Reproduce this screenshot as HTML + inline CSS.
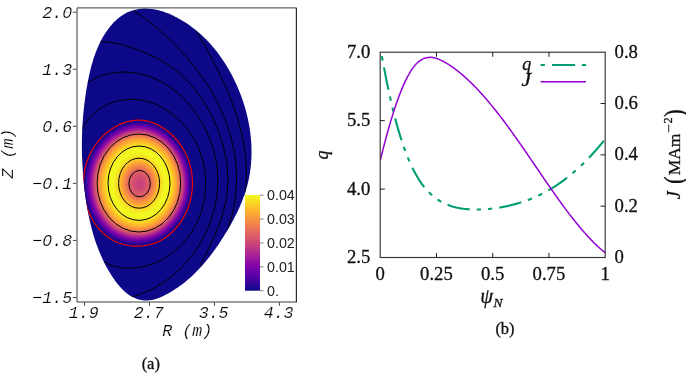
<!DOCTYPE html><html><head><meta charset="utf-8"><style>html,body{margin:0;padding:0;background:#fff}body{width:686px;height:373px;overflow:hidden;position:relative;font-family:"Liberation Sans",sans-serif}</style></head><body><svg width="686" height="373" viewBox="0 0 686 373" style="position:absolute;left:0;top:0;will-change:transform">
<defs>
<clipPath id="cb"><path d="M146.42 8.60L143.97 8.62L141.53 8.76L139.10 9.03L136.69 9.43L134.31 9.96L131.97 10.63L129.68 11.43L127.45 12.36L125.29 13.43L123.20 14.64L121.18 15.98L119.23 17.42L117.35 18.98L115.54 20.63L113.80 22.36L112.12 24.17L110.52 26.05L108.98 27.98L107.51 29.96L106.11 31.97L104.77 34.02L103.49 36.10L102.27 38.21L101.11 40.35L100.01 42.51L98.96 44.70L97.96 46.92L97.01 49.16L96.11 51.41L95.25 53.69L94.44 55.99L93.67 58.31L92.94 60.64L92.25 62.98L91.59 65.34L90.96 67.71L90.37 70.09L89.80 72.48L89.26 74.87L88.75 77.27L88.26 79.68L87.79 82.09L87.33 84.50L86.90 86.92L86.49 89.33L86.09 91.75L85.71 94.17L85.35 96.59L85.01 99.01L84.69 101.44L84.38 103.86L84.10 106.29L83.83 108.72L83.58 111.15L83.34 113.58L83.13 116.01L82.93 118.45L82.75 120.88L82.59 123.31L82.44 125.75L82.31 128.19L82.20 130.62L82.11 133.06L82.03 135.50L81.97 137.93L81.93 140.37L81.90 142.81L81.90 145.25L81.90 147.69L81.93 150.13L81.97 152.56L82.03 155.00L82.10 157.44L82.19 159.88L82.30 162.31L82.42 164.75L82.56 167.18L82.71 169.62L82.88 172.05L83.07 174.49L83.27 176.92L83.49 179.35L83.72 181.78L83.97 184.21L84.23 186.64L84.51 189.06L84.80 191.49L85.11 193.91L85.44 196.33L85.78 198.75L86.14 201.17L86.51 203.58L86.90 205.99L87.31 208.40L87.74 210.80L88.19 213.20L88.66 215.60L89.16 217.99L89.68 220.37L90.22 222.74L90.78 225.11L91.37 227.48L91.99 229.83L92.63 232.18L93.30 234.52L94.00 236.85L94.73 239.17L95.49 241.48L96.28 243.78L97.10 246.07L97.96 248.35L98.85 250.62L99.77 252.87L100.73 255.11L101.72 257.34L102.75 259.56L103.82 261.76L104.93 263.95L106.07 266.13L107.26 268.29L108.48 270.43L109.75 272.56L111.06 274.67L112.41 276.77L113.81 278.85L115.26 280.90L116.75 282.91L118.31 284.87L119.92 286.77L121.59 288.59L123.33 290.33L125.14 291.98L127.02 293.51L128.99 294.93L131.03 296.21L133.16 297.35L135.38 298.33L137.66 299.15L139.99 299.78L142.35 300.23L144.73 300.48L147.11 300.51L149.48 300.33L151.84 299.96L154.18 299.42L156.50 298.72L158.79 297.89L161.06 296.94L163.31 295.91L165.52 294.81L167.70 293.66L169.84 292.47L171.95 291.23L174.03 289.95L176.07 288.62L178.08 287.26L180.06 285.85L182.01 284.41L183.93 282.93L185.82 281.41L187.68 279.86L189.51 278.27L191.32 276.65L193.09 275.00L194.84 273.31L196.56 271.59L198.25 269.85L199.92 268.08L201.56 266.28L203.18 264.45L204.77 262.60L206.34 260.72L207.89 258.82L209.41 256.90L210.92 254.96L212.39 253.00L213.85 251.02L215.29 249.02L216.71 247.00L218.11 244.97L219.48 242.92L220.84 240.87L222.19 238.79L223.51 236.71L224.82 234.61L226.11 232.51L227.38 230.40L228.63 228.27L229.87 226.14L231.08 224.00L232.27 221.85L233.43 219.69L234.57 217.51L235.68 215.33L236.77 213.14L237.83 210.94L238.85 208.73L239.84 206.50L240.80 204.27L241.73 202.02L242.62 199.77L243.47 197.50L244.29 195.23L245.06 192.94L245.80 190.64L246.49 188.33L247.14 186.00L247.74 183.67L248.30 181.33L248.81 178.97L249.28 176.60L249.70 174.23L250.08 171.84L250.41 169.45L250.69 167.05L250.94 164.64L251.14 162.22L251.30 159.80L251.41 157.38L251.48 154.95L251.51 152.51L251.50 150.08L251.45 147.64L251.36 145.20L251.22 142.75L251.05 140.31L250.84 137.87L250.59 135.43L250.30 132.99L249.97 130.56L249.60 128.12L249.20 125.69L248.75 123.27L248.27 120.85L247.76 118.43L247.21 116.03L246.62 113.63L246.00 111.23L245.34 108.85L244.65 106.47L243.92 104.11L243.16 101.75L242.37 99.41L241.54 97.08L240.68 94.76L239.79 92.45L238.87 90.16L237.91 87.88L236.93 85.62L235.91 83.38L234.86 81.15L233.78 78.93L232.68 76.74L231.54 74.56L230.38 72.41L229.18 70.27L227.96 68.15L226.71 66.06L225.43 63.99L224.12 61.94L222.77 59.91L221.40 57.91L220.00 55.93L218.57 53.98L217.11 52.05L215.62 50.15L214.10 48.27L212.54 46.43L210.96 44.61L209.34 42.82L207.69 41.06L206.01 39.33L204.30 37.64L202.56 35.97L200.78 34.34L198.97 32.74L197.13 31.17L195.26 29.64L193.35 28.15L191.41 26.69L189.44 25.26L187.43 23.87L185.39 22.52L183.31 21.21L181.20 19.94L179.06 18.71L176.88 17.52L174.68 16.38L172.44 15.29L170.17 14.27L167.88 13.31L165.57 12.42L163.23 11.61L160.88 10.89L158.50 10.25L156.11 9.71L153.70 9.27L151.28 8.93L148.86 8.71Z"/></clipPath>
<linearGradient id="cbar" x1="0" y1="1" x2="0" y2="0">
<stop offset="0.00" stop-color="#0d0887"/>
<stop offset="0.05" stop-color="#270694"/>
<stop offset="0.10" stop-color="#41049d"/>
<stop offset="0.15" stop-color="#5702a4"/>
<stop offset="0.20" stop-color="#6a00a8"/>
<stop offset="0.25" stop-color="#7e03a8"/>
<stop offset="0.30" stop-color="#8f0da4"/>
<stop offset="0.35" stop-color="#a11b9b"/>
<stop offset="0.40" stop-color="#b12a90"/>
<stop offset="0.45" stop-color="#bf3984"/>
<stop offset="0.50" stop-color="#cc4778"/>
<stop offset="0.55" stop-color="#d7566d"/>
<stop offset="0.60" stop-color="#e16462"/>
<stop offset="0.65" stop-color="#ea7457"/>
<stop offset="0.70" stop-color="#f2844b"/>
<stop offset="0.75" stop-color="#f89540"/>
<stop offset="0.80" stop-color="#fca636"/>
<stop offset="0.85" stop-color="#feba2c"/>
<stop offset="0.90" stop-color="#fcce25"/>
<stop offset="0.95" stop-color="#f7e425"/>
<stop offset="1.00" stop-color="#f0f921"/>
</linearGradient>
</defs>
<path d="M146.42 8.60L143.97 8.62L141.53 8.76L139.10 9.03L136.69 9.43L134.31 9.96L131.97 10.63L129.68 11.43L127.45 12.36L125.29 13.43L123.20 14.64L121.18 15.98L119.23 17.42L117.35 18.98L115.54 20.63L113.80 22.36L112.12 24.17L110.52 26.05L108.98 27.98L107.51 29.96L106.11 31.97L104.77 34.02L103.49 36.10L102.27 38.21L101.11 40.35L100.01 42.51L98.96 44.70L97.96 46.92L97.01 49.16L96.11 51.41L95.25 53.69L94.44 55.99L93.67 58.31L92.94 60.64L92.25 62.98L91.59 65.34L90.96 67.71L90.37 70.09L89.80 72.48L89.26 74.87L88.75 77.27L88.26 79.68L87.79 82.09L87.33 84.50L86.90 86.92L86.49 89.33L86.09 91.75L85.71 94.17L85.35 96.59L85.01 99.01L84.69 101.44L84.38 103.86L84.10 106.29L83.83 108.72L83.58 111.15L83.34 113.58L83.13 116.01L82.93 118.45L82.75 120.88L82.59 123.31L82.44 125.75L82.31 128.19L82.20 130.62L82.11 133.06L82.03 135.50L81.97 137.93L81.93 140.37L81.90 142.81L81.90 145.25L81.90 147.69L81.93 150.13L81.97 152.56L82.03 155.00L82.10 157.44L82.19 159.88L82.30 162.31L82.42 164.75L82.56 167.18L82.71 169.62L82.88 172.05L83.07 174.49L83.27 176.92L83.49 179.35L83.72 181.78L83.97 184.21L84.23 186.64L84.51 189.06L84.80 191.49L85.11 193.91L85.44 196.33L85.78 198.75L86.14 201.17L86.51 203.58L86.90 205.99L87.31 208.40L87.74 210.80L88.19 213.20L88.66 215.60L89.16 217.99L89.68 220.37L90.22 222.74L90.78 225.11L91.37 227.48L91.99 229.83L92.63 232.18L93.30 234.52L94.00 236.85L94.73 239.17L95.49 241.48L96.28 243.78L97.10 246.07L97.96 248.35L98.85 250.62L99.77 252.87L100.73 255.11L101.72 257.34L102.75 259.56L103.82 261.76L104.93 263.95L106.07 266.13L107.26 268.29L108.48 270.43L109.75 272.56L111.06 274.67L112.41 276.77L113.81 278.85L115.26 280.90L116.75 282.91L118.31 284.87L119.92 286.77L121.59 288.59L123.33 290.33L125.14 291.98L127.02 293.51L128.99 294.93L131.03 296.21L133.16 297.35L135.38 298.33L137.66 299.15L139.99 299.78L142.35 300.23L144.73 300.48L147.11 300.51L149.48 300.33L151.84 299.96L154.18 299.42L156.50 298.72L158.79 297.89L161.06 296.94L163.31 295.91L165.52 294.81L167.70 293.66L169.84 292.47L171.95 291.23L174.03 289.95L176.07 288.62L178.08 287.26L180.06 285.85L182.01 284.41L183.93 282.93L185.82 281.41L187.68 279.86L189.51 278.27L191.32 276.65L193.09 275.00L194.84 273.31L196.56 271.59L198.25 269.85L199.92 268.08L201.56 266.28L203.18 264.45L204.77 262.60L206.34 260.72L207.89 258.82L209.41 256.90L210.92 254.96L212.39 253.00L213.85 251.02L215.29 249.02L216.71 247.00L218.11 244.97L219.48 242.92L220.84 240.87L222.19 238.79L223.51 236.71L224.82 234.61L226.11 232.51L227.38 230.40L228.63 228.27L229.87 226.14L231.08 224.00L232.27 221.85L233.43 219.69L234.57 217.51L235.68 215.33L236.77 213.14L237.83 210.94L238.85 208.73L239.84 206.50L240.80 204.27L241.73 202.02L242.62 199.77L243.47 197.50L244.29 195.23L245.06 192.94L245.80 190.64L246.49 188.33L247.14 186.00L247.74 183.67L248.30 181.33L248.81 178.97L249.28 176.60L249.70 174.23L250.08 171.84L250.41 169.45L250.69 167.05L250.94 164.64L251.14 162.22L251.30 159.80L251.41 157.38L251.48 154.95L251.51 152.51L251.50 150.08L251.45 147.64L251.36 145.20L251.22 142.75L251.05 140.31L250.84 137.87L250.59 135.43L250.30 132.99L249.97 130.56L249.60 128.12L249.20 125.69L248.75 123.27L248.27 120.85L247.76 118.43L247.21 116.03L246.62 113.63L246.00 111.23L245.34 108.85L244.65 106.47L243.92 104.11L243.16 101.75L242.37 99.41L241.54 97.08L240.68 94.76L239.79 92.45L238.87 90.16L237.91 87.88L236.93 85.62L235.91 83.38L234.86 81.15L233.78 78.93L232.68 76.74L231.54 74.56L230.38 72.41L229.18 70.27L227.96 68.15L226.71 66.06L225.43 63.99L224.12 61.94L222.77 59.91L221.40 57.91L220.00 55.93L218.57 53.98L217.11 52.05L215.62 50.15L214.10 48.27L212.54 46.43L210.96 44.61L209.34 42.82L207.69 41.06L206.01 39.33L204.30 37.64L202.56 35.97L200.78 34.34L198.97 32.74L197.13 31.17L195.26 29.64L193.35 28.15L191.41 26.69L189.44 25.26L187.43 23.87L185.39 22.52L183.31 21.21L181.20 19.94L179.06 18.71L176.88 17.52L174.68 16.38L172.44 15.29L170.17 14.27L167.88 13.31L165.57 12.42L163.23 11.61L160.88 10.89L158.50 10.25L156.11 9.71L153.70 9.27L151.28 8.93L148.86 8.71Z" fill="#0d0887"/>
<g clip-path="url(#cb)">
<path d="M83.4 183.3L83.5 179.5L83.8 175.6L84.4 171.8L85.2 168.0L86.1 164.2L87.4 160.5L88.8 156.9L90.5 153.3L92.3 149.8L94.5 146.4L96.8 143.0L99.4 139.9L102.2 136.8L105.2 134.0L108.5 131.3L111.9 128.8L115.6 126.6L119.4 124.6L123.5 123.0L127.6 121.6L131.9 120.7L136.3 120.2L140.7 120.2L145.1 120.7L149.4 121.7L153.5 123.1L157.5 124.8L161.3 126.8L164.9 129.2L168.3 131.7L171.4 134.5L174.4 137.4L177.1 140.4L179.6 143.6L181.9 146.9L183.9 150.3L185.7 153.8L187.3 157.3L188.7 161.0L189.8 164.6L190.8 168.3L191.5 172.0L192.0 175.8L192.3 179.5L192.4 183.3L192.3 187.1L192.0 190.8L191.5 194.6L190.8 198.3L189.9 202.0L188.8 205.7L187.4 209.3L185.8 212.9L184.1 216.4L182.1 219.9L179.8 223.2L177.4 226.5L174.7 229.6L171.7 232.5L168.5 235.3L165.1 237.8L161.4 240.1L157.6 242.0L153.5 243.6L149.3 244.8L145.0 245.6L140.7 246.0L136.3 246.2L131.9 245.9L127.6 245.3L123.3 244.4L119.1 243.0L115.1 241.3L111.2 239.3L107.6 236.9L104.2 234.1L101.1 231.2L98.3 228.0L95.7 224.6L93.4 221.1L91.4 217.5L89.6 213.9L88.1 210.1L86.8 206.3L85.7 202.5L84.8 198.7L84.1 194.9L83.7 191.0L83.4 187.2Z" fill="#100888"/>
<path d="M84.0 183.3L84.1 179.5L84.5 175.7L85.0 171.9L85.8 168.2L86.8 164.5L88.0 160.8L89.4 157.2L91.0 153.6L92.9 150.1L95.0 146.8L97.3 143.5L99.8 140.3L102.6 137.3L105.6 134.5L108.8 131.9L112.2 129.4L115.9 127.2L119.7 125.3L123.6 123.6L127.8 122.3L132.0 121.4L136.3 120.9L140.7 120.9L145.0 121.4L149.3 122.4L153.4 123.7L157.3 125.4L161.1 127.5L164.6 129.8L168.0 132.3L171.1 135.0L174.0 137.9L176.7 140.9L179.2 144.0L181.4 147.3L183.4 150.7L185.2 154.1L186.8 157.6L188.1 161.2L189.3 164.8L190.2 168.5L190.9 172.2L191.4 175.9L191.8 179.6L191.9 183.3L191.8 187.0L191.5 190.7L191.0 194.5L190.3 198.1L189.3 201.8L188.2 205.4L186.9 209.0L185.3 212.6L183.6 216.0L181.6 219.5L179.4 222.8L177.0 226.0L174.3 229.1L171.4 232.0L168.2 234.7L164.8 237.2L161.2 239.4L157.4 241.3L153.4 242.9L149.2 244.1L145.0 244.9L140.7 245.4L136.3 245.5L132.0 245.2L127.7 244.6L123.5 243.7L119.3 242.4L115.3 240.7L111.5 238.6L108.0 236.2L104.6 233.6L101.5 230.6L98.7 227.5L96.2 224.2L93.9 220.7L91.9 217.1L90.2 213.5L88.7 209.8L87.4 206.1L86.3 202.3L85.4 198.5L84.8 194.7L84.3 190.9L84.1 187.1Z" fill="#17078c"/>
<path d="M84.6 183.3L84.8 179.5L85.1 175.8L85.6 172.1L86.4 168.4L87.4 164.7L88.5 161.1L89.9 157.5L91.6 154.0L93.4 150.5L95.5 147.2L97.8 143.9L100.3 140.8L103.0 137.9L106.0 135.1L109.2 132.4L112.5 130.0L116.1 127.8L119.9 125.9L123.8 124.3L127.9 123.0L132.1 122.1L136.4 121.6L140.7 121.6L145.0 122.1L149.1 123.1L153.2 124.4L157.1 126.1L160.8 128.1L164.4 130.4L167.7 132.8L170.8 135.5L173.6 138.4L176.3 141.4L178.7 144.5L181.0 147.7L183.0 151.0L184.7 154.4L186.3 157.9L187.6 161.5L188.7 165.0L189.7 168.6L190.4 172.3L190.9 176.0L191.2 179.6L191.3 183.3L191.2 187.0L190.9 190.7L190.4 194.3L189.7 198.0L188.8 201.6L187.7 205.2L186.4 208.7L184.8 212.2L183.1 215.7L181.1 219.1L179.0 222.3L176.5 225.5L173.9 228.6L171.0 231.5L167.9 234.2L164.5 236.6L160.9 238.8L157.2 240.7L153.2 242.2L149.1 243.4L144.9 244.2L140.7 244.7L136.4 244.8L132.1 244.5L127.8 243.9L123.6 243.0L119.6 241.7L115.6 240.0L111.9 238.0L108.3 235.6L105.0 233.0L102.0 230.1L99.2 227.0L96.7 223.7L94.5 220.3L92.5 216.7L90.8 213.2L89.3 209.5L88.0 205.8L86.9 202.1L86.1 198.3L85.4 194.6L85.0 190.8L84.7 187.1Z" fill="#210691"/>
<path d="M85.3 183.3L85.4 179.6L85.7 175.9L86.3 172.2L87.0 168.5L88.0 164.9L89.1 161.3L90.5 157.8L92.1 154.3L93.9 150.9L96.0 147.6L98.2 144.4L100.7 141.3L103.4 138.4L106.4 135.6L109.5 133.0L112.8 130.6L116.4 128.5L120.1 126.6L124.0 125.0L128.0 123.7L132.2 122.8L136.4 122.3L140.7 122.3L144.9 122.8L149.0 123.7L153.1 125.1L156.9 126.7L160.6 128.7L164.1 130.9L167.4 133.4L170.4 136.0L173.3 138.9L175.9 141.8L178.3 144.9L180.5 148.1L182.5 151.4L184.2 154.8L185.8 158.2L187.1 161.7L188.2 165.2L189.1 168.8L189.8 172.4L190.3 176.0L190.6 179.7L190.7 183.3L190.6 187.0L190.3 190.6L189.8 194.2L189.1 197.8L188.2 201.4L187.1 204.9L185.8 208.5L184.3 211.9L182.6 215.3L180.7 218.7L178.5 221.9L176.1 225.1L173.5 228.1L170.7 230.9L167.6 233.6L164.2 236.0L160.7 238.2L157.0 240.0L153.1 241.6L149.0 242.7L144.9 243.5L140.7 244.0L136.4 244.1L132.2 243.8L128.0 243.2L123.8 242.3L119.8 241.0L115.9 239.3L112.2 237.3L108.7 235.0L105.4 232.4L102.4 229.5L99.7 226.4L97.2 223.2L95.0 219.8L93.1 216.4L91.3 212.8L89.9 209.2L88.6 205.5L87.5 201.9L86.7 198.2L86.1 194.5L85.6 190.7L85.3 187.0Z" fill="#2b0695"/>
<path d="M85.9 183.3L86.1 179.6L86.4 176.0L86.9 172.3L87.6 168.7L88.6 165.1L89.7 161.6L91.1 158.1L92.7 154.6L94.5 151.3L96.5 148.0L98.7 144.8L101.2 141.8L103.8 138.9L106.7 136.2L109.8 133.6L113.1 131.2L116.6 129.1L120.3 127.2L124.2 125.7L128.2 124.4L132.3 123.5L136.4 123.1L140.7 123.1L144.8 123.5L148.9 124.4L152.9 125.7L156.7 127.4L160.4 129.3L163.8 131.5L167.0 134.0L170.1 136.6L172.9 139.4L175.5 142.3L177.9 145.3L180.0 148.5L182.0 151.8L183.7 155.1L185.2 158.5L186.5 161.9L187.6 165.4L188.5 169.0L189.2 172.5L189.7 176.1L190.0 179.7L190.1 183.3L190.0 186.9L189.7 190.5L189.2 194.1L188.6 197.7L187.7 201.2L186.6 204.7L185.3 208.2L183.8 211.6L182.1 215.0L180.2 218.3L178.1 221.5L175.7 224.6L173.1 227.6L170.3 230.4L167.2 233.0L164.0 235.4L160.5 237.6L156.8 239.4L152.9 240.9L148.9 242.0L144.8 242.8L140.6 243.3L136.5 243.4L132.3 243.1L128.1 242.5L124.0 241.6L120.0 240.3L116.2 238.7L112.5 236.7L109.1 234.4L105.9 231.8L102.9 229.0L100.2 225.9L97.7 222.7L95.6 219.4L93.6 216.0L91.9 212.5L90.4 208.9L89.2 205.3L88.2 201.7L87.3 198.0L86.7 194.3L86.2 190.7L86.0 187.0Z" fill="#38059a"/>
<path d="M86.6 183.3L86.7 179.7L87.0 176.1L87.5 172.5L88.3 168.9L89.2 165.3L90.3 161.8L91.7 158.4L93.2 155.0L95.0 151.7L97.0 148.4L99.2 145.3L101.6 142.3L104.3 139.4L107.1 136.7L110.2 134.2L113.5 131.8L116.9 129.7L120.5 127.9L124.4 126.3L128.3 125.1L132.3 124.2L136.5 123.8L140.6 123.8L144.8 124.2L148.8 125.1L152.8 126.4L156.5 128.0L160.1 129.9L163.5 132.1L166.7 134.5L169.7 137.1L172.5 139.9L175.1 142.8L177.4 145.8L179.6 148.9L181.5 152.1L183.2 155.4L184.7 158.8L186.0 162.2L187.1 165.7L188.0 169.2L188.6 172.7L189.1 176.2L189.4 179.8L189.5 183.3L189.4 186.9L189.2 190.4L188.7 194.0L188.0 197.5L187.1 201.0L186.1 204.5L184.8 207.9L183.3 211.3L181.6 214.6L179.7 217.9L177.6 221.0L175.3 224.1L172.7 227.1L169.9 229.8L166.9 232.4L163.7 234.8L160.2 236.9L156.6 238.8L152.8 240.2L148.8 241.4L144.7 242.2L140.6 242.6L136.5 242.7L132.3 242.4L128.2 241.8L124.2 240.9L120.3 239.6L116.5 238.0L112.8 236.1L109.4 233.8L106.3 231.2L103.3 228.4L100.7 225.4L98.2 222.2L96.1 219.0L94.2 215.6L92.5 212.1L91.0 208.6L89.8 205.0L88.8 201.4L88.0 197.8L87.3 194.2L86.9 190.6L86.6 186.9Z" fill="#46049f"/>
<path d="M87.2 183.3L87.3 179.7L87.7 176.2L88.2 172.6L88.9 169.1L89.8 165.6L90.9 162.1L92.2 158.7L93.8 155.3L95.5 152.0L97.5 148.8L99.7 145.7L102.1 142.8L104.7 139.9L107.5 137.2L110.5 134.7L113.8 132.4L117.2 130.4L120.8 128.5L124.5 127.0L128.4 125.8L132.4 124.9L136.5 124.5L140.6 124.5L144.7 124.9L148.7 125.8L152.6 127.1L156.3 128.7L159.9 130.6L163.3 132.7L166.4 135.1L169.4 137.6L172.1 140.4L174.7 143.2L177.0 146.2L179.1 149.3L181.0 152.5L182.7 155.7L184.2 159.1L185.5 162.4L186.5 165.9L187.4 169.3L188.1 172.8L188.6 176.3L188.8 179.8L188.9 183.3L188.9 186.8L188.6 190.3L188.1 193.8L187.4 197.3L186.6 200.8L185.5 204.2L184.3 207.6L182.8 211.0L181.1 214.3L179.3 217.5L177.2 220.6L174.9 223.6L172.4 226.6L169.6 229.3L166.6 231.9L163.4 234.2L160.0 236.3L156.4 238.1L152.6 239.6L148.7 240.7L144.7 241.5L140.6 241.9L136.5 242.0L132.4 241.7L128.4 241.2L124.4 240.2L120.5 239.0L116.7 237.4L113.2 235.4L109.8 233.2L106.7 230.6L103.8 227.9L101.1 224.9L98.8 221.8L96.6 218.5L94.7 215.2L93.1 211.8L91.6 208.3L90.4 204.8L89.4 201.2L88.6 197.7L88.0 194.1L87.5 190.5L87.3 186.9Z" fill="#5402a3"/>
<path d="M87.9 183.3L88.0 179.8L88.3 176.3L88.8 172.7L89.5 169.2L90.4 165.8L91.5 162.4L92.8 159.0L94.3 155.7L96.1 152.4L98.0 149.3L100.1 146.2L102.5 143.3L105.1 140.4L107.9 137.8L110.9 135.3L114.1 133.0L117.4 131.0L121.0 129.2L124.7 127.7L128.6 126.5L132.5 125.6L136.6 125.2L140.6 125.2L144.7 125.6L148.6 126.5L152.4 127.7L156.1 129.3L159.7 131.2L163.0 133.3L166.1 135.6L169.0 138.2L171.8 140.9L174.3 143.7L176.6 146.6L178.7 149.7L180.5 152.8L182.2 156.1L183.7 159.4L184.9 162.7L186.0 166.1L186.8 169.5L187.5 172.9L188.0 176.4L188.3 179.8L188.4 183.3L188.3 186.8L188.0 190.3L187.5 193.7L186.9 197.2L186.0 200.6L185.0 204.0L183.7 207.3L182.3 210.6L180.7 213.9L178.8 217.1L176.8 220.2L174.5 223.2L172.0 226.1L169.2 228.8L166.3 231.3L163.1 233.6L159.7 235.7L156.2 237.5L152.4 238.9L148.6 240.0L144.6 240.8L140.6 241.2L136.6 241.3L132.5 241.1L128.5 240.5L124.6 239.6L120.7 238.3L117.0 236.7L113.5 234.8L110.2 232.5L107.1 230.0L104.2 227.3L101.6 224.4L99.3 221.3L97.2 218.1L95.3 214.8L93.6 211.4L92.2 208.0L91.0 204.5L90.0 201.0L89.2 197.5L88.6 193.9L88.2 190.4L87.9 186.9Z" fill="#6001a6"/>
<path d="M88.5 183.3L88.6 179.8L88.9 176.3L89.4 172.9L90.1 169.4L91.0 166.0L92.1 162.6L93.4 159.3L94.9 156.0L96.6 152.8L98.5 149.7L100.6 146.6L102.9 143.7L105.5 141.0L108.2 138.3L111.2 135.9L114.4 133.6L117.7 131.6L121.2 129.8L124.9 128.3L128.7 127.1L132.6 126.3L136.6 125.9L140.6 125.9L144.6 126.3L148.5 127.2L152.3 128.4L155.9 130.0L159.4 131.8L162.7 133.9L165.8 136.2L168.7 138.7L171.4 141.4L173.9 144.2L176.1 147.1L178.2 150.1L180.1 153.2L181.7 156.4L183.1 159.6L184.4 162.9L185.4 166.3L186.3 169.7L186.9 173.1L187.4 176.5L187.7 179.9L187.8 183.3L187.7 186.8L187.4 190.2L187.0 193.6L186.3 197.0L185.5 200.4L184.4 203.7L183.2 207.0L181.8 210.3L180.2 213.5L178.3 216.7L176.3 219.7L174.1 222.7L171.6 225.6L168.9 228.2L166.0 230.8L162.8 233.0L159.5 235.1L156.0 236.8L152.3 238.3L148.5 239.4L144.6 240.1L140.6 240.5L136.6 240.6L132.6 240.4L128.6 239.8L124.7 238.9L121.0 237.6L117.3 236.1L113.8 234.1L110.5 231.9L107.5 229.5L104.7 226.8L102.1 223.9L99.8 220.8L97.7 217.7L95.8 214.4L94.2 211.1L92.8 207.7L91.6 204.2L90.6 200.8L89.8 197.3L89.2 193.8L88.8 190.3L88.6 186.8Z" fill="#6e01a8"/>
<path d="M89.1 183.3L89.3 179.9L89.6 176.4L90.0 173.0L90.7 169.6L91.6 166.2L92.7 162.9L93.9 159.6L95.4 156.3L97.1 153.2L99.0 150.1L101.1 147.1L103.4 144.2L105.9 141.5L108.6 138.9L111.5 136.5L114.7 134.2L118.0 132.2L121.4 130.5L125.1 129.0L128.8 127.8L132.7 127.0L136.6 126.6L140.6 126.6L144.5 127.0L148.4 127.8L152.1 129.1L155.7 130.6L159.2 132.4L162.4 134.5L165.5 136.8L168.4 139.2L171.0 141.9L173.5 144.6L175.7 147.5L177.7 150.5L179.6 153.6L181.2 156.7L182.6 159.9L183.9 163.2L184.9 166.5L185.7 169.8L186.4 173.2L186.8 176.6L187.1 179.9L187.2 183.3L187.1 186.7L186.8 190.1L186.4 193.5L185.7 196.8L184.9 200.2L183.9 203.5L182.7 206.8L181.3 210.0L179.7 213.2L177.9 216.3L175.9 219.3L173.6 222.2L171.2 225.1L168.5 227.7L165.7 230.2L162.6 232.5L159.3 234.5L155.8 236.2L152.1 237.6L148.4 238.7L144.5 239.4L140.6 239.8L136.6 239.9L132.7 239.7L128.8 239.1L124.9 238.2L121.2 237.0L117.6 235.4L114.1 233.5L110.9 231.3L107.9 228.9L105.1 226.2L102.6 223.4L100.3 220.4L98.2 217.2L96.4 214.0L94.8 210.7L93.4 207.4L92.2 204.0L91.3 200.6L90.5 197.1L89.9 193.7L89.4 190.2L89.2 186.8Z" fill="#7c03a8"/>
<path d="M89.8 183.3L89.9 179.9L90.2 176.5L90.7 173.1L91.3 169.8L92.2 166.4L93.3 163.1L94.5 159.9L96.0 156.7L97.6 153.6L99.5 150.5L101.6 147.5L103.8 144.7L106.3 142.0L109.0 139.4L111.9 137.0L115.0 134.8L118.2 132.8L121.7 131.1L125.2 129.6L129.0 128.5L132.8 127.7L136.7 127.3L140.6 127.3L144.5 127.7L148.3 128.5L152.0 129.7L155.6 131.2L158.9 133.0L162.2 135.1L165.2 137.3L168.0 139.8L170.6 142.4L173.1 145.1L175.3 147.9L177.3 150.9L179.1 153.9L180.7 157.0L182.1 160.2L183.3 163.4L184.3 166.7L185.2 170.0L185.8 173.3L186.2 176.6L186.5 180.0L186.6 183.3L186.5 186.7L186.3 190.0L185.8 193.4L185.2 196.7L184.4 200.0L183.4 203.3L182.2 206.5L180.8 209.7L179.2 212.8L177.4 215.9L175.4 218.9L173.2 221.8L170.8 224.5L168.2 227.2L165.3 229.6L162.3 231.9L159.0 233.8L155.6 235.6L152.0 237.0L148.3 238.0L144.4 238.8L140.6 239.2L136.7 239.2L132.8 239.0L128.9 238.4L125.1 237.5L121.4 236.3L117.8 234.7L114.5 232.9L111.3 230.7L108.3 228.3L105.5 225.7L103.0 222.9L100.8 219.9L98.7 216.8L96.9 213.6L95.4 210.4L94.0 207.1L92.8 203.7L91.9 200.4L91.1 197.0L90.5 193.6L90.1 190.2L89.8 186.7Z" fill="#8809a6"/>
<path d="M90.4 183.3L90.5 180.0L90.8 176.6L91.3 173.3L92.0 170.0L92.8 166.7L93.8 163.4L95.1 160.2L96.5 157.0L98.2 153.9L100.0 150.9L102.0 148.0L104.3 145.2L106.7 142.5L109.4 140.0L112.2 137.6L115.3 135.4L118.5 133.5L121.9 131.8L125.4 130.3L129.1 129.2L132.9 128.4L136.7 128.0L140.6 128.0L144.4 128.4L148.2 129.2L151.8 130.4L155.4 131.9L158.7 133.6L161.9 135.7L164.9 137.9L167.7 140.3L170.3 142.9L172.7 145.6L174.8 148.4L176.8 151.3L178.6 154.3L180.2 157.4L181.6 160.5L182.8 163.7L183.8 166.9L184.6 170.2L185.2 173.4L185.7 176.7L185.9 180.0L186.0 183.3L185.9 186.6L185.7 189.9L185.2 193.2L184.6 196.5L183.8 199.8L182.8 203.0L181.6 206.2L180.3 209.4L178.7 212.5L177.0 215.5L175.0 218.5L172.8 221.3L170.4 224.0L167.8 226.6L165.0 229.1L162.0 231.3L158.8 233.2L155.4 234.9L151.8 236.3L148.2 237.4L144.4 238.1L140.6 238.5L136.7 238.6L132.9 238.3L129.0 237.7L125.3 236.8L121.6 235.6L118.1 234.1L114.8 232.3L111.6 230.1L108.7 227.7L106.0 225.1L103.5 222.3L101.3 219.4L99.3 216.4L97.5 213.2L95.9 210.0L94.6 206.8L93.4 203.5L92.5 200.1L91.7 196.8L91.1 193.4L90.7 190.1L90.5 186.7Z" fill="#9210a2"/>
<path d="M91.1 183.3L91.2 180.0L91.5 176.7L91.9 173.4L92.6 170.1L93.4 166.9L94.4 163.7L95.7 160.5L97.1 157.4L98.7 154.3L100.5 151.3L102.5 148.4L104.7 145.7L107.1 143.0L109.8 140.5L112.6 138.2L115.6 136.0L118.7 134.1L122.1 132.4L125.6 131.0L129.2 129.8L132.9 129.1L136.7 128.7L140.6 128.7L144.4 129.1L148.1 129.9L151.7 131.0L155.2 132.5L158.5 134.3L161.6 136.2L164.6 138.4L167.3 140.8L169.9 143.4L172.2 146.0L174.4 148.8L176.4 151.7L178.1 154.7L179.7 157.7L181.1 160.8L182.2 163.9L183.2 167.1L184.0 170.3L184.6 173.6L185.1 176.8L185.4 180.1L185.5 183.3L185.4 186.6L185.1 189.9L184.7 193.1L184.1 196.4L183.3 199.6L182.3 202.8L181.1 205.9L179.8 209.0L178.2 212.1L176.5 215.1L174.6 218.0L172.4 220.8L170.1 223.5L167.5 226.1L164.7 228.5L161.7 230.7L158.6 232.6L155.2 234.3L151.7 235.7L148.1 236.7L144.3 237.4L140.5 237.8L136.7 237.9L132.9 237.6L129.2 237.1L125.5 236.2L121.9 235.0L118.4 233.5L115.1 231.6L112.0 229.5L109.1 227.2L106.4 224.6L104.0 221.8L101.8 218.9L99.8 215.9L98.0 212.8L96.5 209.7L95.2 206.5L94.0 203.2L93.1 199.9L92.3 196.6L91.8 193.3L91.4 190.0L91.1 186.7Z" fill="#9e189d"/>
<path d="M91.7 183.3L91.8 180.1L92.1 176.8L92.5 173.5L93.2 170.3L94.0 167.1L95.0 163.9L96.2 160.8L97.6 157.7L99.2 154.7L101.0 151.7L103.0 148.9L105.2 146.1L107.5 143.5L110.1 141.0L112.9 138.7L115.9 136.6L119.0 134.7L122.3 133.0L125.8 131.6L129.3 130.5L133.0 129.7L136.8 129.3L140.5 129.3L144.3 129.8L148.0 130.5L151.5 131.7L155.0 133.1L158.2 134.9L161.3 136.8L164.3 139.0L167.0 141.4L169.5 143.9L171.8 146.5L174.0 149.2L175.9 152.1L177.6 155.0L179.2 158.0L180.5 161.1L181.7 164.2L182.7 167.3L183.5 170.5L184.1 173.7L184.5 176.9L184.8 180.1L184.9 183.3L184.8 186.6L184.5 189.8L184.1 193.0L183.5 196.2L182.7 199.4L181.7 202.5L180.6 205.6L179.3 208.7L177.7 211.7L176.0 214.7L174.1 217.6L172.0 220.4L169.7 223.0L167.1 225.6L164.4 227.9L161.5 230.1L158.3 232.0L155.0 233.7L151.5 235.0L147.9 236.0L144.3 236.7L140.5 237.1L136.8 237.2L133.0 236.9L129.3 236.4L125.7 235.5L122.1 234.3L118.7 232.8L115.4 231.0L112.3 228.9L109.5 226.6L106.9 224.0L104.5 221.3L102.3 218.5L100.3 215.5L98.6 212.5L97.1 209.3L95.8 206.2L94.6 202.9L93.7 199.7L93.0 196.4L92.4 193.2L92.0 189.9L91.8 186.6Z" fill="#a92296"/>
<path d="M92.3 183.3L92.4 180.1L92.7 176.9L93.2 173.7L93.8 170.5L94.6 167.3L95.6 164.2L96.8 161.1L98.2 158.0L99.7 155.1L101.5 152.1L103.4 149.3L105.6 146.6L108.0 144.0L110.5 141.6L113.2 139.3L116.2 137.2L119.3 135.3L122.5 133.7L125.9 132.3L129.5 131.2L133.1 130.4L136.8 130.0L140.5 130.0L144.2 130.4L147.9 131.2L151.4 132.3L154.8 133.8L158.0 135.5L161.1 137.4L163.9 139.6L166.6 141.9L169.1 144.4L171.4 147.0L173.5 149.7L175.5 152.5L177.2 155.4L178.7 158.3L180.0 161.4L181.2 164.4L182.1 167.5L182.9 170.7L183.5 173.8L183.9 177.0L184.2 180.2L184.3 183.3L184.2 186.5L183.9 189.7L183.5 192.9L182.9 196.0L182.2 199.2L181.2 202.3L180.1 205.4L178.8 208.4L177.3 211.4L175.6 214.3L173.7 217.2L171.6 219.9L169.3 222.5L166.8 225.0L164.1 227.4L161.2 229.5L158.1 231.4L154.8 233.0L151.4 234.4L147.8 235.4L144.2 236.1L140.5 236.5L136.8 236.5L133.1 236.3L129.4 235.7L125.8 234.8L122.3 233.7L118.9 232.2L115.7 230.4L112.7 228.3L109.9 226.0L107.3 223.5L104.9 220.8L102.8 218.0L100.9 215.1L99.1 212.1L97.6 209.0L96.3 205.9L95.2 202.7L94.3 199.5L93.6 196.3L93.0 193.1L92.6 189.8L92.4 186.6Z" fill="#b32c8e"/>
<path d="M93.0 183.4L93.1 180.2L93.3 177.0L93.8 173.8L94.4 170.7L95.2 167.5L96.2 164.4L97.4 161.4L98.7 158.4L100.3 155.4L102.0 152.6L103.9 149.8L106.0 147.1L108.4 144.5L110.9 142.1L113.6 139.9L116.5 137.8L119.5 135.9L122.8 134.3L126.1 132.9L129.6 131.9L133.2 131.1L136.8 130.7L140.5 130.7L144.2 131.1L147.8 131.9L151.2 133.0L154.6 134.4L157.8 136.1L160.8 138.0L163.6 140.1L166.3 142.4L168.8 144.9L171.0 147.4L173.1 150.1L175.0 152.9L176.7 155.7L178.2 158.7L179.5 161.7L180.6 164.7L181.6 167.7L182.3 170.8L182.9 173.9L183.4 177.1L183.6 180.2L183.7 183.4L183.6 186.5L183.4 189.6L183.0 192.8L182.4 195.9L181.6 199.0L180.7 202.0L179.5 205.1L178.3 208.1L176.8 211.0L175.1 213.9L173.2 216.7L171.2 219.4L168.9 222.0L166.4 224.5L163.8 226.8L160.9 228.9L157.8 230.8L154.6 232.4L151.2 233.7L147.7 234.7L144.2 235.4L140.5 235.8L136.9 235.8L133.2 235.6L129.6 235.0L126.0 234.2L122.6 233.0L119.2 231.5L116.1 229.8L113.1 227.7L110.3 225.4L107.7 223.0L105.4 220.3L103.3 217.5L101.4 214.7L99.7 211.7L98.2 208.6L96.9 205.6L95.8 202.4L94.9 199.3L94.2 196.1L93.6 192.9L93.3 189.7L93.0 186.5Z" fill="#bd3686"/>
<path d="M93.6 183.4L93.7 180.2L94.0 177.1L94.4 173.9L95.0 170.8L95.8 167.7L96.8 164.7L97.9 161.7L99.3 158.7L100.8 155.8L102.5 153.0L104.4 150.2L106.5 147.6L108.8 145.1L111.3 142.7L113.9 140.4L116.8 138.4L119.8 136.6L123.0 135.0L126.3 133.6L129.7 132.5L133.3 131.8L136.9 131.4L140.5 131.4L144.1 131.8L147.7 132.6L151.1 133.7L154.4 135.1L157.5 136.7L160.5 138.6L163.3 140.7L166.0 142.9L168.4 145.4L170.6 147.9L172.7 150.5L174.5 153.3L176.2 156.1L177.7 159.0L179.0 161.9L180.1 164.9L181.0 168.0L181.8 171.0L182.4 174.1L182.8 177.2L183.0 180.3L183.1 183.4L183.0 186.5L182.8 189.6L182.4 192.6L181.8 195.7L181.0 198.8L180.1 201.8L179.0 204.8L177.7 207.8L176.3 210.7L174.6 213.5L172.8 216.3L170.8 219.0L168.5 221.5L166.1 224.0L163.5 226.2L160.6 228.3L157.6 230.2L154.4 231.8L151.1 233.1L147.6 234.0L144.1 234.7L140.5 235.1L136.9 235.2L133.3 234.9L129.7 234.4L126.2 233.5L122.8 232.3L119.5 230.9L116.4 229.1L113.4 227.1L110.7 224.9L108.2 222.4L105.9 219.8L103.8 217.1L101.9 214.2L100.2 211.3L98.8 208.3L97.5 205.2L96.4 202.2L95.5 199.1L94.8 195.9L94.3 192.8L93.9 189.7L93.7 186.5Z" fill="#c6407e"/>
<path d="M94.2 183.4L94.3 180.3L94.6 177.2L95.0 174.1L95.6 171.0L96.4 168.0L97.4 164.9L98.5 162.0L99.8 159.0L101.3 156.2L103.0 153.4L104.9 150.7L106.9 148.1L109.2 145.6L111.6 143.2L114.3 141.0L117.1 139.0L120.1 137.2L123.2 135.6L126.5 134.3L129.9 133.2L133.4 132.5L136.9 132.1L140.5 132.1L144.1 132.5L147.5 133.2L150.9 134.3L154.2 135.7L157.3 137.3L160.3 139.2L163.0 141.2L165.6 143.5L168.0 145.9L170.2 148.4L172.2 151.0L174.1 153.7L175.7 156.5L177.2 159.3L178.4 162.2L179.5 165.2L180.5 168.2L181.2 171.2L181.8 174.2L182.2 177.2L182.4 180.3L182.5 183.4L182.5 186.4L182.2 189.5L181.8 192.5L181.2 195.6L180.5 198.6L179.6 201.6L178.5 204.5L177.2 207.4L175.8 210.3L174.2 213.1L172.4 215.9L170.4 218.5L168.2 221.0L165.7 223.4L163.1 225.7L160.4 227.7L157.4 229.6L154.2 231.1L150.9 232.4L147.5 233.4L144.0 234.1L140.5 234.4L136.9 234.5L133.4 234.2L129.8 233.7L126.4 232.8L123.0 231.7L119.8 230.2L116.7 228.5L113.8 226.5L111.1 224.3L108.6 221.9L106.3 219.3L104.3 216.6L102.4 213.8L100.8 210.9L99.3 208.0L98.1 204.9L97.0 201.9L96.2 198.8L95.4 195.8L94.9 192.7L94.5 189.6L94.3 186.5Z" fill="#ce4a76"/>
<path d="M94.9 183.4L95.0 180.3L95.2 177.2L95.7 174.2L96.2 171.2L97.0 168.2L97.9 165.2L99.1 162.3L100.4 159.4L101.8 156.6L103.5 153.8L105.3 151.1L107.4 148.5L109.6 146.1L112.0 143.8L114.6 141.6L117.4 139.6L120.3 137.8L123.4 136.2L126.6 134.9L130.0 133.9L133.4 133.2L137.0 132.8L140.5 132.8L144.0 133.2L147.4 133.9L150.8 135.0L154.0 136.3L157.1 137.9L160.0 139.8L162.7 141.8L165.3 144.0L167.6 146.4L169.8 148.8L171.8 151.4L173.6 154.1L175.2 156.8L176.7 159.6L177.9 162.5L179.0 165.4L179.9 168.4L180.6 171.3L181.2 174.3L181.6 177.3L181.9 180.3L181.9 183.4L181.9 186.4L181.6 189.4L181.2 192.4L180.7 195.4L179.9 198.4L179.0 201.3L178.0 204.2L176.7 207.1L175.3 209.9L173.7 212.7L171.9 215.4L169.9 218.0L167.8 220.5L165.4 222.9L162.8 225.1L160.1 227.1L157.1 228.9L154.0 230.5L150.8 231.8L147.4 232.7L144.0 233.4L140.5 233.7L137.0 233.8L133.4 233.6L130.0 233.0L126.6 232.2L123.2 231.0L120.0 229.6L117.0 227.9L114.1 225.9L111.5 223.7L109.0 221.4L106.8 218.8L104.8 216.2L102.9 213.4L101.3 210.5L99.9 207.6L98.7 204.6L97.6 201.7L96.8 198.6L96.1 195.6L95.5 192.5L95.2 189.5L94.9 186.4Z" fill="#d6546e"/>
<path d="M95.5 183.4L95.6 180.3L95.9 177.3L96.3 174.3L96.9 171.4L97.6 168.4L98.5 165.5L99.6 162.6L100.9 159.7L102.3 156.9L104.0 154.2L105.8 151.6L107.8 149.0L110.0 146.6L112.4 144.3L114.9 142.2L117.7 140.2L120.6 138.4L123.6 136.9L126.8 135.6L130.1 134.6L133.5 133.9L137.0 133.5L140.5 133.5L143.9 133.9L147.3 134.6L150.6 135.6L153.8 137.0L156.8 138.5L159.7 140.4L162.4 142.4L164.9 144.5L167.3 146.9L169.4 149.3L171.4 151.8L173.2 154.5L174.8 157.2L176.2 160.0L177.4 162.8L178.5 165.7L179.4 168.6L180.1 171.5L180.6 174.5L181.0 177.4L181.3 180.4L181.4 183.4L181.3 186.3L181.1 189.3L180.7 192.3L180.1 195.2L179.4 198.2L178.5 201.1L177.4 203.9L176.2 206.8L174.8 209.6L173.2 212.3L171.5 215.0L169.5 217.6L167.4 220.0L165.1 222.4L162.5 224.6L159.8 226.6L156.9 228.3L153.8 229.9L150.6 231.1L147.3 232.1L143.9 232.7L140.5 233.1L137.0 233.1L133.5 232.9L130.1 232.3L126.7 231.5L123.5 230.4L120.3 229.0L117.3 227.3L114.5 225.3L111.9 223.2L109.5 220.8L107.3 218.3L105.3 215.7L103.5 213.0L101.9 210.1L100.5 207.3L99.3 204.3L98.2 201.4L97.4 198.4L96.7 195.4L96.2 192.4L95.8 189.4L95.6 186.4Z" fill="#dd5e67"/>
<path d="M96.1 183.4L96.2 180.4L96.5 177.4L96.9 174.5L97.5 171.5L98.2 168.6L99.1 165.7L100.2 162.9L101.4 160.1L102.9 157.3L104.5 154.6L106.3 152.0L108.3 149.5L110.4 147.1L112.8 144.8L115.3 142.7L118.0 140.8L120.8 139.0L123.8 137.5L127.0 136.2L130.3 135.2L133.6 134.5L137.0 134.2L140.5 134.2L143.9 134.5L147.2 135.2L150.5 136.3L153.6 137.6L156.6 139.2L159.4 140.9L162.1 142.9L164.6 145.1L166.9 147.4L169.0 149.8L170.9 152.3L172.7 154.9L174.3 157.6L175.7 160.3L176.9 163.1L177.9 165.9L178.8 168.8L179.5 171.7L180.1 174.6L180.5 177.5L180.7 180.4L180.8 183.4L180.7 186.3L180.5 189.2L180.1 192.2L179.5 195.1L178.8 198.0L178.0 200.8L176.9 203.7L175.7 206.5L174.3 209.2L172.8 211.9L171.0 214.6L169.1 217.1L167.0 219.5L164.7 221.9L162.2 224.0L159.5 226.0L156.7 227.7L153.6 229.2L150.5 230.5L147.2 231.4L143.9 232.1L140.5 232.4L137.0 232.5L133.6 232.2L130.2 231.7L126.9 230.8L123.7 229.7L120.6 228.3L117.6 226.7L114.9 224.7L112.3 222.6L109.9 220.3L107.7 217.8L105.7 215.2L104.0 212.5L102.4 209.8L101.0 206.9L99.8 204.1L98.8 201.1L98.0 198.2L97.3 195.3L96.8 192.3L96.4 189.3L96.2 186.3Z" fill="#e3685f"/>
<path d="M96.8 183.4L96.9 180.4L97.1 177.5L97.5 174.6L98.1 171.7L98.8 168.8L99.7 166.0L100.8 163.2L102.0 160.4L103.4 157.7L105.0 155.0L106.7 152.5L108.7 150.0L110.8 147.6L113.1 145.4L115.6 143.3L118.3 141.4L121.1 139.7L124.1 138.1L127.2 136.9L130.4 135.9L133.7 135.2L137.1 134.9L140.5 134.9L143.8 135.2L147.1 135.9L150.3 136.9L153.4 138.2L156.4 139.8L159.2 141.5L161.8 143.5L164.2 145.6L166.5 147.9L168.6 150.2L170.5 152.7L172.2 155.3L173.8 157.9L175.2 160.6L176.4 163.4L177.4 166.2L178.3 169.0L179.0 171.8L179.5 174.7L179.9 177.6L180.1 180.5L180.2 183.4L180.1 186.3L179.9 189.2L179.5 192.0L179.0 194.9L178.3 197.8L177.4 200.6L176.4 203.4L175.2 206.1L173.9 208.9L172.3 211.5L170.6 214.1L168.7 216.6L166.6 219.0L164.4 221.3L161.9 223.4L159.2 225.4L156.4 227.1L153.5 228.6L150.3 229.8L147.1 230.7L143.8 231.4L140.4 231.7L137.1 231.8L133.7 231.5L130.4 231.0L127.1 230.2L123.9 229.1L120.9 227.7L117.9 226.0L115.2 224.1L112.7 222.0L110.3 219.8L108.2 217.3L106.2 214.8L104.5 212.1L103.0 209.4L101.6 206.6L100.4 203.8L99.4 200.9L98.6 198.0L97.9 195.1L97.4 192.2L97.0 189.2L96.8 186.3Z" fill="#e97159"/>
<path d="M97.4 183.4L97.5 180.5L97.7 177.6L98.1 174.7L98.7 171.9L99.4 169.0L100.3 166.2L101.3 163.5L102.5 160.7L103.9 158.1L105.5 155.4L107.2 152.9L109.1 150.5L111.2 148.1L113.5 145.9L116.0 143.9L118.6 142.0L121.4 140.3L124.3 138.8L127.3 137.5L130.5 136.6L133.8 135.9L137.1 135.5L140.4 135.5L143.8 135.9L147.0 136.6L150.2 137.6L153.2 138.9L156.1 140.4L158.9 142.1L161.5 144.0L163.9 146.1L166.1 148.4L168.2 150.7L170.1 153.1L171.8 155.7L173.3 158.3L174.7 161.0L175.8 163.7L176.8 166.4L177.7 169.2L178.4 172.0L178.9 174.8L179.3 177.7L179.5 180.5L179.6 183.4L179.5 186.2L179.3 189.1L178.9 191.9L178.4 194.7L177.7 197.6L176.9 200.3L175.9 203.1L174.7 205.8L173.4 208.5L171.9 211.1L170.2 213.7L168.3 216.2L166.2 218.5L164.0 220.8L161.6 222.9L159.0 224.8L156.2 226.5L153.3 228.0L150.2 229.2L147.0 230.1L143.7 230.7L140.4 231.1L137.1 231.1L133.8 230.9L130.5 230.3L127.3 229.5L124.1 228.4L121.1 227.1L118.3 225.4L115.6 223.6L113.1 221.5L110.8 219.2L108.6 216.8L106.7 214.3L105.0 211.7L103.5 209.0L102.2 206.2L101.0 203.5L100.0 200.6L99.2 197.8L98.5 194.9L98.0 192.0L97.7 189.1L97.5 186.3Z" fill="#ed7a52"/>
<path d="M98.0 183.4L98.1 180.5L98.4 177.7L98.8 174.9L99.3 172.1L100.0 169.3L100.9 166.5L101.9 163.8L103.1 161.1L104.4 158.4L106.0 155.8L107.7 153.3L109.6 150.9L111.6 148.6L113.9 146.5L116.3 144.4L118.9 142.6L121.6 140.9L124.5 139.4L127.5 138.2L130.6 137.2L133.9 136.6L137.1 136.2L140.4 136.2L143.7 136.6L146.9 137.3L150.0 138.2L153.0 139.5L155.9 141.0L158.6 142.7L161.2 144.6L163.5 146.7L165.8 148.9L167.8 151.2L169.6 153.6L171.3 156.1L172.8 158.6L174.1 161.3L175.3 164.0L176.3 166.7L177.1 169.4L177.8 172.2L178.3 175.0L178.7 177.8L178.9 180.6L179.0 183.4L179.0 186.2L178.7 189.0L178.4 191.8L177.8 194.6L177.2 197.3L176.3 200.1L175.3 202.8L174.2 205.5L172.9 208.2L171.4 210.7L169.7 213.3L167.9 215.7L165.9 218.0L163.7 220.3L161.3 222.3L158.7 224.2L156.0 225.9L153.1 227.3L150.0 228.5L146.9 229.4L143.7 230.1L140.4 230.4L137.1 230.4L133.9 230.2L130.6 229.7L127.4 228.9L124.4 227.8L121.4 226.4L118.6 224.8L115.9 223.0L113.5 220.9L111.2 218.7L109.1 216.3L107.2 213.9L105.5 211.3L104.0 208.6L102.7 205.9L101.6 203.2L100.6 200.4L99.8 197.6L99.2 194.7L98.7 191.9L98.3 189.1L98.1 186.2Z" fill="#f2834c"/>
<path d="M98.7 183.4L98.8 180.6L99.0 177.8L99.4 175.0L99.9 172.2L100.6 169.5L101.4 166.8L102.5 164.1L103.6 161.4L105.0 158.8L106.5 156.3L108.2 153.8L110.0 151.4L112.0 149.1L114.3 147.0L116.6 145.0L119.2 143.2L121.9 141.5L124.7 140.1L127.7 138.9L130.8 137.9L133.9 137.3L137.2 136.9L140.4 136.9L143.6 137.3L146.8 137.9L149.9 138.9L152.8 140.1L155.7 141.6L158.3 143.3L160.9 145.2L163.2 147.2L165.4 149.4L167.4 151.6L169.2 154.0L170.9 156.5L172.3 159.0L173.6 161.6L174.8 164.2L175.8 166.9L176.6 169.6L177.3 172.4L177.8 175.1L178.1 177.8L178.4 180.6L178.4 183.4L178.4 186.1L178.2 188.9L177.8 191.7L177.3 194.4L176.6 197.1L175.8 199.9L174.8 202.5L173.7 205.2L172.4 207.8L170.9 210.3L169.3 212.8L167.5 215.2L165.5 217.5L163.3 219.7L161.0 221.8L158.4 223.6L155.7 225.3L152.9 226.7L149.9 227.9L146.8 228.8L143.6 229.4L140.4 229.7L137.2 229.8L133.9 229.5L130.8 229.0L127.6 228.2L124.6 227.1L121.7 225.8L118.9 224.2L116.3 222.4L113.8 220.4L111.6 218.2L109.6 215.8L107.7 213.4L106.1 210.9L104.6 208.2L103.3 205.6L102.2 202.9L101.2 200.1L100.4 197.4L99.8 194.6L99.3 191.8L98.9 189.0L98.7 186.2Z" fill="#f58c46"/>
<path d="M99.3 183.4L99.4 180.6L99.6 177.9L100.0 175.1L100.5 172.4L101.2 169.7L102.0 167.0L103.0 164.4L104.2 161.7L105.5 159.2L107.0 156.7L108.6 154.2L110.5 151.9L112.5 149.7L114.6 147.5L117.0 145.6L119.5 143.7L122.1 142.1L124.9 140.7L127.9 139.5L130.9 138.6L134.0 137.9L137.2 137.6L140.4 137.6L143.6 137.9L146.7 138.6L149.7 139.5L152.7 140.8L155.4 142.2L158.1 143.9L160.6 145.7L162.9 147.7L165.0 149.9L167.0 152.1L168.8 154.4L170.4 156.9L171.8 159.4L173.1 161.9L174.3 164.5L175.2 167.2L176.0 169.8L176.7 172.5L177.2 175.2L177.6 177.9L177.8 180.7L177.9 183.4L177.8 186.1L177.6 188.8L177.2 191.5L176.7 194.3L176.1 196.9L175.3 199.6L174.3 202.3L173.2 204.9L171.9 207.4L170.5 209.9L168.9 212.4L167.1 214.8L165.1 217.0L163.0 219.2L160.6 221.2L158.1 223.0L155.5 224.7L152.7 226.1L149.7 227.2L146.7 228.1L143.6 228.7L140.4 229.0L137.2 229.1L134.0 228.8L130.9 228.3L127.8 227.5L124.8 226.5L121.9 225.2L119.2 223.6L116.6 221.8L114.2 219.8L112.0 217.6L110.0 215.3L108.2 212.9L106.6 210.4L105.1 207.9L103.8 205.2L102.7 202.6L101.8 199.9L101.0 197.1L100.4 194.4L99.9 191.7L99.6 188.9L99.4 186.1Z" fill="#f89540"/>
<path d="M99.9 183.4L100.0 180.7L100.2 178.0L100.6 175.3L101.1 172.6L101.8 169.9L102.6 167.3L103.6 164.7L104.7 162.1L106.0 159.5L107.5 157.1L109.1 154.7L110.9 152.4L112.9 150.2L115.0 148.1L117.3 146.1L119.8 144.3L122.4 142.7L125.2 141.3L128.0 140.2L131.0 139.2L134.1 138.6L137.2 138.3L140.4 138.3L143.5 138.6L146.6 139.3L149.6 140.2L152.5 141.4L155.2 142.8L157.8 144.5L160.2 146.3L162.5 148.3L164.6 150.4L166.6 152.6L168.3 154.9L169.9 157.3L171.4 159.7L172.6 162.3L173.7 164.8L174.7 167.4L175.5 170.0L176.1 172.7L176.6 175.4L177.0 178.0L177.2 180.7L177.3 183.4L177.2 186.1L177.0 188.8L176.6 191.4L176.1 194.1L175.5 196.7L174.7 199.4L173.8 202.0L172.7 204.5L171.4 207.1L170.0 209.6L168.4 212.0L166.7 214.3L164.7 216.5L162.6 218.7L160.3 220.6L157.9 222.4L155.3 224.1L152.5 225.4L149.6 226.6L146.6 227.5L143.5 228.1L140.4 228.4L137.2 228.4L134.1 228.2L131.0 227.7L128.0 226.9L125.0 225.8L122.2 224.5L119.5 223.0L117.0 221.2L114.6 219.2L112.5 217.1L110.5 214.9L108.7 212.5L107.1 210.0L105.7 207.5L104.4 204.9L103.3 202.3L102.4 199.6L101.6 196.9L101.0 194.2L100.5 191.5L100.2 188.8L100.0 186.1Z" fill="#fa9d3c"/>
<path d="M100.6 183.4L100.6 180.7L100.9 178.1L101.2 175.4L101.7 172.8L102.4 170.1L103.2 167.5L104.1 164.9L105.3 162.4L106.5 159.9L108.0 157.5L109.6 155.1L111.3 152.9L113.3 150.7L115.4 148.6L117.6 146.7L120.1 144.9L122.7 143.3L125.4 142.0L128.2 140.8L131.2 139.9L134.2 139.3L137.3 139.0L140.4 139.0L143.5 139.3L146.5 139.9L149.4 140.8L152.3 142.0L155.0 143.4L157.5 145.1L159.9 146.8L162.2 148.8L164.2 150.9L166.2 153.0L167.9 155.3L169.5 157.7L170.9 160.1L172.1 162.6L173.2 165.1L174.1 167.7L174.9 170.3L175.6 172.9L176.1 175.5L176.4 178.1L176.6 180.7L176.7 183.4L176.6 186.0L176.4 188.7L176.1 191.3L175.6 193.9L174.9 196.5L174.2 199.1L173.2 201.7L172.2 204.2L170.9 206.7L169.5 209.2L168.0 211.5L166.2 213.8L164.3 216.0L162.3 218.1L160.0 220.1L157.6 221.9L155.0 223.4L152.3 224.8L149.4 225.9L146.5 226.8L143.5 227.4L140.4 227.7L137.3 227.7L134.2 227.5L131.1 227.0L128.2 226.2L125.3 225.2L122.5 223.9L119.8 222.4L117.3 220.6L115.0 218.7L112.9 216.6L110.9 214.4L109.2 212.0L107.6 209.6L106.2 207.1L105.0 204.6L103.9 202.0L103.0 199.4L102.2 196.7L101.6 194.1L101.1 191.4L100.8 188.7L100.6 186.1Z" fill="#fba437"/>
<path d="M101.2 183.4L101.3 180.8L101.5 178.1L101.8 175.5L102.3 172.9L103.0 170.3L103.8 167.8L104.7 165.2L105.8 162.7L107.1 160.3L108.5 157.9L110.0 155.6L111.8 153.3L113.7 151.2L115.7 149.2L118.0 147.3L120.4 145.5L122.9 144.0L125.6 142.6L128.4 141.5L131.3 140.6L134.3 140.0L137.3 139.6L140.4 139.6L143.4 140.0L146.4 140.6L149.3 141.5L152.1 142.7L154.7 144.0L157.3 145.6L159.6 147.4L161.8 149.3L163.9 151.4L165.7 153.5L167.5 155.8L169.0 158.1L170.4 160.5L171.6 162.9L172.7 165.4L173.6 167.9L174.4 170.5L175.0 173.0L175.5 175.6L175.8 178.2L176.0 180.8L176.1 183.4L176.0 186.0L175.8 188.6L175.5 191.2L175.0 193.8L174.4 196.3L173.6 198.9L172.7 201.4L171.7 203.9L170.4 206.4L169.1 208.8L167.5 211.1L165.8 213.4L164.0 215.5L161.9 217.6L159.7 219.5L157.3 221.3L154.8 222.8L152.1 224.2L149.3 225.3L146.4 226.1L143.4 226.7L140.4 227.0L137.3 227.1L134.3 226.8L131.3 226.3L128.3 225.6L125.5 224.5L122.7 223.3L120.1 221.7L117.7 220.0L115.4 218.1L113.3 216.1L111.4 213.9L109.7 211.6L108.1 209.2L106.7 206.7L105.5 204.2L104.5 201.7L103.6 199.1L102.8 196.5L102.2 193.9L101.8 191.3L101.4 188.7L101.2 186.0Z" fill="#fdab33"/>
<path d="M101.8 183.4L101.9 180.8L102.1 178.2L102.5 175.7L102.9 173.1L103.6 170.6L104.3 168.0L105.3 165.5L106.3 163.1L107.6 160.7L109.0 158.3L110.5 156.0L112.2 153.8L114.1 151.7L116.1 149.7L118.3 147.8L120.7 146.1L123.2 144.6L125.8 143.2L128.6 142.1L131.4 141.2L134.4 140.6L137.4 140.3L140.4 140.3L143.3 140.6L146.3 141.3L149.1 142.2L151.9 143.3L154.5 144.7L157.0 146.2L159.3 148.0L161.5 149.8L163.5 151.9L165.3 154.0L167.0 156.2L168.5 158.5L169.9 160.8L171.1 163.2L172.2 165.7L173.1 168.2L173.8 170.7L174.4 173.2L174.9 175.7L175.2 178.3L175.4 180.8L175.5 183.4L175.4 186.0L175.2 188.5L174.9 191.1L174.4 193.6L173.8 196.1L173.1 198.6L172.2 201.1L171.1 203.6L170.0 206.0L168.6 208.4L167.1 210.7L165.4 212.9L163.6 215.0L161.6 217.1L159.4 219.0L157.0 220.7L154.5 222.2L151.9 223.6L149.1 224.6L146.3 225.5L143.3 226.0L140.4 226.4L137.4 226.4L134.4 226.2L131.4 225.7L128.5 224.9L125.7 223.9L123.0 222.6L120.4 221.1L118.0 219.4L115.8 217.6L113.7 215.5L111.9 213.4L110.2 211.1L108.6 208.8L107.3 206.3L106.1 203.9L105.0 201.4L104.2 198.8L103.4 196.3L102.8 193.7L102.4 191.1L102.1 188.6L101.9 186.0Z" fill="#fdb230"/>
<path d="M102.5 183.4L102.5 180.9L102.7 178.3L103.1 175.8L103.6 173.3L104.2 170.8L104.9 168.3L105.8 165.8L106.9 163.4L108.1 161.0L109.5 158.7L111.0 156.5L112.7 154.3L114.5 152.2L116.5 150.2L118.7 148.4L121.0 146.7L123.4 145.2L126.0 143.9L128.7 142.8L131.6 141.9L134.4 141.3L137.4 141.0L140.3 141.0L143.3 141.3L146.2 141.9L149.0 142.8L151.7 143.9L154.3 145.3L156.7 146.8L159.0 148.5L161.1 150.4L163.1 152.4L164.9 154.5L166.6 156.6L168.1 158.9L169.4 161.2L170.6 163.6L171.6 166.0L172.5 168.4L173.3 170.9L173.9 173.4L174.3 175.9L174.7 178.4L174.9 180.9L174.9 183.4L174.9 185.9L174.7 188.4L174.3 190.9L173.9 193.4L173.3 195.9L172.5 198.4L171.7 200.8L170.6 203.3L169.5 205.6L168.1 208.0L166.7 210.2L165.0 212.4L163.2 214.5L161.2 216.5L159.1 218.4L156.8 220.1L154.3 221.6L151.7 222.9L149.0 224.0L146.2 224.8L143.3 225.4L140.3 225.7L137.4 225.7L134.4 225.5L131.5 225.0L128.7 224.2L125.9 223.2L123.3 222.0L120.8 220.5L118.4 218.9L116.2 217.0L114.2 215.0L112.3 212.9L110.6 210.7L109.1 208.3L107.8 206.0L106.6 203.5L105.6 201.1L104.8 198.6L104.0 196.1L103.4 193.6L103.0 191.0L102.7 188.5L102.5 185.9Z" fill="#feb92d"/>
<path d="M103.1 183.4L103.2 180.9L103.4 178.4L103.7 175.9L104.2 173.4L104.8 171.0L105.5 168.5L106.4 166.1L107.4 163.8L108.6 161.4L110.0 159.1L111.4 156.9L113.1 154.8L114.9 152.7L116.9 150.8L119.0 149.0L121.3 147.3L123.7 145.8L126.2 144.5L128.9 143.4L131.7 142.6L134.5 142.0L137.4 141.7L140.3 141.7L143.2 142.0L146.1 142.6L148.8 143.5L151.5 144.6L154.0 145.9L156.4 147.4L158.7 149.1L160.8 150.9L162.7 152.9L164.5 154.9L166.2 157.1L167.6 159.3L168.9 161.6L170.1 163.9L171.1 166.3L172.0 168.7L172.7 171.1L173.3 173.5L173.8 176.0L174.1 178.5L174.3 180.9L174.3 183.4L174.3 185.9L174.1 188.4L173.8 190.8L173.3 193.3L172.7 195.7L172.0 198.1L171.1 200.6L170.1 202.9L169.0 205.3L167.7 207.6L166.2 209.8L164.6 212.0L162.8 214.0L160.9 216.0L158.8 217.8L156.5 219.5L154.1 221.0L151.5 222.3L148.8 223.4L146.1 224.2L143.2 224.7L140.3 225.0L137.4 225.0L134.5 224.8L131.7 224.3L128.9 223.6L126.1 222.6L123.5 221.4L121.1 219.9L118.7 218.3L116.6 216.5L114.6 214.5L112.8 212.4L111.1 210.2L109.7 207.9L108.3 205.6L107.2 203.2L106.2 200.8L105.3 198.3L104.6 195.9L104.1 193.4L103.6 190.9L103.3 188.4L103.1 185.9Z" fill="#fdbf2a"/>
<path d="M103.7 183.4L103.8 181.0L104.0 178.5L104.3 176.1L104.8 173.6L105.4 171.2L106.1 168.8L107.0 166.4L108.0 164.1L109.1 161.8L110.4 159.5L111.9 157.4L113.5 155.2L115.3 153.2L117.2 151.3L119.3 149.5L121.6 147.9L124.0 146.4L126.5 145.2L129.1 144.1L131.8 143.3L134.6 142.7L137.5 142.4L140.3 142.4L143.2 142.7L146.0 143.3L148.7 144.1L151.3 145.2L153.8 146.5L156.2 148.0L158.4 149.7L160.4 151.4L162.4 153.4L164.1 155.4L165.7 157.5L167.2 159.7L168.4 161.9L169.6 164.2L170.6 166.6L171.4 168.9L172.2 171.3L172.7 173.7L173.2 176.1L173.5 178.5L173.7 181.0L173.8 183.4L173.7 185.8L173.5 188.3L173.2 190.7L172.7 193.1L172.2 195.5L171.5 197.9L170.6 200.3L169.6 202.6L168.5 204.9L167.2 207.2L165.8 209.4L164.2 211.5L162.4 213.5L160.5 215.5L158.4 217.3L156.2 218.9L153.8 220.4L151.3 221.7L148.7 222.7L146.0 223.5L143.2 224.0L140.3 224.3L137.5 224.4L134.6 224.1L131.8 223.7L129.0 222.9L126.4 221.9L123.8 220.7L121.4 219.3L119.1 217.7L117.0 215.9L115.0 214.0L113.2 211.9L111.6 209.7L110.2 207.5L108.9 205.2L107.7 202.9L106.8 200.5L105.9 198.1L105.2 195.7L104.7 193.2L104.2 190.8L103.9 188.3L103.8 185.9Z" fill="#fdc528"/>
<path d="M104.3 183.4L104.4 181.0L104.6 178.6L104.9 176.2L105.4 173.8L106.0 171.4L106.7 169.1L107.5 166.7L108.5 164.4L109.7 162.2L110.9 160.0L112.4 157.8L114.0 155.7L115.7 153.7L117.6 151.9L119.7 150.1L121.9 148.5L124.2 147.1L126.7 145.8L129.3 144.7L131.9 143.9L134.7 143.4L137.5 143.1L140.3 143.1L143.1 143.4L145.9 143.9L148.5 144.8L151.1 145.8L153.6 147.1L155.9 148.6L158.1 150.2L160.1 152.0L162.0 153.9L163.7 155.9L165.3 157.9L166.7 160.1L168.0 162.3L169.1 164.6L170.1 166.8L170.9 169.2L171.6 171.5L172.2 173.9L172.6 176.2L172.9 178.6L173.1 181.0L173.2 183.4L173.1 185.8L172.9 188.2L172.6 190.6L172.2 192.9L171.6 195.3L170.9 197.7L170.1 200.0L169.1 202.3L168.0 204.5L166.7 206.8L165.3 208.9L163.8 211.0L162.0 213.0L160.2 214.9L158.1 216.7L155.9 218.3L153.6 219.8L151.1 221.0L148.5 222.1L145.9 222.8L143.1 223.4L140.3 223.7L137.5 223.7L134.7 223.5L131.9 223.0L129.2 222.3L126.6 221.3L124.1 220.1L121.7 218.7L119.4 217.1L117.4 215.3L115.4 213.4L113.7 211.4L112.1 209.3L110.7 207.1L109.4 204.8L108.3 202.5L107.3 200.2L106.5 197.8L105.8 195.4L105.3 193.1L104.9 190.6L104.6 188.2L104.4 185.8Z" fill="#fccc26"/>
<path d="M105.0 183.4L105.0 181.0L105.2 178.7L105.5 176.3L106.0 174.0L106.5 171.6L107.2 169.3L108.1 167.0L109.1 164.8L110.2 162.5L111.4 160.4L112.9 158.2L114.4 156.2L116.1 154.3L118.0 152.4L120.0 150.7L122.2 149.1L124.5 147.7L126.9 146.4L129.4 145.4L132.1 144.6L134.8 144.0L137.5 143.8L140.3 143.8L143.1 144.0L145.8 144.6L148.4 145.4L150.9 146.5L153.3 147.7L155.6 149.2L157.8 150.8L159.8 152.5L161.6 154.4L163.3 156.3L164.8 158.4L166.2 160.5L167.5 162.7L168.6 164.9L169.5 167.1L170.4 169.4L171.0 171.7L171.6 174.0L172.0 176.4L172.3 178.7L172.5 181.1L172.6 183.4L172.5 185.8L172.3 188.1L172.0 190.5L171.6 192.8L171.1 195.1L170.4 197.4L169.6 199.7L168.6 202.0L167.5 204.2L166.3 206.4L164.9 208.5L163.4 210.6L161.7 212.5L159.8 214.4L157.8 216.1L155.7 217.7L153.4 219.2L150.9 220.4L148.4 221.4L145.8 222.2L143.0 222.7L140.3 223.0L137.5 223.0L134.8 222.8L132.1 222.3L129.4 221.6L126.8 220.7L124.3 219.5L122.0 218.1L119.8 216.5L117.8 214.8L115.9 212.9L114.1 210.9L112.6 208.8L111.2 206.7L109.9 204.5L108.9 202.2L107.9 199.9L107.1 197.6L106.4 195.2L105.9 192.9L105.5 190.5L105.2 188.2L105.0 185.8Z" fill="#fbd325"/>
<path d="M105.6 183.4L105.7 181.1L105.8 178.8L106.2 176.4L106.6 174.1L107.1 171.8L107.8 169.6L108.6 167.3L109.6 165.1L110.7 162.9L111.9 160.8L113.3 158.7L114.9 156.7L116.5 154.8L118.4 152.9L120.4 151.2L122.5 149.7L124.7 148.3L127.1 147.1L129.6 146.1L132.2 145.3L134.9 144.7L137.6 144.4L140.3 144.4L143.0 144.7L145.7 145.3L148.2 146.1L150.7 147.1L153.1 148.3L155.3 149.8L157.4 151.3L159.4 153.1L161.2 154.9L162.9 156.8L164.4 158.8L165.8 160.9L167.0 163.0L168.1 165.2L169.0 167.4L169.8 169.7L170.5 171.9L171.0 174.2L171.5 176.5L171.8 178.8L171.9 181.1L172.0 183.4L171.9 185.7L171.8 188.0L171.5 190.3L171.0 192.6L170.5 194.9L169.8 197.2L169.0 199.4L168.1 201.6L167.0 203.8L165.8 206.0L164.5 208.1L162.9 210.1L161.3 212.0L159.5 213.9L157.5 215.6L155.4 217.2L153.1 218.6L150.7 219.8L148.2 220.8L145.6 221.5L143.0 222.0L140.3 222.3L137.6 222.3L134.9 222.1L132.2 221.6L129.6 220.9L127.0 220.0L124.6 218.8L122.3 217.5L120.1 215.9L118.1 214.2L116.3 212.4L114.6 210.4L113.1 208.4L111.7 206.3L110.5 204.1L109.4 201.9L108.5 199.6L107.7 197.3L107.0 195.0L106.5 192.7L106.1 190.4L105.8 188.1L105.6 185.7Z" fill="#f9db25"/>
<path d="M106.2 183.4L106.3 181.1L106.5 178.9L106.8 176.6L107.2 174.3L107.7 172.1L108.4 169.8L109.2 167.6L110.1 165.4L111.2 163.3L112.4 161.2L113.8 159.1L115.3 157.2L116.9 155.3L118.7 153.5L120.7 151.8L122.8 150.3L125.0 148.9L127.3 147.7L129.8 146.7L132.3 145.9L134.9 145.4L137.6 145.1L140.3 145.1L142.9 145.4L145.5 145.9L148.1 146.7L150.5 147.7L152.9 149.0L155.1 150.4L157.1 151.9L159.1 153.6L160.8 155.4L162.5 157.3L164.0 159.3L165.3 161.3L166.5 163.4L167.6 165.5L168.5 167.7L169.3 169.9L169.9 172.1L170.5 174.4L170.9 176.6L171.2 178.9L171.3 181.2L171.4 183.4L171.3 185.7L171.2 188.0L170.9 190.2L170.5 192.5L169.9 194.7L169.3 196.9L168.5 199.1L167.6 201.3L166.5 203.5L165.3 205.6L164.0 207.6L162.5 209.6L160.9 211.5L159.1 213.3L157.2 215.0L155.1 216.6L152.9 217.9L150.5 219.1L148.1 220.1L145.5 220.9L142.9 221.4L140.3 221.6L137.6 221.7L134.9 221.4L132.3 221.0L129.7 220.3L127.3 219.4L124.9 218.2L122.6 216.9L120.5 215.4L118.5 213.7L116.7 211.9L115.1 209.9L113.6 207.9L112.2 205.9L111.0 203.7L110.0 201.5L109.1 199.3L108.3 197.1L107.6 194.8L107.1 192.5L106.7 190.3L106.4 188.0L106.3 185.7Z" fill="#f7e425"/>
<path d="M106.8 183.4L106.9 181.2L107.1 178.9L107.4 176.7L107.8 174.5L108.3 172.3L109.0 170.1L109.8 167.9L110.7 165.8L111.7 163.7L112.9 161.6L114.3 159.6L115.7 157.6L117.4 155.8L119.1 154.0L121.0 152.4L123.1 150.9L125.3 149.5L127.6 148.3L130.0 147.4L132.5 146.6L135.0 146.1L137.6 145.8L140.3 145.8L142.9 146.1L145.4 146.6L147.9 147.4L150.3 148.4L152.6 149.6L154.8 150.9L156.8 152.5L158.7 154.1L160.5 155.9L162.1 157.8L163.5 159.7L164.8 161.7L166.0 163.8L167.0 165.9L167.9 168.0L168.7 170.2L169.4 172.4L169.9 174.6L170.3 176.8L170.6 179.0L170.8 181.2L170.8 183.4L170.8 185.6L170.6 187.9L170.3 190.1L169.9 192.3L169.4 194.5L168.7 196.7L168.0 198.9L167.1 201.0L166.0 203.1L164.9 205.2L163.6 207.2L162.1 209.1L160.5 211.0L158.8 212.8L156.9 214.5L154.8 216.0L152.7 217.3L150.3 218.5L147.9 219.5L145.4 220.2L142.9 220.7L140.3 221.0L137.6 221.0L135.0 220.8L132.4 220.3L129.9 219.6L127.5 218.7L125.1 217.6L122.9 216.3L120.9 214.8L118.9 213.1L117.1 211.3L115.5 209.5L114.0 207.5L112.7 205.4L111.5 203.3L110.5 201.2L109.6 199.0L108.9 196.8L108.2 194.6L107.7 192.4L107.3 190.1L107.1 187.9L106.9 185.7Z" fill="#f5ea24"/>
<path d="M107.5 183.4L107.5 181.2L107.7 179.0L108.0 176.8L108.4 174.7L108.9 172.5L109.6 170.3L110.3 168.2L111.2 166.1L112.3 164.0L113.4 162.0L114.7 160.0L116.2 158.1L117.8 156.3L119.5 154.6L121.4 153.0L123.4 151.5L125.5 150.1L127.8 149.0L130.1 148.0L132.6 147.3L135.1 146.8L137.7 146.5L140.3 146.5L142.8 146.8L145.3 147.3L147.8 148.0L150.1 149.0L152.4 150.2L154.5 151.5L156.5 153.0L158.4 154.7L160.1 156.4L161.7 158.2L163.1 160.1L164.4 162.1L165.5 164.1L166.5 166.2L167.4 168.3L168.2 170.4L168.8 172.6L169.3 174.7L169.7 176.9L170.0 179.1L170.2 181.2L170.2 183.4L170.2 185.6L170.0 187.8L169.7 190.0L169.3 192.1L168.8 194.3L168.2 196.4L167.4 198.6L166.6 200.7L165.5 202.7L164.4 204.8L163.1 206.8L161.7 208.7L160.1 210.5L158.4 212.3L156.6 213.9L154.6 215.4L152.4 216.7L150.2 217.9L147.8 218.8L145.3 219.5L142.8 220.0L140.3 220.3L137.7 220.3L135.1 220.1L132.6 219.6L130.1 219.0L127.7 218.1L125.4 217.0L123.2 215.7L121.2 214.2L119.3 212.6L117.6 210.8L116.0 209.0L114.5 207.0L113.2 205.0L112.1 203.0L111.1 200.9L110.2 198.7L109.4 196.6L108.8 194.4L108.3 192.2L107.9 190.0L107.7 187.8L107.5 185.6Z" fill="#f4ed23"/>
<path d="M108.1 183.4L108.2 181.3L108.3 179.1L108.6 177.0L109.0 174.8L109.5 172.7L110.1 170.6L110.9 168.5L111.8 166.4L112.8 164.4L113.9 162.4L115.2 160.5L116.6 158.6L118.2 156.8L119.9 155.1L121.7 153.5L123.7 152.1L125.8 150.8L128.0 149.6L130.3 148.7L132.7 147.9L135.2 147.4L137.7 147.2L140.2 147.2L142.8 147.4L145.2 148.0L147.6 148.7L149.9 149.7L152.2 150.8L154.2 152.1L156.2 153.6L158.0 155.2L159.7 156.9L161.2 158.7L162.6 160.6L163.9 162.5L165.0 164.5L166.0 166.5L166.9 168.6L167.6 170.7L168.3 172.8L168.8 174.9L169.1 177.0L169.4 179.2L169.6 181.3L169.6 183.4L169.6 185.6L169.4 187.7L169.2 189.8L168.8 192.0L168.3 194.1L167.6 196.2L166.9 198.3L166.0 200.3L165.1 202.4L163.9 204.4L162.7 206.3L161.3 208.2L159.7 210.0L158.1 211.7L156.2 213.3L154.3 214.8L152.2 216.1L150.0 217.2L147.6 218.2L145.2 218.9L142.8 219.4L140.2 219.6L137.7 219.6L135.2 219.4L132.7 219.0L130.3 218.3L127.9 217.4L125.7 216.3L123.6 215.1L121.6 213.6L119.7 212.0L118.0 210.3L116.4 208.5L115.0 206.6L113.7 204.6L112.6 202.6L111.6 200.5L110.8 198.4L110.0 196.3L109.4 194.2L108.9 192.0L108.6 189.9L108.3 187.7L108.1 185.6Z" fill="#f3f023"/>
<path d="M108.7 183.4L108.8 181.3L108.9 179.2L109.2 177.1L109.6 175.0L110.1 172.9L110.7 170.8L111.5 168.8L112.3 166.8L113.3 164.8L114.4 162.8L115.7 160.9L117.1 159.1L118.6 157.3L120.3 155.7L122.1 154.1L124.0 152.7L126.0 151.4L128.2 150.3L130.5 149.3L132.9 148.6L135.3 148.1L137.7 147.9L140.2 147.9L142.7 148.1L145.1 148.6L147.5 149.4L149.8 150.3L151.9 151.4L154.0 152.7L155.9 154.2L157.7 155.7L159.3 157.4L160.8 159.2L162.2 161.0L163.4 162.9L164.5 164.9L165.5 166.9L166.4 168.9L167.1 170.9L167.7 173.0L168.2 175.1L168.6 177.1L168.8 179.2L169.0 181.3L169.1 183.4L169.0 185.5L168.8 187.6L168.6 189.7L168.2 191.8L167.7 193.9L167.1 196.0L166.4 198.0L165.5 200.0L164.6 202.0L163.5 204.0L162.2 205.9L160.9 207.7L159.4 209.5L157.7 211.2L155.9 212.8L154.0 214.2L151.9 215.5L149.8 216.6L147.5 217.5L145.1 218.2L142.7 218.7L140.2 218.9L137.7 219.0L135.3 218.7L132.8 218.3L130.5 217.6L128.2 216.8L125.9 215.7L123.9 214.5L121.9 213.0L120.1 211.5L118.4 209.8L116.9 208.0L115.5 206.1L114.2 204.2L113.1 202.2L112.2 200.2L111.3 198.1L110.6 196.1L110.0 194.0L109.5 191.9L109.2 189.8L108.9 187.7L108.8 185.5Z" fill="#f2f322"/>
<path d="M109.3 183.4L109.4 181.4L109.6 179.3L109.8 177.2L110.2 175.2L110.7 173.1L111.3 171.1L112.0 169.1L112.9 167.1L113.8 165.1L114.9 163.2L116.1 161.4L117.5 159.6L119.0 157.8L120.6 156.2L122.4 154.7L124.3 153.3L126.3 152.0L128.4 150.9L130.7 150.0L133.0 149.3L135.4 148.8L137.8 148.6L140.2 148.6L142.6 148.8L145.0 149.3L147.3 150.0L149.6 150.9L151.7 152.1L153.7 153.3L155.6 154.7L157.3 156.3L158.9 157.9L160.4 159.7L161.8 161.5L163.0 163.3L164.1 165.2L165.0 167.2L165.8 169.2L166.5 171.2L167.1 173.2L167.6 175.2L168.0 177.3L168.3 179.3L168.4 181.4L168.5 183.4L168.4 185.5L168.3 187.5L168.0 189.6L167.6 191.6L167.1 193.7L166.6 195.7L165.9 197.7L165.0 199.7L164.1 201.7L163.0 203.6L161.8 205.4L160.5 207.3L159.0 209.0L157.4 210.7L155.6 212.2L153.7 213.6L151.7 214.9L149.6 216.0L147.3 216.9L145.0 217.5L142.6 218.0L140.2 218.3L137.8 218.3L135.4 218.1L133.0 217.6L130.6 217.0L128.4 216.1L126.2 215.1L124.2 213.8L122.2 212.5L120.5 210.9L118.8 209.3L117.3 207.5L116.0 205.7L114.8 203.8L113.7 201.8L112.7 199.9L111.9 197.8L111.2 195.8L110.6 193.8L110.1 191.7L109.8 189.6L109.5 187.6L109.4 185.5Z" fill="#f1f522"/>
<path d="M110.0 183.4L110.0 181.4L110.2 179.4L110.4 177.4L110.8 175.4L111.3 173.3L111.9 171.4L112.6 169.4L113.4 167.4L114.4 165.5L115.4 163.6L116.6 161.8L117.9 160.0L119.4 158.4L121.0 156.7L122.7 155.2L124.6 153.9L126.6 152.6L128.7 151.6L130.8 150.7L133.1 150.0L135.4 149.5L137.8 149.2L140.2 149.2L142.6 149.5L144.9 150.0L147.2 150.7L149.4 151.6L151.4 152.7L153.4 153.9L155.3 155.3L157.0 156.8L158.6 158.4L160.0 160.1L161.3 161.9L162.5 163.7L163.6 165.6L164.5 167.5L165.3 169.5L166.0 171.4L166.6 173.4L167.1 175.4L167.4 177.4L167.7 179.4L167.8 181.4L167.9 183.4L167.8 185.5L167.7 187.5L167.4 189.5L167.1 191.5L166.6 193.5L166.0 195.5L165.3 197.4L164.5 199.4L163.6 201.3L162.5 203.2L161.4 205.0L160.0 206.8L158.6 208.5L157.0 210.1L155.3 211.6L153.4 213.0L151.5 214.3L149.4 215.3L147.2 216.2L144.9 216.9L142.6 217.3L140.2 217.6L137.8 217.6L135.4 217.4L133.1 217.0L130.8 216.3L128.6 215.5L126.5 214.4L124.5 213.2L122.6 211.9L120.9 210.4L119.2 208.7L117.8 207.0L116.5 205.2L115.3 203.4L114.2 201.5L113.3 199.5L112.5 197.6L111.8 195.6L111.2 193.6L110.8 191.5L110.4 189.5L110.2 187.5L110.0 185.5Z" fill="#f1f721"/>
<path d="M110.6 183.4L110.6 181.5L110.8 179.5L111.1 177.5L111.4 175.5L111.9 173.6L112.5 171.6L113.1 169.7L114.0 167.8L114.9 165.9L115.9 164.1L117.1 162.3L118.4 160.5L119.8 158.9L121.4 157.3L123.1 155.8L124.9 154.5L126.8 153.3L128.9 152.2L131.0 151.3L133.2 150.6L135.5 150.2L137.9 149.9L140.2 149.9L142.5 150.2L144.8 150.6L147.0 151.3L149.2 152.2L151.2 153.3L153.1 154.5L154.9 155.9L156.6 157.4L158.2 158.9L159.6 160.6L160.9 162.3L162.0 164.1L163.1 166.0L164.0 167.8L164.8 169.8L165.5 171.7L166.0 173.6L166.5 175.6L166.8 177.5L167.1 179.5L167.2 181.5L167.3 183.4L167.2 185.4L167.1 187.4L166.8 189.4L166.5 191.3L166.0 193.3L165.5 195.2L164.8 197.1L164.0 199.0L163.1 200.9L162.1 202.8L160.9 204.6L159.6 206.3L158.2 208.0L156.7 209.6L155.0 211.1L153.2 212.4L151.2 213.6L149.2 214.7L147.0 215.6L144.8 216.2L142.5 216.7L140.2 216.9L137.9 216.9L135.5 216.7L133.2 216.3L131.0 215.7L128.8 214.8L126.8 213.8L124.8 212.6L122.9 211.3L121.2 209.8L119.7 208.2L118.2 206.5L116.9 204.8L115.8 203.0L114.7 201.1L113.8 199.2L113.0 197.3L112.4 195.3L111.8 193.3L111.4 191.4L111.0 189.4L110.8 187.4L110.6 185.4Z" fill="#f0f821"/>
<path d="M111.2 183.4L111.3 181.5L111.4 179.6L111.7 177.6L112.0 175.7L112.5 173.8L113.0 171.9L113.7 170.0L114.5 168.1L115.4 166.3L116.4 164.5L117.6 162.7L118.8 161.0L120.2 159.4L121.8 157.8L123.4 156.4L125.2 155.1L127.1 153.9L129.1 152.8L131.2 152.0L133.4 151.3L135.6 150.9L137.9 150.6L140.2 150.6L142.5 150.9L144.7 151.3L146.9 152.0L149.0 152.9L151.0 153.9L152.9 155.1L154.6 156.4L156.3 157.9L157.8 159.5L159.2 161.1L160.4 162.8L161.6 164.5L162.6 166.3L163.5 168.2L164.2 170.0L164.9 171.9L165.5 173.8L165.9 175.7L166.3 177.7L166.5 179.6L166.7 181.5L166.7 183.4L166.7 185.4L166.5 187.3L166.3 189.2L165.9 191.2L165.5 193.1L164.9 195.0L164.3 196.9L163.5 198.7L162.6 200.6L161.6 202.4L160.5 204.1L159.2 205.8L157.8 207.5L156.3 209.0L154.7 210.5L152.9 211.8L151.0 213.0L149.0 214.0L146.9 214.9L144.7 215.5L142.5 216.0L140.2 216.2L137.9 216.2L135.6 216.0L133.4 215.6L131.2 215.0L129.0 214.2L127.0 213.2L125.1 212.0L123.3 210.7L121.6 209.3L120.1 207.7L118.7 206.1L117.4 204.3L116.3 202.5L115.3 200.7L114.4 198.9L113.6 197.0L113.0 195.1L112.4 193.1L112.0 191.2L111.6 189.3L111.4 187.3L111.3 185.4Z" fill="#f0f921"/>
<path d="M111.8 183.4L111.9 181.6L112.0 179.7L112.3 177.8L112.6 175.9L113.1 174.0L113.6 172.1L114.3 170.3L115.0 168.4L115.9 166.6L116.9 164.9L118.0 163.2L119.3 161.5L120.6 159.9L122.1 158.4L123.8 157.0L125.5 155.7L127.4 154.5L129.3 153.5L131.4 152.6L133.5 152.0L135.7 151.5L137.9 151.3L140.2 151.3L142.4 151.5L144.6 152.0L146.7 152.7L148.8 153.5L150.7 154.5L152.6 155.7L154.3 157.0L155.9 158.4L157.4 160.0L158.8 161.6L160.0 163.2L161.1 164.9L162.1 166.7L163.0 168.5L163.7 170.3L164.4 172.2L164.9 174.0L165.3 175.9L165.7 177.8L165.9 179.7L166.1 181.6L166.1 183.4L166.1 185.3L165.9 187.2L165.7 189.1L165.4 191.0L164.9 192.9L164.4 194.7L163.7 196.6L163.0 198.4L162.1 200.2L161.1 202.0L160.0 203.7L158.8 205.4L157.4 207.0L156.0 208.5L154.3 209.9L152.6 211.2L150.7 212.4L148.8 213.4L146.7 214.2L144.6 214.9L142.4 215.3L140.2 215.5L137.9 215.6L135.7 215.4L133.5 215.0L131.3 214.3L129.3 213.5L127.3 212.6L125.4 211.4L123.6 210.1L122.0 208.7L120.5 207.2L119.1 205.6L117.9 203.9L116.8 202.1L115.8 200.3L114.9 198.5L114.2 196.7L113.5 194.8L113.0 192.9L112.6 191.0L112.2 189.1L112.0 187.3L111.9 185.4Z" fill="#f0f921"/>
<path d="M112.5 183.5L112.5 181.6L112.6 179.7L112.9 177.9L113.2 176.0L113.7 174.2L114.2 172.4L114.8 170.6L115.6 168.8L116.4 167.0L117.4 165.3L118.5 163.6L119.7 162.0L121.1 160.4L122.5 158.9L124.1 157.5L125.8 156.3L127.6 155.1L129.5 154.1L131.5 153.3L133.6 152.7L135.8 152.2L138.0 152.0L140.2 152.0L142.3 152.2L144.5 152.7L146.6 153.3L148.6 154.2L150.5 155.2L152.3 156.3L154.0 157.6L155.6 159.0L157.0 160.5L158.3 162.0L159.5 163.7L160.6 165.4L161.6 167.1L162.4 168.8L163.2 170.6L163.8 172.4L164.4 174.2L164.8 176.1L165.1 177.9L165.3 179.8L165.5 181.6L165.5 183.5L165.5 185.3L165.3 187.1L165.1 189.0L164.8 190.8L164.4 192.7L163.8 194.5L163.2 196.3L162.5 198.1L161.6 199.8L160.7 201.6L159.6 203.3L158.4 204.9L157.0 206.5L155.6 208.0L154.0 209.4L152.3 210.6L150.5 211.8L148.6 212.8L146.6 213.6L144.5 214.2L142.3 214.6L140.2 214.9L138.0 214.9L135.8 214.7L133.6 214.3L131.5 213.7L129.5 212.9L127.6 211.9L125.7 210.8L124.0 209.5L122.4 208.2L120.9 206.7L119.6 205.1L118.4 203.4L117.3 201.7L116.3 200.0L115.5 198.2L114.7 196.4L114.1 194.6L113.6 192.7L113.2 190.9L112.9 189.0L112.6 187.2L112.5 185.3Z" fill="#f0f821"/>
<path d="M113.1 183.5L113.1 181.6L113.3 179.8L113.5 178.0L113.8 176.2L114.2 174.4L114.8 172.6L115.4 170.9L116.1 169.1L117.0 167.4L117.9 165.7L119.0 164.1L120.2 162.5L121.5 160.9L122.9 159.5L124.4 158.1L126.1 156.9L127.9 155.8L129.8 154.8L131.7 154.0L133.8 153.3L135.9 152.9L138.0 152.7L140.1 152.7L142.3 152.9L144.4 153.4L146.4 154.0L148.4 154.8L150.3 155.8L152.0 156.9L153.7 158.2L155.2 159.5L156.6 161.0L157.9 162.5L159.1 164.1L160.2 165.8L161.1 167.4L161.9 169.2L162.7 170.9L163.3 172.7L163.8 174.5L164.2 176.2L164.5 178.0L164.8 179.8L164.9 181.7L164.9 183.5L164.9 185.3L164.8 187.1L164.5 188.9L164.2 190.7L163.8 192.5L163.3 194.2L162.7 196.0L161.9 197.8L161.1 199.5L160.2 201.2L159.1 202.8L158.0 204.4L156.7 206.0L155.2 207.4L153.7 208.8L152.0 210.0L150.3 211.2L148.4 212.1L146.4 212.9L144.4 213.5L142.3 214.0L140.1 214.2L138.0 214.2L135.9 214.0L133.8 213.6L131.7 213.0L129.7 212.2L127.8 211.3L126.0 210.2L124.3 209.0L122.8 207.6L121.4 206.1L120.0 204.6L118.9 203.0L117.8 201.3L116.9 199.6L116.0 197.9L115.3 196.1L114.7 194.3L114.2 192.5L113.8 190.7L113.5 188.9L113.2 187.1L113.1 185.3Z" fill="#f1f622"/>
<path d="M113.7 183.5L113.7 181.7L113.9 179.9L114.1 178.2L114.4 176.4L114.8 174.6L115.3 172.9L116.0 171.2L116.7 169.5L117.5 167.8L118.4 166.1L119.5 164.5L120.6 162.9L121.9 161.4L123.3 160.0L124.8 158.7L126.4 157.5L128.1 156.4L130.0 155.4L131.9 154.6L133.9 154.0L135.9 153.6L138.0 153.4L140.1 153.4L142.2 153.6L144.3 154.0L146.3 154.6L148.2 155.4L150.0 156.4L151.7 157.5L153.4 158.7L154.9 160.1L156.2 161.5L157.5 163.0L158.7 164.6L159.7 166.2L160.6 167.8L161.4 169.5L162.1 171.2L162.7 172.9L163.2 174.7L163.6 176.4L164.0 178.2L164.2 179.9L164.3 181.7L164.4 183.5L164.3 185.2L164.2 187.0L164.0 188.7L163.6 190.5L163.2 192.3L162.7 194.0L162.1 195.7L161.4 197.4L160.6 199.1L159.7 200.8L158.7 202.4L157.5 204.0L156.3 205.5L154.9 206.9L153.4 208.2L151.8 209.4L150.0 210.5L148.2 211.5L146.3 212.3L144.3 212.9L142.2 213.3L140.1 213.5L138.0 213.5L135.9 213.3L133.9 212.9L131.9 212.4L129.9 211.6L128.1 210.7L126.3 209.6L124.7 208.4L123.2 207.1L121.8 205.6L120.5 204.1L119.3 202.5L118.3 200.9L117.4 199.2L116.6 197.5L115.9 195.8L115.3 194.1L114.8 192.3L114.4 190.5L114.1 188.8L113.9 187.0L113.7 185.2Z" fill="#f2f222"/>
<path d="M114.3 183.5L114.4 181.7L114.5 180.0L114.7 178.3L115.0 176.6L115.4 174.8L115.9 173.1L116.5 171.5L117.2 169.8L118.0 168.1L118.9 166.5L119.9 164.9L121.1 163.4L122.3 162.0L123.7 160.6L125.1 159.3L126.7 158.1L128.4 157.0L130.2 156.1L132.1 155.3L134.0 154.7L136.0 154.3L138.1 154.1L140.1 154.1L142.2 154.3L144.2 154.7L146.1 155.3L148.0 156.1L149.8 157.0L151.5 158.1L153.0 159.3L154.5 160.6L155.9 162.0L157.1 163.5L158.2 165.0L159.2 166.6L160.1 168.2L160.9 169.8L161.6 171.5L162.2 173.2L162.7 174.9L163.1 176.6L163.4 178.3L163.6 180.0L163.7 181.7L163.8 183.5L163.7 185.2L163.6 186.9L163.4 188.6L163.1 190.3L162.7 192.0L162.2 193.7L161.6 195.4L160.9 197.1L160.1 198.7L159.2 200.4L158.2 201.9L157.1 203.5L155.9 204.9L154.5 206.3L153.1 207.7L151.5 208.9L149.8 209.9L148.0 210.8L146.1 211.6L144.2 212.2L142.2 212.6L140.1 212.8L138.1 212.8L136.0 212.6L134.0 212.3L132.1 211.7L130.2 210.9L128.4 210.0L126.6 209.0L125.0 207.8L123.6 206.5L122.2 205.1L120.9 203.6L119.8 202.1L118.8 200.5L117.9 198.9L117.1 197.2L116.4 195.5L115.9 193.8L115.4 192.1L115.0 190.4L114.7 188.7L114.5 186.9L114.4 185.2Z" fill="#f4ee23"/>
<path d="M114.9 183.5L115.0 181.8L115.1 180.1L115.3 178.4L115.6 176.7L116.0 175.1L116.5 173.4L117.1 171.8L117.8 170.1L118.5 168.5L119.4 166.9L120.4 165.4L121.5 163.9L122.7 162.5L124.0 161.1L125.5 159.8L127.0 158.7L128.7 157.6L130.4 156.7L132.3 156.0L134.2 155.4L136.1 155.0L138.1 154.8L140.1 154.8L142.1 155.0L144.1 155.4L146.0 156.0L147.8 156.7L149.5 157.7L151.2 158.7L152.7 159.9L154.2 161.2L155.5 162.5L156.7 164.0L157.8 165.4L158.8 167.0L159.6 168.6L160.4 170.2L161.1 171.8L161.6 173.4L162.1 175.1L162.5 176.8L162.8 178.4L163.0 180.1L163.1 181.8L163.2 183.5L163.1 185.1L163.0 186.8L162.8 188.5L162.5 190.2L162.1 191.8L161.6 193.5L161.1 195.1L160.4 196.8L159.6 198.4L158.8 200.0L157.8 201.5L156.7 203.0L155.5 204.4L154.2 205.8L152.7 207.1L151.2 208.3L149.5 209.3L147.8 210.2L146.0 211.0L144.1 211.5L142.1 211.9L140.1 212.1L138.1 212.1L136.1 211.9L134.2 211.6L132.2 211.0L130.4 210.3L128.6 209.4L127.0 208.4L125.4 207.2L123.9 205.9L122.6 204.6L121.4 203.1L120.3 201.6L119.3 200.1L118.4 198.5L117.7 196.9L117.0 195.2L116.4 193.6L116.0 191.9L115.6 190.2L115.3 188.5L115.1 186.8L115.0 185.2Z" fill="#f5ea24"/>
<path d="M115.6 183.5L115.6 181.8L115.7 180.2L115.9 178.5L116.2 176.9L116.6 175.3L117.1 173.7L117.6 172.0L118.3 170.5L119.1 168.9L119.9 167.3L120.9 165.8L121.9 164.4L123.1 163.0L124.4 161.7L125.8 160.4L127.3 159.3L128.9 158.3L130.6 157.4L132.4 156.6L134.3 156.1L136.2 155.7L138.1 155.5L140.1 155.5L142.0 155.7L144.0 156.1L145.8 156.6L147.6 157.4L149.3 158.3L150.9 159.3L152.4 160.5L153.8 161.7L155.1 163.0L156.3 164.4L157.3 165.9L158.3 167.4L159.1 168.9L159.9 170.5L160.5 172.1L161.1 173.7L161.6 175.3L161.9 176.9L162.2 178.6L162.4 180.2L162.5 181.8L162.6 183.5L162.5 185.1L162.4 186.7L162.2 188.4L161.9 190.0L161.6 191.6L161.1 193.3L160.5 194.9L159.9 196.4L159.1 198.0L158.3 199.6L157.3 201.1L156.3 202.5L155.1 203.9L153.8 205.3L152.4 206.5L150.9 207.7L149.3 208.7L147.6 209.6L145.8 210.3L144.0 210.9L142.0 211.2L140.1 211.4L138.1 211.4L136.2 211.3L134.3 210.9L132.4 210.4L130.6 209.6L128.9 208.8L127.3 207.8L125.7 206.6L124.3 205.4L123.0 204.1L121.9 202.7L120.8 201.2L119.8 199.7L119.0 198.1L118.2 196.5L117.6 194.9L117.0 193.3L116.6 191.7L116.2 190.0L115.9 188.4L115.7 186.8L115.6 185.1Z" fill="#f7e525"/>
<path d="M116.2 183.5L116.2 181.9L116.3 180.3L116.5 178.7L116.8 177.1L117.2 175.5L117.7 173.9L118.2 172.3L118.8 170.8L119.6 169.3L120.4 167.8L121.3 166.3L122.4 164.9L123.5 163.5L124.8 162.2L126.2 161.0L127.6 159.9L129.2 158.9L130.9 158.0L132.6 157.3L134.4 156.8L136.3 156.4L138.2 156.2L140.1 156.2L142.0 156.4L143.8 156.8L145.7 157.3L147.4 158.0L149.1 158.9L150.6 159.9L152.1 161.0L153.4 162.3L154.7 163.6L155.8 164.9L156.9 166.3L157.8 167.8L158.6 169.3L159.4 170.8L160.0 172.4L160.5 173.9L161.0 175.5L161.4 177.1L161.6 178.7L161.8 180.3L162.0 181.9L162.0 183.5L162.0 185.1L161.8 186.7L161.6 188.3L161.4 189.8L161.0 191.4L160.5 193.0L160.0 194.6L159.4 196.1L158.7 197.7L157.8 199.2L156.9 200.6L155.9 202.1L154.7 203.4L153.5 204.7L152.1 205.9L150.6 207.1L149.1 208.1L147.4 208.9L145.7 209.6L143.8 210.2L142.0 210.6L140.1 210.7L138.2 210.8L136.3 210.6L134.4 210.2L132.6 209.7L130.8 209.0L129.2 208.1L127.6 207.2L126.1 206.1L124.7 204.8L123.5 203.5L122.3 202.2L121.3 200.7L120.3 199.3L119.5 197.7L118.8 196.2L118.1 194.6L117.6 193.1L117.2 191.5L116.8 189.9L116.5 188.3L116.3 186.7L116.2 185.1Z" fill="#f8e125"/>
<path d="M116.8 183.5L116.8 181.9L117.0 180.4L117.2 178.8L117.4 177.2L117.8 175.7L118.2 174.2L118.8 172.6L119.4 171.1L120.1 169.6L120.9 168.2L121.8 166.7L122.8 165.4L124.0 164.0L125.2 162.8L126.5 161.6L127.9 160.5L129.5 159.5L131.1 158.7L132.8 158.0L134.6 157.4L136.4 157.1L138.2 156.9L140.1 156.9L141.9 157.1L143.7 157.4L145.5 158.0L147.2 158.7L148.8 159.5L150.3 160.5L151.8 161.6L153.1 162.8L154.3 164.1L155.4 165.4L156.4 166.8L157.3 168.2L158.1 169.7L158.9 171.2L159.5 172.7L160.0 174.2L160.4 175.7L160.8 177.3L161.1 178.8L161.3 180.4L161.4 181.9L161.4 183.5L161.4 185.0L161.3 186.6L161.1 188.1L160.8 189.7L160.4 191.2L160.0 192.8L159.5 194.3L158.9 195.8L158.2 197.3L157.4 198.8L156.5 200.2L155.4 201.6L154.3 202.9L153.1 204.2L151.8 205.4L150.4 206.5L148.8 207.4L147.2 208.3L145.5 209.0L143.7 209.5L141.9 209.9L140.1 210.1L138.2 210.1L136.4 209.9L134.6 209.5L132.8 209.0L131.1 208.3L129.4 207.5L127.9 206.6L126.4 205.5L125.1 204.3L123.9 203.0L122.8 201.7L121.7 200.3L120.8 198.8L120.0 197.4L119.3 195.9L118.7 194.3L118.2 192.8L117.8 191.3L117.4 189.7L117.1 188.2L116.9 186.6L116.8 185.0Z" fill="#f9dc25"/>
<path d="M117.4 183.5L117.5 182.0L117.6 180.4L117.8 178.9L118.0 177.4L118.4 175.9L118.8 174.4L119.3 172.9L119.9 171.5L120.6 170.0L121.4 168.6L122.3 167.2L123.3 165.8L124.4 164.5L125.6 163.3L126.9 162.2L128.2 161.1L129.7 160.2L131.3 159.3L133.0 158.7L134.7 158.1L136.5 157.8L138.3 157.6L140.1 157.6L141.9 157.8L143.6 158.1L145.3 158.7L147.0 159.3L148.6 160.2L150.1 161.1L151.4 162.2L152.7 163.4L153.9 164.6L155.0 165.9L156.0 167.2L156.9 168.6L157.7 170.0L158.3 171.5L158.9 173.0L159.4 174.4L159.9 175.9L160.2 177.4L160.5 178.9L160.7 180.5L160.8 182.0L160.8 183.5L160.8 185.0L160.7 186.5L160.5 188.0L160.2 189.5L159.9 191.0L159.5 192.5L158.9 194.0L158.3 195.5L157.7 196.9L156.9 198.3L156.0 199.7L155.0 201.1L153.9 202.4L152.8 203.6L151.5 204.8L150.1 205.9L148.6 206.8L147.0 207.6L145.3 208.3L143.6 208.8L141.9 209.2L140.1 209.4L138.3 209.4L136.5 209.2L134.7 208.9L133.0 208.4L131.3 207.7L129.7 206.9L128.2 205.9L126.8 204.9L125.5 203.7L124.3 202.5L123.2 201.2L122.2 199.8L121.3 198.4L120.6 197.0L119.9 195.5L119.3 194.1L118.8 192.6L118.3 191.1L118.0 189.5L117.7 188.0L117.6 186.5L117.5 185.0Z" fill="#fad725"/>
<path d="M118.0 183.5L118.1 182.0L118.2 180.5L118.4 179.1L118.6 177.6L119.0 176.1L119.4 174.7L119.9 173.2L120.5 171.8L121.1 170.4L121.9 169.0L122.8 167.6L123.7 166.3L124.8 165.1L125.9 163.9L127.2 162.7L128.6 161.7L130.0 160.8L131.5 160.0L133.1 159.3L134.8 158.8L136.5 158.5L138.3 158.3L140.1 158.3L141.8 158.5L143.5 158.8L145.2 159.3L146.8 160.0L148.3 160.8L149.8 161.7L151.1 162.8L152.4 163.9L153.5 165.1L154.6 166.4L155.5 167.7L156.4 169.0L157.2 170.4L157.8 171.8L158.4 173.3L158.9 174.7L159.3 176.2L159.6 177.6L159.9 179.1L160.1 180.5L160.2 182.0L160.2 183.5L160.2 185.0L160.1 186.4L159.9 187.9L159.7 189.4L159.3 190.8L158.9 192.3L158.4 193.7L157.8 195.1L157.2 196.6L156.4 197.9L155.6 199.3L154.6 200.6L153.6 201.9L152.4 203.1L151.1 204.2L149.8 205.2L148.3 206.2L146.8 207.0L145.2 207.6L143.5 208.1L141.8 208.5L140.1 208.7L138.3 208.7L136.5 208.5L134.8 208.2L133.1 207.7L131.5 207.0L130.0 206.3L128.5 205.3L127.1 204.3L125.9 203.2L124.7 202.0L123.7 200.7L122.7 199.4L121.8 198.0L121.1 196.6L120.4 195.2L119.8 193.8L119.4 192.3L118.9 190.8L118.6 189.4L118.4 187.9L118.2 186.4L118.1 185.0Z" fill="#fbd025"/>
<path d="M118.7 183.5L118.7 182.1L118.8 180.6L119.0 179.2L119.2 177.8L119.6 176.3L120.0 174.9L120.4 173.5L121.0 172.1L121.7 170.8L122.4 169.4L123.2 168.1L124.2 166.8L125.2 165.6L126.3 164.4L127.5 163.3L128.9 162.3L130.3 161.4L131.8 160.6L133.3 160.0L135.0 159.5L136.6 159.1L138.3 159.0L140.0 159.0L141.7 159.2L143.4 159.5L145.0 160.0L146.6 160.7L148.1 161.4L149.5 162.3L150.8 163.4L152.0 164.4L153.1 165.6L154.2 166.8L155.1 168.1L155.9 169.4L156.7 170.8L157.3 172.2L157.9 173.5L158.4 175.0L158.8 176.4L159.1 177.8L159.3 179.2L159.5 180.6L159.6 182.1L159.6 183.5L159.6 184.9L159.5 186.3L159.3 187.8L159.1 189.2L158.8 190.6L158.4 192.0L157.9 193.4L157.3 194.8L156.7 196.2L155.9 197.5L155.1 198.9L154.2 200.1L153.2 201.4L152.0 202.5L150.8 203.6L149.5 204.6L148.1 205.5L146.6 206.3L145.0 207.0L143.4 207.5L141.7 207.8L140.0 208.0L138.3 208.0L136.6 207.8L135.0 207.5L133.3 207.0L131.7 206.4L130.2 205.6L128.8 204.7L127.5 203.7L126.3 202.6L125.1 201.5L124.1 200.2L123.2 198.9L122.4 197.6L121.6 196.3L121.0 194.9L120.4 193.5L119.9 192.1L119.5 190.6L119.2 189.2L119.0 187.8L118.8 186.4L118.7 184.9Z" fill="#fcca26"/>
<path d="M119.3 183.5L119.3 182.1L119.4 180.7L119.6 179.3L119.8 177.9L120.1 176.6L120.5 175.2L121.0 173.8L121.6 172.5L122.2 171.1L122.9 169.8L123.7 168.5L124.6 167.3L125.6 166.1L126.7 165.0L127.9 163.9L129.2 162.9L130.5 162.1L132.0 161.3L133.5 160.7L135.1 160.2L136.7 159.8L138.4 159.7L140.0 159.7L141.7 159.8L143.3 160.2L144.9 160.7L146.4 161.3L147.8 162.1L149.2 163.0L150.5 163.9L151.7 165.0L152.8 166.1L153.7 167.3L154.6 168.6L155.4 169.9L156.2 171.2L156.8 172.5L157.3 173.8L157.8 175.2L158.2 176.6L158.5 178.0L158.7 179.3L158.9 180.7L159.0 182.1L159.1 183.5L159.0 184.9L158.9 186.3L158.8 187.6L158.5 189.0L158.2 190.4L157.8 191.8L157.3 193.1L156.8 194.5L156.2 195.8L155.5 197.1L154.7 198.4L153.8 199.7L152.8 200.9L151.7 202.0L150.5 203.1L149.2 204.0L147.9 204.9L146.4 205.7L144.9 206.3L143.3 206.8L141.7 207.1L140.0 207.3L138.4 207.3L136.7 207.1L135.1 206.8L133.5 206.3L132.0 205.7L130.5 205.0L129.1 204.1L127.9 203.1L126.7 202.1L125.6 200.9L124.6 199.7L123.7 198.5L122.9 197.2L122.1 195.9L121.5 194.5L121.0 193.2L120.5 191.8L120.1 190.4L119.8 189.0L119.6 187.7L119.4 186.3L119.3 184.9Z" fill="#fdc429"/>
<path d="M119.9 183.5L119.9 182.1L120.0 180.8L120.2 179.5L120.4 178.1L120.7 176.8L121.1 175.4L121.6 174.1L122.1 172.8L122.7 171.5L123.4 170.2L124.2 169.0L125.1 167.8L126.0 166.6L127.1 165.5L128.2 164.5L129.5 163.6L130.8 162.7L132.2 162.0L133.7 161.3L135.2 160.9L136.8 160.5L138.4 160.4L140.0 160.4L141.6 160.5L143.2 160.9L144.7 161.4L146.2 162.0L147.6 162.7L148.9 163.6L150.2 164.5L151.3 165.6L152.4 166.7L153.3 167.8L154.2 169.0L155.0 170.3L155.7 171.5L156.3 172.8L156.8 174.1L157.3 175.5L157.6 176.8L157.9 178.1L158.2 179.5L158.3 180.8L158.4 182.1L158.5 183.5L158.4 184.8L158.3 186.2L158.2 187.5L157.9 188.9L157.6 190.2L157.3 191.5L156.8 192.9L156.3 194.2L155.7 195.5L155.0 196.7L154.2 198.0L153.3 199.2L152.4 200.3L151.3 201.5L150.2 202.5L148.9 203.4L147.6 204.3L146.2 205.0L144.7 205.6L143.2 206.1L141.6 206.4L140.0 206.6L138.4 206.6L136.8 206.4L135.2 206.1L133.7 205.7L132.2 205.1L130.8 204.3L129.4 203.5L128.2 202.6L127.0 201.5L126.0 200.4L125.0 199.3L124.1 198.0L123.4 196.8L122.7 195.5L122.1 194.2L121.5 192.9L121.1 191.6L120.7 190.2L120.4 188.9L120.2 187.5L120.0 186.2L119.9 184.8Z" fill="#febb2c"/>
<path d="M120.5 183.5L120.5 182.2L120.6 180.9L120.8 179.6L121.0 178.3L121.3 177.0L121.7 175.7L122.1 174.4L122.6 173.1L123.2 171.9L123.9 170.7L124.7 169.4L125.5 168.3L126.5 167.2L127.5 166.1L128.6 165.1L129.8 164.2L131.1 163.3L132.4 162.6L133.9 162.0L135.4 161.6L136.9 161.2L138.4 161.1L140.0 161.1L141.6 161.2L143.1 161.6L144.6 162.0L146.0 162.6L147.4 163.3L148.6 164.2L149.8 165.1L151.0 166.1L152.0 167.2L152.9 168.3L153.7 169.5L154.5 170.7L155.2 171.9L155.8 173.2L156.3 174.4L156.7 175.7L157.1 177.0L157.4 178.3L157.6 179.6L157.8 180.9L157.8 182.2L157.9 183.5L157.8 184.8L157.8 186.1L157.6 187.4L157.4 188.7L157.1 190.0L156.7 191.3L156.3 192.6L155.8 193.8L155.2 195.1L154.5 196.3L153.8 197.5L152.9 198.7L152.0 199.8L151.0 200.9L149.9 201.9L148.7 202.8L147.4 203.7L146.0 204.4L144.6 205.0L143.1 205.4L141.6 205.7L140.0 205.9L138.4 205.9L136.9 205.7L135.4 205.4L133.9 205.0L132.4 204.4L131.1 203.7L129.8 202.9L128.6 202.0L127.4 201.0L126.4 199.9L125.5 198.8L124.6 197.6L123.9 196.4L123.2 195.1L122.6 193.9L122.1 192.6L121.7 191.3L121.3 190.0L121.0 188.7L120.8 187.4L120.6 186.1L120.5 184.8Z" fill="#fdb230"/>
<path d="M121.1 183.5L121.2 182.2L121.3 181.0L121.4 179.7L121.6 178.5L121.9 177.2L122.3 175.9L122.7 174.7L123.2 173.5L123.8 172.3L124.4 171.1L125.1 169.9L126.0 168.8L126.9 167.7L127.9 166.6L128.9 165.7L130.1 164.8L131.3 164.0L132.7 163.3L134.0 162.7L135.5 162.3L137.0 161.9L138.5 161.8L140.0 161.8L141.5 161.9L143.0 162.3L144.4 162.7L145.8 163.3L147.1 164.0L148.4 164.8L149.5 165.7L150.6 166.7L151.6 167.7L152.5 168.8L153.3 169.9L154.0 171.1L154.7 172.3L155.2 173.5L155.7 174.7L156.2 176.0L156.5 177.2L156.8 178.5L157.0 179.7L157.2 181.0L157.3 182.2L157.3 183.5L157.3 184.8L157.2 186.0L157.0 187.3L156.8 188.5L156.5 189.8L156.2 191.0L155.7 192.3L155.2 193.5L154.7 194.7L154.0 195.9L153.3 197.1L152.5 198.2L151.6 199.3L150.6 200.4L149.5 201.3L148.4 202.2L147.1 203.0L145.8 203.7L144.4 204.3L143.0 204.7L141.5 205.0L140.0 205.2L138.5 205.2L137.0 205.1L135.5 204.8L134.0 204.3L132.7 203.8L131.3 203.1L130.1 202.3L128.9 201.4L127.8 200.4L126.8 199.4L125.9 198.3L125.1 197.1L124.4 196.0L123.7 194.8L123.2 193.5L122.7 192.3L122.2 191.1L121.9 189.8L121.6 188.6L121.4 187.3L121.3 186.0L121.2 184.8Z" fill="#fca935"/>
<path d="M121.7 183.5L121.8 182.3L121.9 181.1L122.0 179.8L122.2 178.6L122.5 177.4L122.8 176.2L123.3 175.0L123.7 173.8L124.3 172.6L124.9 171.5L125.6 170.4L126.4 169.3L127.3 168.2L128.2 167.2L129.3 166.3L130.4 165.4L131.6 164.6L132.9 163.9L134.2 163.4L135.6 162.9L137.1 162.7L138.5 162.5L140.0 162.5L141.4 162.7L142.9 162.9L144.3 163.4L145.6 163.9L146.9 164.6L148.1 165.4L149.2 166.3L150.2 167.2L151.2 168.2L152.1 169.3L152.8 170.4L153.6 171.5L154.2 172.7L154.7 173.8L155.2 175.0L155.6 176.2L155.9 177.4L156.2 178.6L156.4 179.9L156.6 181.1L156.7 182.3L156.7 183.5L156.7 184.7L156.6 185.9L156.4 187.2L156.2 188.4L156.0 189.6L155.6 190.8L155.2 192.0L154.7 193.2L154.2 194.4L153.6 195.5L152.9 196.6L152.1 197.7L151.2 198.8L150.2 199.8L149.2 200.8L148.1 201.6L146.9 202.4L145.6 203.1L144.3 203.6L142.9 204.1L141.4 204.3L140.0 204.5L138.5 204.5L137.1 204.4L135.6 204.1L134.2 203.7L132.9 203.1L131.6 202.4L130.4 201.7L129.3 200.8L128.2 199.9L127.3 198.9L126.4 197.8L125.6 196.7L124.9 195.6L124.3 194.4L123.7 193.2L123.2 192.0L122.8 190.8L122.5 189.6L122.2 188.4L122.0 187.2L121.9 185.9L121.8 184.7Z" fill="#fba238"/>
<path d="M122.4 183.5L122.4 182.3L122.5 181.1L122.6 180.0L122.8 178.8L123.1 177.6L123.4 176.5L123.8 175.3L124.3 174.1L124.8 173.0L125.4 171.9L126.1 170.8L126.9 169.7L127.7 168.7L128.6 167.8L129.6 166.8L130.7 166.0L131.9 165.3L133.1 164.6L134.4 164.1L135.8 163.6L137.1 163.4L138.5 163.2L140.0 163.2L141.4 163.4L142.8 163.6L144.1 164.1L145.4 164.6L146.6 165.3L147.8 166.0L148.9 166.9L149.9 167.8L150.8 168.7L151.6 169.8L152.4 170.8L153.1 171.9L153.7 173.0L154.2 174.2L154.7 175.3L155.1 176.5L155.4 177.6L155.7 178.8L155.9 180.0L156.0 181.2L156.1 182.3L156.1 183.5L156.1 184.7L156.0 185.9L155.9 187.0L155.7 188.2L155.4 189.4L155.1 190.5L154.7 191.7L154.2 192.9L153.7 194.0L153.1 195.1L152.4 196.2L151.6 197.3L150.8 198.3L149.9 199.3L148.9 200.2L147.8 201.0L146.6 201.8L145.4 202.4L144.1 203.0L142.8 203.4L141.4 203.6L140.0 203.8L138.5 203.8L137.1 203.7L135.8 203.4L134.4 203.0L133.1 202.4L131.9 201.8L130.7 201.1L129.6 200.2L128.6 199.3L127.7 198.3L126.8 197.3L126.1 196.2L125.4 195.1L124.8 194.0L124.3 192.9L123.8 191.7L123.4 190.6L123.1 189.4L122.8 188.2L122.6 187.0L122.5 185.9L122.4 184.7Z" fill="#fa9c3c"/>
<path d="M123.0 183.5L123.0 182.4L123.1 181.2L123.2 180.1L123.4 179.0L123.7 177.8L124.0 176.7L124.4 175.6L124.8 174.5L125.3 173.4L125.9 172.3L126.6 171.3L127.3 170.2L128.1 169.2L129.0 168.3L130.0 167.4L131.0 166.6L132.2 165.9L133.3 165.3L134.6 164.7L135.9 164.3L137.2 164.1L138.6 163.9L140.0 163.9L141.3 164.1L142.7 164.3L143.9 164.7L145.2 165.3L146.4 165.9L147.5 166.6L148.5 167.4L149.5 168.3L150.4 169.3L151.2 170.2L151.9 171.3L152.6 172.3L153.2 173.4L153.7 174.5L154.1 175.6L154.5 176.7L154.8 177.8L155.1 179.0L155.3 180.1L155.4 181.2L155.5 182.4L155.5 183.5L155.5 184.6L155.4 185.8L155.3 186.9L155.1 188.0L154.8 189.2L154.5 190.3L154.1 191.4L153.7 192.5L153.2 193.6L152.6 194.7L152.0 195.8L151.2 196.8L150.4 197.8L149.5 198.7L148.6 199.6L147.5 200.4L146.4 201.1L145.2 201.8L143.9 202.3L142.6 202.7L141.3 203.0L140.0 203.1L138.6 203.1L137.2 203.0L135.9 202.7L134.6 202.3L133.3 201.8L132.1 201.2L131.0 200.4L130.0 199.6L129.0 198.8L128.1 197.8L127.3 196.8L126.5 195.8L125.9 194.7L125.3 193.7L124.8 192.6L124.4 191.4L124.0 190.3L123.7 189.2L123.4 188.1L123.2 186.9L123.1 185.8L123.0 184.6Z" fill="#f8963f"/>
<path d="M123.6 183.5L123.6 182.4L123.7 181.3L123.8 180.2L124.0 179.1L124.3 178.1L124.6 177.0L124.9 175.9L125.4 174.8L125.9 173.8L126.4 172.7L127.1 171.7L127.8 170.7L128.5 169.8L129.4 168.9L130.3 168.0L131.3 167.2L132.4 166.5L133.6 165.9L134.8 165.4L136.0 165.0L137.3 164.8L138.6 164.6L139.9 164.6L141.3 164.8L142.5 165.0L143.8 165.4L145.0 165.9L146.1 166.5L147.2 167.2L148.2 168.0L149.2 168.9L150.0 169.8L150.8 170.7L151.5 171.7L152.1 172.7L152.7 173.8L153.2 174.8L153.6 175.9L154.0 177.0L154.3 178.1L154.5 179.1L154.7 180.2L154.8 181.3L154.9 182.4L154.9 183.5L154.9 184.6L154.8 185.7L154.7 186.8L154.5 187.9L154.3 189.0L154.0 190.0L153.6 191.1L153.2 192.2L152.7 193.3L152.1 194.3L151.5 195.3L150.8 196.3L150.0 197.3L149.2 198.2L148.2 199.0L147.2 199.8L146.1 200.5L145.0 201.1L143.8 201.6L142.5 202.0L141.3 202.3L139.9 202.4L138.6 202.4L137.3 202.3L136.0 202.0L134.8 201.6L133.6 201.1L132.4 200.5L131.3 199.8L130.3 199.0L129.4 198.2L128.5 197.3L127.7 196.3L127.0 195.3L126.4 194.3L125.8 193.3L125.4 192.2L124.9 191.1L124.6 190.1L124.3 189.0L124.0 187.9L123.8 186.8L123.7 185.7L123.6 184.6Z" fill="#f79143"/>
<path d="M124.2 183.5L124.2 182.5L124.3 181.4L124.4 180.4L124.6 179.3L124.9 178.3L125.2 177.2L125.5 176.2L125.9 175.2L126.4 174.1L126.9 173.1L127.5 172.2L128.2 171.2L129.0 170.3L129.8 169.4L130.7 168.6L131.7 167.9L132.7 167.2L133.8 166.6L135.0 166.1L136.2 165.7L137.4 165.5L138.7 165.3L139.9 165.3L141.2 165.5L142.4 165.7L143.6 166.1L144.8 166.6L145.9 167.2L146.9 167.9L147.9 168.6L148.8 169.4L149.6 170.3L150.4 171.2L151.0 172.2L151.6 173.2L152.2 174.2L152.7 175.2L153.1 176.2L153.4 177.2L153.7 178.3L153.9 179.3L154.1 180.4L154.2 181.4L154.3 182.5L154.3 183.5L154.3 184.6L154.2 185.6L154.1 186.7L153.9 187.7L153.7 188.8L153.4 189.8L153.1 190.8L152.7 191.9L152.2 192.9L151.7 193.9L151.0 194.9L150.4 195.8L149.6 196.7L148.8 197.6L147.9 198.4L146.9 199.2L145.9 199.9L144.8 200.4L143.6 200.9L142.4 201.3L141.2 201.6L139.9 201.7L138.7 201.7L137.4 201.6L136.2 201.3L134.9 200.9L133.8 200.5L132.7 199.9L131.6 199.2L130.7 198.5L129.8 197.6L128.9 196.8L128.2 195.9L127.5 194.9L126.9 193.9L126.4 192.9L125.9 191.9L125.5 190.9L125.1 189.8L124.9 188.8L124.6 187.7L124.4 186.7L124.3 185.6L124.2 184.6Z" fill="#f48b47"/>
<path d="M124.8 183.5L124.9 182.5L124.9 181.5L125.1 180.5L125.2 179.5L125.5 178.5L125.7 177.5L126.1 176.5L126.5 175.5L126.9 174.5L127.4 173.6L128.0 172.6L128.7 171.7L129.4 170.8L130.2 170.0L131.0 169.2L132.0 168.5L133.0 167.8L134.0 167.3L135.1 166.8L136.3 166.4L137.5 166.2L138.7 166.1L139.9 166.1L141.1 166.2L142.3 166.4L143.5 166.8L144.6 167.3L145.6 167.8L146.6 168.5L147.6 169.2L148.4 170.0L149.2 170.8L149.9 171.7L150.6 172.6L151.2 173.6L151.7 174.5L152.1 175.5L152.5 176.5L152.9 177.5L153.1 178.5L153.4 179.5L153.5 180.5L153.7 181.5L153.7 182.5L153.8 183.5L153.7 184.5L153.7 185.5L153.5 186.5L153.4 187.6L153.1 188.6L152.9 189.6L152.5 190.6L152.1 191.5L151.7 192.5L151.2 193.5L150.6 194.4L149.9 195.3L149.2 196.2L148.4 197.1L147.6 197.8L146.6 198.6L145.6 199.2L144.6 199.8L143.5 200.2L142.3 200.6L141.1 200.9L139.9 201.0L138.7 201.0L137.5 200.9L136.3 200.6L135.1 200.3L134.0 199.8L133.0 199.2L132.0 198.6L131.0 197.9L130.2 197.1L129.4 196.2L128.6 195.4L128.0 194.4L127.4 193.5L126.9 192.5L126.4 191.6L126.1 190.6L125.7 189.6L125.4 188.6L125.2 187.6L125.1 186.5L124.9 185.5L124.9 184.5Z" fill="#f2844b"/>
<path d="M125.5 183.5L125.5 182.6L125.5 181.6L125.7 180.6L125.8 179.7L126.0 178.7L126.3 177.7L126.6 176.8L127.0 175.8L127.4 174.9L127.9 174.0L128.5 173.1L129.1 172.2L129.8 171.3L130.6 170.5L131.4 169.8L132.3 169.1L133.2 168.5L134.3 167.9L135.3 167.5L136.4 167.1L137.6 166.9L138.7 166.8L139.9 166.8L141.1 166.9L142.2 167.1L143.3 167.5L144.4 167.9L145.4 168.5L146.4 169.1L147.2 169.8L148.1 170.6L148.8 171.4L149.5 172.2L150.1 173.1L150.7 174.0L151.2 174.9L151.6 175.8L152.0 176.8L152.3 177.7L152.6 178.7L152.8 179.7L153.0 180.6L153.1 181.6L153.1 182.6L153.2 183.5L153.1 184.5L153.1 185.5L153.0 186.4L152.8 187.4L152.6 188.3L152.3 189.3L152.0 190.3L151.6 191.2L151.2 192.1L150.7 193.1L150.1 194.0L149.5 194.9L148.8 195.7L148.1 196.5L147.2 197.3L146.4 198.0L145.4 198.6L144.4 199.1L143.3 199.6L142.2 199.9L141.1 200.1L139.9 200.3L138.7 200.3L137.6 200.2L136.4 199.9L135.3 199.6L134.2 199.1L133.2 198.6L132.3 198.0L131.4 197.3L130.5 196.5L129.8 195.7L129.1 194.9L128.5 194.0L127.9 193.1L127.4 192.2L127.0 191.2L126.6 190.3L126.3 189.3L126.0 188.4L125.8 187.4L125.7 186.4L125.5 185.5L125.5 184.5Z" fill="#ef7e4f"/>
<path d="M126.1 183.5L126.1 182.6L126.2 181.7L126.3 180.8L126.4 179.8L126.6 178.9L126.9 178.0L127.2 177.1L127.6 176.2L128.0 175.3L128.4 174.4L129.0 173.5L129.6 172.7L130.2 171.9L131.0 171.1L131.7 170.4L132.6 169.7L133.5 169.1L134.5 168.6L135.5 168.2L136.6 167.8L137.7 167.6L138.8 167.5L139.9 167.5L141.0 167.6L142.1 167.8L143.2 168.2L144.2 168.6L145.2 169.1L146.1 169.7L146.9 170.4L147.7 171.1L148.4 171.9L149.1 172.7L149.7 173.5L150.2 174.4L150.7 175.3L151.1 176.2L151.5 177.1L151.8 178.0L152.0 178.9L152.2 179.8L152.4 180.8L152.5 181.7L152.6 182.6L152.6 183.5L152.6 184.5L152.5 185.4L152.4 186.3L152.2 187.2L152.0 188.1L151.8 189.1L151.5 190.0L151.1 190.9L150.7 191.8L150.2 192.7L149.7 193.5L149.1 194.4L148.4 195.2L147.7 195.9L146.9 196.7L146.1 197.3L145.2 197.9L144.2 198.5L143.2 198.9L142.1 199.2L141.0 199.4L139.9 199.6L138.8 199.6L137.7 199.4L136.6 199.2L135.5 198.9L134.5 198.5L133.5 198.0L132.6 197.4L131.7 196.7L130.9 196.0L130.2 195.2L129.6 194.4L129.0 193.5L128.4 192.7L128.0 191.8L127.5 190.9L127.2 190.0L126.9 189.1L126.6 188.2L126.4 187.2L126.3 186.3L126.2 185.4L126.1 184.5Z" fill="#ec7854"/>
<path d="M126.7 183.5L126.7 182.6L126.8 181.8L126.9 180.9L127.0 180.0L127.2 179.1L127.5 178.2L127.8 177.4L128.1 176.5L128.5 175.6L128.9 174.8L129.5 174.0L130.0 173.2L130.6 172.4L131.3 171.7L132.1 171.0L132.9 170.3L133.8 169.8L134.7 169.3L135.7 168.9L136.7 168.5L137.7 168.3L138.8 168.2L139.9 168.2L140.9 168.3L142.0 168.5L143.0 168.9L144.0 169.3L144.9 169.8L145.8 170.3L146.6 171.0L147.3 171.7L148.0 172.4L148.7 173.2L149.2 174.0L149.7 174.8L150.2 175.7L150.6 176.5L150.9 177.4L151.2 178.2L151.5 179.1L151.6 180.0L151.8 180.9L151.9 181.8L152.0 182.6L152.0 183.5L152.0 184.4L151.9 185.3L151.8 186.2L151.6 187.1L151.5 187.9L151.2 188.8L150.9 189.7L150.6 190.6L150.2 191.4L149.7 192.3L149.2 193.1L148.7 193.9L148.0 194.7L147.3 195.4L146.6 196.1L145.8 196.7L144.9 197.3L144.0 197.8L143.0 198.2L142.0 198.5L140.9 198.7L139.9 198.8L138.8 198.8L137.7 198.7L136.7 198.5L135.7 198.2L134.7 197.8L133.8 197.3L132.9 196.7L132.1 196.1L131.3 195.4L130.6 194.7L130.0 193.9L129.4 193.1L128.9 192.3L128.5 191.4L128.1 190.6L127.7 189.7L127.5 188.8L127.2 187.9L127.0 187.1L126.9 186.2L126.8 185.3L126.7 184.4Z" fill="#e97259"/>
<path d="M127.3 183.5L127.3 182.7L127.4 181.9L127.5 181.0L127.6 180.2L127.8 179.3L128.0 178.5L128.3 177.7L128.6 176.8L129.0 176.0L129.4 175.2L129.9 174.4L130.5 173.7L131.1 172.9L131.7 172.2L132.4 171.6L133.2 171.0L134.1 170.4L134.9 169.9L135.9 169.5L136.8 169.2L137.8 169.0L138.8 168.9L139.9 168.9L140.9 169.0L141.9 169.2L142.8 169.5L143.8 169.9L144.7 170.4L145.5 171.0L146.3 171.6L147.0 172.2L147.6 172.9L148.2 173.7L148.8 174.4L149.3 175.2L149.7 176.0L150.1 176.8L150.4 177.7L150.7 178.5L150.9 179.3L151.1 180.2L151.2 181.0L151.3 181.9L151.4 182.7L151.4 183.5L151.4 184.4L151.3 185.2L151.2 186.1L151.1 186.9L150.9 187.7L150.7 188.6L150.4 189.4L150.1 190.2L149.7 191.0L149.3 191.8L148.8 192.6L148.2 193.4L147.6 194.1L147.0 194.8L146.3 195.5L145.5 196.1L144.7 196.7L143.8 197.1L142.8 197.5L141.9 197.8L140.9 198.0L139.9 198.1L138.8 198.1L137.8 198.0L136.8 197.8L135.9 197.5L134.9 197.1L134.0 196.7L133.2 196.1L132.4 195.5L131.7 194.9L131.1 194.2L130.5 193.4L129.9 192.6L129.4 191.9L129.0 191.1L128.6 190.2L128.3 189.4L128.0 188.6L127.8 187.7L127.6 186.9L127.5 186.1L127.4 185.2L127.3 184.4Z" fill="#e56c5d"/>
<path d="M127.9 183.5L127.9 182.7L128.0 181.9L128.1 181.1L128.2 180.3L128.4 179.5L128.6 178.8L128.9 178.0L129.2 177.2L129.5 176.4L130.0 175.6L130.4 174.9L130.9 174.2L131.5 173.5L132.1 172.8L132.8 172.2L133.5 171.6L134.3 171.1L135.2 170.6L136.1 170.2L137.0 169.9L137.9 169.7L138.9 169.6L139.9 169.6L140.8 169.7L141.8 169.9L142.7 170.2L143.6 170.6L144.4 171.1L145.2 171.6L145.9 172.2L146.6 172.8L147.2 173.5L147.8 174.2L148.3 174.9L148.8 175.6L149.2 176.4L149.5 177.2L149.8 178.0L150.1 178.8L150.3 179.5L150.5 180.3L150.6 181.1L150.7 181.9L150.8 182.7L150.8 183.5L150.8 184.3L150.7 185.1L150.6 185.9L150.5 186.7L150.3 187.5L150.1 188.3L149.8 189.1L149.5 189.9L149.2 190.7L148.8 191.4L148.3 192.2L147.8 192.9L147.2 193.6L146.6 194.3L145.9 194.9L145.2 195.5L144.4 196.0L143.6 196.5L142.7 196.8L141.8 197.1L140.8 197.3L139.9 197.4L138.9 197.4L137.9 197.3L137.0 197.1L136.0 196.8L135.2 196.5L134.3 196.0L133.5 195.5L132.8 194.9L132.1 194.3L131.5 193.6L130.9 192.9L130.4 192.2L129.9 191.4L129.5 190.7L129.2 189.9L128.9 189.1L128.6 188.3L128.4 187.5L128.2 186.7L128.1 185.9L128.0 185.1L127.9 184.3Z" fill="#e26660"/>
<path d="M128.5 183.5L128.6 182.8L128.6 182.0L128.7 181.3L128.8 180.5L129.0 179.8L129.2 179.0L129.4 178.3L129.7 177.5L130.1 176.8L130.5 176.1L130.9 175.3L131.4 174.7L131.9 174.0L132.5 173.4L133.2 172.8L133.9 172.2L134.6 171.7L135.4 171.3L136.2 170.9L137.1 170.7L138.0 170.5L138.9 170.4L139.8 170.4L140.8 170.5L141.7 170.7L142.5 170.9L143.4 171.3L144.2 171.7L144.9 172.2L145.6 172.8L146.2 173.4L146.8 174.0L147.4 174.7L147.9 175.3L148.3 176.1L148.7 176.8L149.0 177.5L149.3 178.3L149.6 179.0L149.8 179.8L149.9 180.5L150.1 181.3L150.1 182.0L150.2 182.8L150.2 183.5L150.2 184.3L150.1 185.1L150.1 185.8L149.9 186.6L149.8 187.3L149.6 188.1L149.3 188.8L149.0 189.6L148.7 190.3L148.3 191.0L147.9 191.7L147.4 192.4L146.8 193.1L146.3 193.7L145.6 194.3L144.9 194.9L144.2 195.4L143.4 195.8L142.5 196.2L141.7 196.4L140.8 196.6L139.8 196.7L138.9 196.7L138.0 196.6L137.1 196.4L136.2 196.2L135.4 195.8L134.6 195.4L133.8 194.9L133.1 194.3L132.5 193.7L131.9 193.1L131.4 192.4L130.9 191.7L130.4 191.0L130.1 190.3L129.7 189.6L129.4 188.8L129.2 188.1L129.0 187.3L128.8 186.6L128.7 185.8L128.6 185.1L128.6 184.3Z" fill="#e06263"/>
<path d="M129.1 183.5L129.2 182.8L129.2 182.1L129.3 181.4L129.4 180.7L129.6 180.0L129.8 179.3L130.0 178.6L130.3 177.9L130.6 177.2L131.0 176.5L131.4 175.8L131.8 175.1L132.3 174.5L132.9 173.9L133.5 173.4L134.2 172.8L134.9 172.4L135.6 172.0L136.4 171.6L137.2 171.4L138.1 171.2L139.0 171.1L139.8 171.1L140.7 171.2L141.5 171.4L142.4 171.6L143.2 172.0L143.9 172.4L144.6 172.8L145.3 173.4L145.9 173.9L146.4 174.5L147.0 175.1L147.4 175.8L147.8 176.5L148.2 177.2L148.5 177.9L148.8 178.6L149.0 179.3L149.2 180.0L149.4 180.7L149.5 181.4L149.6 182.1L149.6 182.8L149.6 183.5L149.6 184.3L149.6 185.0L149.5 185.7L149.4 186.4L149.2 187.1L149.0 187.8L148.8 188.5L148.5 189.2L148.2 189.9L147.8 190.6L147.4 191.3L147.0 191.9L146.4 192.6L145.9 193.2L145.3 193.7L144.6 194.3L143.9 194.7L143.2 195.1L142.4 195.5L141.5 195.7L140.7 195.9L139.8 196.0L139.0 196.0L138.1 195.9L137.2 195.7L136.4 195.5L135.6 195.1L134.9 194.7L134.2 194.3L133.5 193.7L132.9 193.2L132.3 192.6L131.8 191.9L131.4 191.3L131.0 190.6L130.6 189.9L130.3 189.2L130.0 188.5L129.8 187.8L129.6 187.1L129.4 186.4L129.3 185.7L129.2 185.0L129.2 184.3Z" fill="#de5f66"/>
<path d="M129.8 183.5L129.8 182.9L129.8 182.2L129.9 181.5L130.0 180.9L130.2 180.2L130.4 179.5L130.6 178.9L130.8 178.2L131.1 177.5L131.5 176.9L131.9 176.3L132.3 175.6L132.8 175.0L133.3 174.5L133.9 173.9L134.5 173.5L135.2 173.0L135.9 172.6L136.6 172.3L137.4 172.1L138.2 171.9L139.0 171.8L139.8 171.8L140.6 171.9L141.4 172.1L142.2 172.3L142.9 172.6L143.7 173.0L144.3 173.5L144.9 174.0L145.5 174.5L146.0 175.0L146.5 175.6L147.0 176.3L147.3 176.9L147.7 177.5L148.0 178.2L148.2 178.9L148.5 179.5L148.6 180.2L148.8 180.9L148.9 181.5L149.0 182.2L149.0 182.9L149.0 183.5L149.0 184.2L149.0 184.9L148.9 185.6L148.8 186.2L148.6 186.9L148.5 187.6L148.2 188.2L148.0 188.9L147.7 189.6L147.3 190.2L147.0 190.8L146.5 191.5L146.0 192.0L145.5 192.6L144.9 193.1L144.3 193.6L143.7 194.1L142.9 194.5L142.2 194.8L141.4 195.0L140.6 195.2L139.8 195.3L139.0 195.3L138.2 195.2L137.4 195.0L136.6 194.8L135.9 194.5L135.1 194.1L134.5 193.6L133.9 193.2L133.3 192.6L132.8 192.1L132.3 191.5L131.8 190.8L131.5 190.2L131.1 189.6L130.8 188.9L130.6 188.2L130.3 187.6L130.2 186.9L130.0 186.2L129.9 185.6L129.8 184.9L129.8 184.2Z" fill="#dc5d68"/>
<path d="M130.4 183.6L130.4 182.9L130.4 182.3L130.5 181.7L130.6 181.0L130.8 180.4L130.9 179.8L131.1 179.1L131.4 178.5L131.7 177.9L132.0 177.3L132.3 176.7L132.7 176.1L133.2 175.6L133.7 175.0L134.2 174.5L134.8 174.1L135.4 173.7L136.1 173.3L136.8 173.0L137.5 172.8L138.3 172.6L139.0 172.5L139.8 172.5L140.6 172.6L141.3 172.8L142.0 173.0L142.7 173.3L143.4 173.7L144.0 174.1L144.6 174.5L145.2 175.0L145.6 175.6L146.1 176.1L146.5 176.7L146.9 177.3L147.2 177.9L147.5 178.5L147.7 179.1L147.9 179.8L148.1 180.4L148.2 181.0L148.3 181.7L148.4 182.3L148.4 182.9L148.4 183.6L148.4 184.2L148.4 184.8L148.3 185.4L148.2 186.1L148.1 186.7L147.9 187.3L147.7 188.0L147.5 188.6L147.2 189.2L146.9 189.8L146.5 190.4L146.1 191.0L145.6 191.5L145.2 192.1L144.6 192.6L144.0 193.0L143.4 193.4L142.7 193.8L142.0 194.1L141.3 194.3L140.6 194.5L139.8 194.6L139.0 194.6L138.3 194.5L137.5 194.3L136.8 194.1L136.1 193.8L135.4 193.4L134.8 193.0L134.2 192.6L133.7 192.1L133.2 191.5L132.7 191.0L132.3 190.4L132.0 189.8L131.7 189.2L131.4 188.6L131.1 188.0L130.9 187.3L130.8 186.7L130.6 186.1L130.5 185.4L130.4 184.8L130.4 184.2Z" fill="#da5b69"/>
<path d="M131.0 183.6L131.0 183.0L131.0 182.4L131.1 181.8L131.2 181.2L131.3 180.6L131.5 180.0L131.7 179.4L131.9 178.9L132.2 178.3L132.5 177.7L132.8 177.2L133.2 176.6L133.6 176.1L134.1 175.6L134.6 175.1L135.1 174.7L135.7 174.3L136.3 174.0L137.0 173.7L137.7 173.5L138.4 173.3L139.1 173.3L139.8 173.3L140.5 173.3L141.2 173.5L141.9 173.7L142.5 174.0L143.2 174.3L143.7 174.7L144.3 175.1L144.8 175.6L145.2 176.1L145.7 176.6L146.0 177.2L146.4 177.7L146.7 178.3L146.9 178.9L147.2 179.4L147.3 180.0L147.5 180.6L147.6 181.2L147.7 181.8L147.8 182.4L147.8 183.0L147.9 183.6L147.8 184.1L147.8 184.7L147.7 185.3L147.6 185.9L147.5 186.5L147.3 187.1L147.2 187.7L146.9 188.2L146.7 188.8L146.4 189.4L146.0 189.9L145.7 190.5L145.2 191.0L144.8 191.5L144.3 192.0L143.7 192.4L143.2 192.8L142.5 193.1L141.9 193.4L141.2 193.6L140.5 193.8L139.8 193.8L139.1 193.8L138.4 193.8L137.7 193.6L137.0 193.4L136.3 193.1L135.7 192.8L135.1 192.4L134.6 192.0L134.1 191.5L133.6 191.0L133.2 190.5L132.8 189.9L132.5 189.4L132.2 188.8L131.9 188.2L131.7 187.7L131.5 187.1L131.3 186.5L131.2 185.9L131.1 185.3L131.0 184.7L131.0 184.1Z" fill="#d9596b"/>
<path d="M131.6 183.6L131.6 183.0L131.7 182.5L131.7 181.9L131.8 181.4L131.9 180.8L132.1 180.3L132.3 179.7L132.5 179.2L132.7 178.7L133.0 178.1L133.3 177.6L133.6 177.1L134.0 176.6L134.5 176.2L134.9 175.7L135.4 175.3L136.0 175.0L136.6 174.7L137.2 174.4L137.8 174.2L138.4 174.1L139.1 174.0L139.8 174.0L140.4 174.1L141.1 174.2L141.7 174.4L142.3 174.7L142.9 175.0L143.4 175.3L144.0 175.7L144.4 176.2L144.8 176.6L145.2 177.1L145.6 177.6L145.9 178.1L146.2 178.7L146.4 179.2L146.6 179.7L146.8 180.3L146.9 180.8L147.1 181.4L147.2 181.9L147.2 182.5L147.3 183.0L147.3 183.6L147.3 184.1L147.2 184.6L147.2 185.2L147.1 185.7L146.9 186.3L146.8 186.8L146.6 187.4L146.4 187.9L146.2 188.4L145.9 189.0L145.6 189.5L145.2 190.0L144.8 190.5L144.4 190.9L144.0 191.4L143.4 191.8L142.9 192.1L142.3 192.4L141.7 192.7L141.1 192.9L140.4 193.0L139.8 193.1L139.1 193.1L138.4 193.0L137.8 192.9L137.2 192.7L136.6 192.4L136.0 192.1L135.4 191.8L134.9 191.4L134.5 190.9L134.0 190.5L133.6 190.0L133.3 189.5L133.0 189.0L132.7 188.4L132.5 187.9L132.3 187.4L132.1 186.8L131.9 186.3L131.8 185.7L131.7 185.2L131.7 184.7L131.6 184.1Z" fill="#d7566d"/>
<path d="M132.2 183.6L132.2 183.1L132.3 182.6L132.3 182.0L132.4 181.5L132.5 181.0L132.7 180.5L132.8 180.0L133.0 179.5L133.2 179.0L133.5 178.6L133.8 178.1L134.1 177.6L134.5 177.2L134.9 176.7L135.3 176.3L135.8 176.0L136.3 175.6L136.8 175.4L137.3 175.1L137.9 174.9L138.5 174.8L139.1 174.7L139.8 174.7L140.4 174.8L141.0 174.9L141.6 175.1L142.1 175.4L142.7 175.6L143.2 176.0L143.6 176.3L144.0 176.7L144.4 177.2L144.8 177.6L145.1 178.1L145.4 178.6L145.7 179.0L145.9 179.5L146.1 180.0L146.2 180.5L146.4 181.0L146.5 181.5L146.6 182.0L146.6 182.6L146.7 183.1L146.7 183.6L146.7 184.1L146.6 184.6L146.6 185.1L146.5 185.6L146.4 186.1L146.2 186.6L146.1 187.1L145.9 187.6L145.7 188.1L145.4 188.6L145.1 189.0L144.8 189.5L144.4 189.9L144.1 190.4L143.6 190.8L143.2 191.1L142.7 191.5L142.1 191.8L141.6 192.0L141.0 192.2L140.4 192.3L139.8 192.4L139.1 192.4L138.5 192.3L137.9 192.2L137.3 192.0L136.8 191.8L136.3 191.5L135.8 191.2L135.3 190.8L134.9 190.4L134.5 190.0L134.1 189.5L133.8 189.0L133.5 188.6L133.2 188.1L133.0 187.6L132.8 187.1L132.7 186.6L132.5 186.1L132.4 185.6L132.3 185.1L132.3 184.6L132.2 184.1Z" fill="#d6546e"/>
<path d="M132.8 183.6L132.9 183.1L132.9 182.6L132.9 182.2L133.0 181.7L133.1 181.3L133.2 180.8L133.4 180.3L133.6 179.9L133.8 179.4L134.0 179.0L134.3 178.5L134.6 178.1L134.9 177.7L135.2 177.3L135.6 176.9L136.1 176.6L136.5 176.3L137.0 176.0L137.5 175.8L138.1 175.6L138.6 175.5L139.2 175.5L139.7 175.5L140.3 175.5L140.9 175.6L141.4 175.8L141.9 176.0L142.4 176.3L142.9 176.6L143.3 176.9L143.7 177.3L144.0 177.7L144.4 178.1L144.7 178.5L144.9 179.0L145.2 179.4L145.4 179.9L145.5 180.3L145.7 180.8L145.8 181.3L145.9 181.7L146.0 182.2L146.0 182.6L146.1 183.1L146.1 183.6L146.1 184.0L146.0 184.5L146.0 185.0L145.9 185.4L145.8 185.9L145.7 186.3L145.5 186.8L145.4 187.2L145.2 187.7L144.9 188.1L144.7 188.6L144.4 189.0L144.0 189.4L143.7 189.8L143.3 190.2L142.9 190.5L142.4 190.8L141.9 191.1L141.4 191.3L140.9 191.5L140.3 191.6L139.7 191.7L139.2 191.7L138.6 191.6L138.1 191.5L137.5 191.3L137.0 191.1L136.5 190.8L136.1 190.5L135.6 190.2L135.2 189.8L134.9 189.4L134.6 189.0L134.3 188.6L134.0 188.1L133.8 187.7L133.6 187.3L133.4 186.8L133.2 186.3L133.1 185.9L133.0 185.4L132.9 185.0L132.9 184.5L132.9 184.0Z" fill="#d45170"/>
<path d="M133.5 183.6L133.5 183.1L133.5 182.7L133.5 182.3L133.6 181.9L133.7 181.5L133.8 181.0L134.0 180.6L134.1 180.2L134.3 179.8L134.5 179.4L134.7 179.0L135.0 178.6L135.3 178.2L135.6 177.9L136.0 177.5L136.4 177.2L136.8 177.0L137.3 176.7L137.7 176.5L138.2 176.4L138.7 176.3L139.2 176.2L139.7 176.2L140.2 176.3L140.7 176.4L141.2 176.5L141.7 176.7L142.1 177.0L142.6 177.2L143.0 177.5L143.3 177.9L143.6 178.2L143.9 178.6L144.2 179.0L144.4 179.4L144.7 179.8L144.8 180.2L145.0 180.6L145.1 181.0L145.2 181.5L145.3 181.9L145.4 182.3L145.5 182.7L145.5 183.1L145.5 183.6L145.5 184.0L145.5 184.4L145.4 184.8L145.3 185.2L145.2 185.7L145.1 186.1L145.0 186.5L144.8 186.9L144.7 187.3L144.4 187.7L144.2 188.1L143.9 188.5L143.6 188.9L143.3 189.3L143.0 189.6L142.6 189.9L142.1 190.2L141.7 190.4L141.2 190.6L140.7 190.8L140.2 190.9L139.7 190.9L139.2 190.9L138.7 190.9L138.2 190.8L137.7 190.6L137.3 190.4L136.8 190.2L136.4 189.9L136.0 189.6L135.6 189.3L135.3 188.9L135.0 188.5L134.7 188.1L134.5 187.7L134.3 187.3L134.1 186.9L134.0 186.5L133.8 186.1L133.7 185.7L133.6 185.2L133.5 184.8L133.5 184.4L133.5 184.0Z" fill="#d24f72"/>
<path d="M134.1 183.6L134.1 183.2L134.1 182.8L134.1 182.4L134.2 182.1L134.3 181.7L134.4 181.3L134.5 180.9L134.7 180.6L134.8 180.2L135.0 179.8L135.2 179.5L135.5 179.1L135.7 178.8L136.0 178.5L136.4 178.1L136.7 177.9L137.1 177.6L137.5 177.4L137.9 177.2L138.3 177.1L138.8 177.0L139.3 176.9L139.7 176.9L140.2 177.0L140.6 177.1L141.1 177.2L141.5 177.4L141.9 177.6L142.3 177.9L142.6 178.1L142.9 178.5L143.2 178.8L143.5 179.1L143.7 179.5L144.0 179.8L144.2 180.2L144.3 180.6L144.5 180.9L144.6 181.3L144.7 181.7L144.8 182.1L144.8 182.4L144.9 182.8L144.9 183.2L144.9 183.6L144.9 183.9L144.9 184.3L144.8 184.7L144.8 185.1L144.7 185.5L144.6 185.8L144.5 186.2L144.3 186.6L144.2 187.0L144.0 187.3L143.7 187.7L143.5 188.0L143.2 188.4L142.9 188.7L142.6 189.0L142.3 189.3L141.9 189.5L141.5 189.7L141.1 189.9L140.6 190.1L140.2 190.2L139.7 190.2L139.3 190.2L138.8 190.2L138.3 190.1L137.9 189.9L137.5 189.7L137.1 189.5L136.7 189.3L136.4 189.0L136.0 188.7L135.7 188.4L135.5 188.0L135.2 187.7L135.0 187.3L134.8 187.0L134.7 186.6L134.5 186.2L134.4 185.8L134.3 185.5L134.2 185.1L134.1 184.7L134.1 184.3L134.1 183.9Z" fill="#d04c74"/>
<path d="M134.7 183.6L134.7 183.2L134.7 182.9L134.8 182.6L134.8 182.2L134.9 181.9L135.0 181.6L135.1 181.2L135.2 180.9L135.4 180.6L135.5 180.2L135.7 179.9L135.9 179.6L136.2 179.3L136.4 179.0L136.7 178.8L137.0 178.5L137.4 178.3L137.7 178.1L138.1 177.9L138.5 177.8L138.9 177.7L139.3 177.7L139.7 177.7L140.1 177.7L140.5 177.8L140.9 177.9L141.3 178.1L141.6 178.3L142.0 178.5L142.3 178.8L142.6 179.0L142.8 179.3L143.1 179.6L143.3 179.9L143.5 180.2L143.6 180.6L143.8 180.9L143.9 181.2L144.0 181.6L144.1 181.9L144.2 182.2L144.2 182.6L144.3 182.9L144.3 183.2L144.3 183.6L144.3 183.9L144.3 184.2L144.2 184.6L144.2 184.9L144.1 185.3L144.0 185.6L143.9 185.9L143.8 186.3L143.6 186.6L143.5 186.9L143.3 187.2L143.1 187.5L142.8 187.8L142.6 188.1L142.3 188.4L142.0 188.6L141.6 188.9L141.3 189.1L140.9 189.2L140.5 189.3L140.1 189.4L139.7 189.5L139.3 189.5L138.9 189.4L138.5 189.3L138.1 189.2L137.7 189.1L137.4 188.9L137.0 188.6L136.7 188.4L136.4 188.1L136.2 187.8L135.9 187.5L135.7 187.2L135.5 186.9L135.4 186.6L135.2 186.3L135.1 185.9L135.0 185.6L134.9 185.3L134.8 184.9L134.8 184.6L134.7 184.2L134.7 183.9Z" fill="#ce4976"/>
<path d="M135.3 183.6L135.3 183.3L135.3 183.0L135.4 182.7L135.4 182.4L135.5 182.1L135.6 181.8L135.6 181.5L135.8 181.2L135.9 180.9L136.0 180.7L136.2 180.4L136.4 180.1L136.6 179.8L136.8 179.6L137.1 179.4L137.3 179.1L137.6 178.9L138.0 178.8L138.3 178.6L138.6 178.5L139.0 178.4L139.3 178.4L139.7 178.4L140.1 178.4L140.4 178.5L140.7 178.6L141.1 178.8L141.4 178.9L141.7 179.1L142.0 179.4L142.2 179.6L142.4 179.8L142.6 180.1L142.8 180.4L143.0 180.7L143.1 180.9L143.3 181.2L143.4 181.5L143.5 181.8L143.6 182.1L143.6 182.4L143.7 182.7L143.7 183.0L143.7 183.3L143.7 183.6L143.7 183.9L143.7 184.2L143.7 184.5L143.6 184.8L143.6 185.0L143.5 185.3L143.4 185.6L143.3 185.9L143.1 186.2L143.0 186.5L142.8 186.8L142.6 187.0L142.4 187.3L142.2 187.6L142.0 187.8L141.7 188.0L141.4 188.2L141.1 188.4L140.7 188.5L140.4 188.6L140.1 188.7L139.7 188.7L139.3 188.7L139.0 188.7L138.6 188.6L138.3 188.5L138.0 188.4L137.6 188.2L137.3 188.0L137.1 187.8L136.8 187.6L136.6 187.3L136.4 187.0L136.2 186.8L136.0 186.5L135.9 186.2L135.8 185.9L135.6 185.6L135.6 185.3L135.5 185.0L135.4 184.8L135.4 184.5L135.3 184.2L135.3 183.9Z" fill="#cc4778"/>
<path d="M135.9 183.6L135.9 183.3L135.9 183.1L136.0 182.8L136.0 182.6L136.1 182.3L136.1 182.1L136.2 181.8L136.3 181.6L136.4 181.3L136.5 181.1L136.7 180.8L136.8 180.6L137.0 180.4L137.2 180.2L137.4 180.0L137.7 179.8L137.9 179.6L138.2 179.5L138.5 179.3L138.8 179.2L139.1 179.2L139.4 179.1L139.7 179.1L140.0 179.2L140.3 179.2L140.6 179.3L140.9 179.5L141.1 179.6L141.4 179.8L141.6 180.0L141.8 180.2L142.0 180.4L142.2 180.6L142.4 180.8L142.5 181.1L142.6 181.3L142.7 181.6L142.8 181.8L142.9 182.1L143.0 182.3L143.0 182.6L143.1 182.8L143.1 183.1L143.1 183.3L143.1 183.6L143.1 183.8L143.1 184.1L143.1 184.3L143.0 184.6L143.0 184.8L142.9 185.1L142.8 185.3L142.7 185.6L142.6 185.8L142.5 186.1L142.4 186.3L142.2 186.6L142.0 186.8L141.8 187.0L141.6 187.2L141.4 187.4L141.1 187.6L140.9 187.7L140.6 187.8L140.3 187.9L140.0 188.0L139.7 188.0L139.4 188.0L139.1 188.0L138.8 187.9L138.5 187.8L138.2 187.7L137.9 187.6L137.7 187.4L137.4 187.2L137.2 187.0L137.0 186.8L136.8 186.6L136.7 186.3L136.5 186.1L136.4 185.8L136.3 185.6L136.2 185.3L136.1 185.1L136.1 184.8L136.0 184.6L136.0 184.3L135.9 184.1L135.9 183.8Z" fill="#cb4679"/>
<path d="M136.5 183.6L136.5 183.4L136.5 183.2L136.6 183.0L136.6 182.7L136.7 182.5L136.7 182.3L136.8 182.1L136.9 181.9L136.9 181.7L137.1 181.5L137.2 181.3L137.3 181.1L137.5 180.9L137.6 180.7L137.8 180.6L138.0 180.4L138.2 180.3L138.4 180.1L138.7 180.0L138.9 180.0L139.2 179.9L139.4 179.9L139.7 179.9L139.9 179.9L140.2 180.0L140.4 180.0L140.7 180.1L140.9 180.3L141.1 180.4L141.3 180.6L141.5 180.7L141.6 180.9L141.8 181.1L141.9 181.3L142.0 181.5L142.1 181.7L142.2 181.9L142.3 182.1L142.4 182.3L142.4 182.5L142.5 182.7L142.5 183.0L142.5 183.2L142.5 183.4L142.5 183.6L142.5 183.8L142.5 184.0L142.5 184.2L142.5 184.4L142.4 184.6L142.4 184.8L142.3 185.1L142.2 185.3L142.1 185.5L142.0 185.7L141.9 185.9L141.8 186.1L141.6 186.3L141.5 186.4L141.3 186.6L141.1 186.8L140.9 186.9L140.7 187.0L140.4 187.1L140.2 187.2L139.9 187.3L139.7 187.3L139.4 187.3L139.2 187.3L138.9 187.2L138.7 187.1L138.4 187.0L138.2 186.9L138.0 186.8L137.8 186.6L137.6 186.4L137.5 186.3L137.3 186.1L137.2 185.9L137.1 185.7L136.9 185.5L136.9 185.3L136.8 185.1L136.7 184.8L136.7 184.6L136.6 184.4L136.6 184.2L136.5 184.0L136.5 183.8Z" fill="#ca457a"/>
<path d="M137.1 183.6L137.1 183.4L137.2 183.3L137.2 183.1L137.2 182.9L137.2 182.7L137.3 182.6L137.3 182.4L137.4 182.2L137.5 182.1L137.6 181.9L137.7 181.8L137.8 181.6L137.9 181.4L138.0 181.3L138.2 181.2L138.3 181.0L138.5 180.9L138.7 180.8L138.8 180.8L139.0 180.7L139.2 180.6L139.4 180.6L139.7 180.6L139.9 180.6L140.1 180.7L140.3 180.8L140.4 180.8L140.6 180.9L140.8 181.0L140.9 181.2L141.1 181.3L141.2 181.4L141.3 181.6L141.4 181.8L141.5 181.9L141.6 182.1L141.7 182.2L141.8 182.4L141.8 182.6L141.9 182.7L141.9 182.9L141.9 183.1L141.9 183.3L142.0 183.4L142.0 183.6L142.0 183.8L141.9 183.9L141.9 184.1L141.9 184.3L141.9 184.4L141.8 184.6L141.8 184.8L141.7 184.9L141.6 185.1L141.5 185.3L141.4 185.4L141.3 185.6L141.2 185.7L141.1 185.9L140.9 186.0L140.8 186.1L140.6 186.2L140.4 186.3L140.3 186.4L140.1 186.5L139.9 186.5L139.7 186.5L139.4 186.5L139.2 186.5L139.0 186.5L138.8 186.4L138.7 186.3L138.5 186.2L138.3 186.1L138.2 186.0L138.0 185.9L137.9 185.7L137.8 185.6L137.7 185.4L137.6 185.3L137.5 185.1L137.4 184.9L137.3 184.8L137.3 184.6L137.2 184.4L137.2 184.3L137.2 184.1L137.2 183.9L137.1 183.8Z" fill="#c9447b"/>
<path d="M137.8 183.6L137.8 183.5L137.8 183.3L137.8 183.2L137.8 183.1L137.8 183.0L137.9 182.8L137.9 182.7L138.0 182.6L138.0 182.5L138.1 182.3L138.1 182.2L138.2 182.1L138.3 182.0L138.4 181.9L138.5 181.8L138.6 181.7L138.8 181.6L138.9 181.5L139.0 181.5L139.2 181.4L139.3 181.4L139.5 181.4L139.6 181.4L139.8 181.4L139.9 181.4L140.1 181.5L140.2 181.5L140.4 181.6L140.5 181.7L140.6 181.8L140.7 181.9L140.8 182.0L140.9 182.1L141.0 182.2L141.1 182.3L141.1 182.5L141.2 182.6L141.2 182.7L141.3 182.8L141.3 183.0L141.3 183.1L141.3 183.2L141.4 183.3L141.4 183.5L141.4 183.6L141.4 183.7L141.4 183.8L141.3 184.0L141.3 184.1L141.3 184.2L141.3 184.3L141.2 184.5L141.2 184.6L141.1 184.7L141.1 184.8L141.0 185.0L140.9 185.1L140.8 185.2L140.7 185.3L140.6 185.4L140.5 185.5L140.4 185.6L140.2 185.7L140.1 185.7L139.9 185.8L139.8 185.8L139.6 185.8L139.5 185.8L139.3 185.8L139.2 185.8L139.0 185.7L138.9 185.7L138.8 185.6L138.6 185.5L138.5 185.4L138.4 185.3L138.3 185.2L138.2 185.1L138.1 185.0L138.1 184.8L138.0 184.7L138.0 184.6L137.9 184.5L137.9 184.3L137.8 184.2L137.8 184.1L137.8 184.0L137.8 183.8L137.8 183.7Z" fill="#c8437c"/>
<path d="M138.4 183.6L138.4 183.5L138.4 183.4L138.4 183.3L138.4 183.3L138.4 183.2L138.4 183.1L138.5 183.0L138.5 182.9L138.5 182.8L138.6 182.8L138.6 182.7L138.7 182.6L138.7 182.5L138.8 182.5L138.9 182.4L139.0 182.3L139.0 182.3L139.1 182.2L139.2 182.2L139.3 182.1L139.4 182.1L139.5 182.1L139.6 182.1L139.7 182.1L139.8 182.1L139.9 182.2L140.0 182.2L140.1 182.3L140.2 182.3L140.3 182.4L140.3 182.5L140.4 182.5L140.5 182.6L140.5 182.7L140.6 182.8L140.6 182.8L140.6 182.9L140.7 183.0L140.7 183.1L140.7 183.2L140.7 183.3L140.8 183.3L140.8 183.4L140.8 183.5L140.8 183.6L140.8 183.7L140.8 183.8L140.8 183.8L140.7 183.9L140.7 184.0L140.7 184.1L140.7 184.2L140.6 184.3L140.6 184.3L140.6 184.4L140.5 184.5L140.5 184.6L140.4 184.7L140.3 184.7L140.3 184.8L140.2 184.9L140.1 184.9L140.0 185.0L139.9 185.0L139.8 185.0L139.7 185.1L139.6 185.1L139.5 185.1L139.4 185.1L139.3 185.0L139.2 185.0L139.1 185.0L139.0 184.9L139.0 184.9L138.9 184.8L138.8 184.7L138.7 184.7L138.7 184.6L138.6 184.5L138.6 184.4L138.5 184.3L138.5 184.3L138.5 184.2L138.4 184.1L138.4 184.0L138.4 183.9L138.4 183.8L138.4 183.8L138.4 183.7Z" fill="#c7427c"/>
<path d="M139.0 183.6L139.0 183.6L139.0 183.5L139.0 183.5L139.0 183.4L139.0 183.4L139.0 183.3L139.0 183.3L139.1 183.3L139.1 183.2L139.1 183.2L139.1 183.1L139.1 183.1L139.2 183.1L139.2 183.0L139.2 183.0L139.3 183.0L139.3 182.9L139.4 182.9L139.4 182.9L139.5 182.9L139.5 182.9L139.6 182.9L139.6 182.9L139.7 182.9L139.7 182.9L139.8 182.9L139.8 182.9L139.9 182.9L139.9 183.0L139.9 183.0L140.0 183.0L140.0 183.1L140.0 183.1L140.1 183.1L140.1 183.2L140.1 183.2L140.1 183.3L140.1 183.3L140.2 183.3L140.2 183.4L140.2 183.4L140.2 183.5L140.2 183.5L140.2 183.6L140.2 183.6L140.2 183.6L140.2 183.7L140.2 183.7L140.2 183.8L140.2 183.8L140.2 183.8L140.1 183.9L140.1 183.9L140.1 184.0L140.1 184.0L140.1 184.1L140.0 184.1L140.0 184.1L140.0 184.2L139.9 184.2L139.9 184.2L139.9 184.3L139.8 184.3L139.8 184.3L139.7 184.3L139.7 184.3L139.6 184.3L139.6 184.3L139.5 184.3L139.5 184.3L139.4 184.3L139.4 184.3L139.3 184.3L139.3 184.2L139.2 184.2L139.2 184.2L139.2 184.1L139.1 184.1L139.1 184.1L139.1 184.0L139.1 184.0L139.1 183.9L139.0 183.9L139.0 183.8L139.0 183.8L139.0 183.8L139.0 183.7L139.0 183.7L139.0 183.6Z" fill="#c7417d"/>
<path d="M81.87 129.48L83.34 126.69L84.93 124.03L86.64 121.51L88.47 119.13L90.40 116.89L92.44 114.78L94.57 112.81L96.78 110.98L99.08 109.29L101.45 107.73L103.89 106.30L106.40 105.01L108.95 103.85L111.56 102.83L114.21 101.93L116.90 101.17L119.61 100.55L122.35 100.05L125.11 99.68L127.88 99.45L130.65 99.34L133.42 99.36L136.18 99.51L138.92 99.79L141.65 100.20L144.35 100.73L147.02 101.38L149.67 102.14L152.29 103.02L154.87 104.01L157.41 105.11L159.92 106.32L162.39 107.62L164.81 109.02L167.19 110.51L169.51 112.10L171.79 113.77L174.01 115.53L176.18 117.37L178.29 119.28L180.33 121.27L182.32 123.33L184.23 125.46L186.08 127.66L187.86 129.91L189.56 132.22L191.19 134.59L192.74 137.01L194.20 139.47L195.59 141.98L196.88 144.53L198.09 147.12L199.21 149.75L200.24 152.40L201.17 155.09L202.02 157.80L202.78 160.54L203.45 163.30L204.03 166.08L204.52 168.87L204.93 171.68L205.24 174.49L205.47 177.32L205.61 180.15L205.67 182.98L205.63 185.81L205.51 188.64L205.31 191.47L205.01 194.28L204.63 197.09L204.17 199.88L203.62 202.65L202.98 205.41L202.26 208.14L201.46 210.85L200.57 213.53L199.59 216.18L198.54 218.80L197.39 221.38L196.17 223.93L194.86 226.43L193.47 228.89L192.00 231.31L190.44 233.67L188.80 235.99L187.08 238.25L185.29 240.45L183.42 242.59L181.48 244.67L179.47 246.68L177.39 248.62L175.25 250.48L173.06 252.27L170.80 253.99L168.49 255.62L166.13 257.16L163.71 258.62L161.25 259.98L158.75 261.25L156.21 262.43L153.63 263.50L151.01 264.47L148.36 265.33L145.68 266.09L142.98 266.73L140.25 267.26L137.50 267.66L134.73 267.95L131.94 268.11L129.14 268.14L126.34 268.04L123.52 267.81L120.70 267.44L117.88 266.93L115.06 266.28L112.24 265.48L109.43 264.54L106.63 263.44L103.84 262.18" fill="none" stroke="#000" stroke-width="1.0"/>
<path d="M87.26 82.78L89.93 81.11L92.63 79.60L95.38 78.24L98.15 77.01L100.96 75.93L103.80 74.98L106.65 74.18L109.53 73.50L112.42 72.96L115.32 72.54L118.23 72.25L121.15 72.09L124.07 72.05L126.98 72.12L129.89 72.31L132.79 72.62L135.68 73.03L138.55 73.56L141.40 74.19L144.23 74.93L147.02 75.77L149.79 76.70L152.52 77.74L155.22 78.87L157.87 80.09L160.48 81.40L163.04 82.79L165.55 84.28L168.02 85.84L170.44 87.48L172.81 89.20L175.12 90.99L177.39 92.86L179.61 94.79L181.77 96.79L183.87 98.86L185.93 100.98L187.93 103.17L189.87 105.41L191.75 107.70L193.58 110.05L195.35 112.44L197.06 114.89L198.71 117.37L200.30 119.90L201.82 122.46L203.28 125.06L204.68 127.70L206.02 130.36L207.29 133.06L208.49 135.79L209.62 138.54L210.69 141.32L211.68 144.12L212.61 146.94L213.46 149.78L214.24 152.64L214.94 155.52L215.57 158.40L216.12 161.30L216.59 164.21L216.99 167.13L217.31 170.05L217.54 172.98L217.71 175.91L217.79 178.84L217.80 181.77L217.73 184.71L217.59 187.63L217.37 190.56L217.08 193.47L216.72 196.38L216.29 199.29L215.78 202.18L215.21 205.06L214.57 207.92L213.86 210.77L213.08 213.60L212.23 216.42L211.32 219.21L210.34 221.99L209.30 224.74L208.19 227.47L207.02 230.17L205.79 232.85L204.50 235.49L203.14 238.11L201.73 240.69L200.25 243.24L198.72 245.76L197.13 248.24L195.48 250.68L193.78 253.09L192.02 255.45L190.20 257.77L188.33 260.05L186.41 262.28L184.44 264.46L182.41 266.60L180.33 268.68L178.20 270.72L176.02 272.70L173.80 274.63L171.52 276.50L169.20 278.31L166.83 280.07L164.42 281.76L161.96 283.39L159.45 284.96L156.91 286.47L154.32 287.90L151.68 289.27L149.01 290.57L146.30 291.80L143.54 292.96L140.75 294.04L137.92 295.05L135.05 295.98L132.15 296.83" fill="none" stroke="#000" stroke-width="1.0"/>
<path d="M100.54 41.65L103.03 41.72L105.51 41.87L107.99 42.10L110.45 42.40L112.91 42.77L115.36 43.21L117.80 43.71L120.23 44.27L122.66 44.89L125.07 45.55L127.48 46.27L129.87 47.03L132.26 47.84L134.63 48.68L137.00 49.55L139.36 50.46L141.70 51.40L144.03 52.35L146.36 53.34L148.66 54.35L150.95 55.38L153.23 56.45L155.48 57.55L157.71 58.69L159.91 59.87L162.09 61.08L164.23 62.34L166.35 63.65L168.43 65.00L170.48 66.40L172.49 67.84L174.47 69.33L176.41 70.87L178.33 72.45L180.20 74.07L182.04 75.73L183.85 77.43L185.62 79.17L187.36 80.95L189.07 82.76L190.74 84.61L192.37 86.50L193.97 88.41L195.54 90.36L197.07 92.34L198.56 94.35L200.03 96.39L201.45 98.46L202.85 100.56L204.20 102.68L205.53 104.82L206.82 106.99L208.07 109.18L209.29 111.39L210.47 113.63L211.62 115.88L212.73 118.15L213.81 120.44L214.86 122.74L215.86 125.06L216.84 127.39L217.77 129.74L218.68 132.09L219.54 134.46L220.36 136.85L221.15 139.24L221.89 141.64L222.60 144.05L223.26 146.48L223.88 148.91L224.46 151.34L225.00 153.79L225.49 156.24L225.94 158.69L226.34 161.15L226.69 163.62L227.00 166.09L227.26 168.56L227.47 171.04L227.63 173.51L227.74 175.99L227.80 178.47L227.80 180.95L227.76 183.43L227.66 185.90L227.51 188.38L227.30 190.85L227.04 193.32L226.72 195.78L226.35 198.24L225.91 200.70L225.43 203.14L224.89 205.59L224.29 208.02L223.66 210.45L222.97 212.88L222.24 215.29L221.48 217.70L220.67 220.10L219.83 222.49L218.96 224.87L218.05 227.24L217.12 229.61L216.16 231.96L215.17 234.30L214.17 236.63L213.15 238.95L212.11 241.26L211.05 243.55L209.99 245.84L208.92 248.11L207.84 250.36L206.75 252.61L205.67 254.84L204.59 257.05L203.50 259.25L202.43 261.44L201.36 263.61L200.31 265.76" fill="none" stroke="#000" stroke-width="1.0"/>
<path d="M133.60 10.51L135.36 11.70L137.11 12.91L138.86 14.13L140.59 15.36L142.32 16.61L144.04 17.88L145.75 19.16L147.45 20.45L149.14 21.76L150.82 23.09L152.50 24.42L154.16 25.78L155.82 27.14L157.46 28.52L159.10 29.92L160.72 31.32L162.34 32.75L163.94 34.18L165.54 35.63L167.12 37.09L168.70 38.57L170.26 40.06L171.81 41.56L173.35 43.08L174.88 44.61L176.39 46.15L177.90 47.70L179.39 49.27L180.88 50.85L182.34 52.45L183.80 54.05L185.24 55.67L186.67 57.30L188.09 58.95L189.49 60.60L190.88 62.27L192.25 63.95L193.61 65.64L194.95 67.35L196.28 69.06L197.59 70.79L198.89 72.53L200.17 74.28L201.43 76.04L202.67 77.82L203.90 79.60L205.11 81.40L206.30 83.21L207.47 85.03L208.63 86.86L209.76 88.70L210.88 90.55L211.97 92.41L213.05 94.28L214.11 96.17L215.14 98.06L216.15 99.96L217.15 101.88L218.12 103.80L219.07 105.74L219.99 107.68L220.90 109.64L221.78 111.60L222.64 113.58L223.47 115.56L224.28 117.56L225.07 119.56L225.83 121.57L226.57 123.59L227.28 125.62L227.97 127.65L228.64 129.69L229.28 131.74L229.89 133.80L230.48 135.86L231.04 137.93L231.58 140.01L232.09 142.09L232.57 144.18L233.03 146.28L233.45 148.37L233.86 150.48L234.23 152.59L234.58 154.70L234.90 156.82L235.19 158.94L235.45 161.06L235.69 163.19L235.89 165.32L236.07 167.45L236.21 169.59L236.33 171.73L236.42 173.87L236.48 176.01L236.51 178.15L236.50 180.30L236.47 182.44L236.41 184.59L236.31 186.73L236.18 188.88L236.03 191.03L235.84 193.17L235.61 195.32L235.36 197.46L235.07 199.61L234.76 201.75L234.40 203.89L234.02 206.03L233.60 208.16L233.15 210.30L232.66 212.43L232.14 214.56L231.59 216.68L231.00 218.80L230.38 220.92L229.72 223.03L229.03 225.14L228.30 227.24L227.54 229.34" fill="none" stroke="#000" stroke-width="1.0"/>
<path d="M194.60 28.19L195.35 29.45L196.10 30.71L196.86 31.97L197.61 33.23L198.36 34.50L199.11 35.78L199.86 37.06L200.61 38.34L201.35 39.62L202.10 40.91L202.84 42.20L203.58 43.50L204.32 44.80L205.06 46.10L205.80 47.41L206.53 48.72L207.26 50.03L207.99 51.35L208.72 52.67L209.44 53.99L210.16 55.31L210.88 56.64L211.59 57.98L212.30 59.31L213.01 60.65L213.72 62.00L214.42 63.34L215.11 64.69L215.80 66.04L216.49 67.40L217.18 68.75L217.86 70.11L218.53 71.48L219.20 72.85L219.87 74.22L220.53 75.59L221.18 76.96L221.83 78.34L222.48 79.72L223.12 81.11L223.75 82.49L224.38 83.88L225.00 85.27L225.62 86.67L226.23 88.06L226.83 89.46L227.43 90.87L228.02 92.27L228.60 93.68L229.18 95.09L229.75 96.50L230.31 97.92L230.86 99.33L231.41 100.75L231.95 102.17L232.49 103.60L233.01 105.02L233.53 106.45L234.04 107.88L234.54 109.32L235.03 110.75L235.51 112.19L235.99 113.63L236.45 115.07L236.91 116.51L237.36 117.96L237.80 119.41L238.23 120.86L238.65 122.31L239.06 123.76L239.46 125.22L239.85 126.67L240.23 128.13L240.60 129.59L240.96 131.06L241.31 132.52L241.65 133.99L241.98 135.46L242.30 136.92L242.61 138.40L242.91 139.87L243.19 141.34L243.46 142.82L243.73 144.30L243.98 145.77L244.22 147.25L244.44 148.74L244.66 150.22L244.86 151.70L245.05 153.19L245.23 154.68L245.39 156.17L245.54 157.65L245.68 159.15L245.81 160.64L245.92 162.13L246.02 163.63L246.11 165.12L246.18 166.62L246.24 168.12L246.29 169.61L246.32 171.11L246.34 172.61L246.34 174.12L246.33 175.62L246.31 177.12L246.27 178.63L246.21 180.13L246.14 181.64L246.06 183.14L245.96 184.65L245.84 186.16L245.71 187.67L245.56 189.18L245.40 190.69L245.22 192.20L245.03 193.71L244.82 195.22L244.59 196.74" fill="none" stroke="#000" stroke-width="1.0"/>
<ellipse cx="139.6" cy="183.6" rx="10.7" ry="13.2" fill="none" stroke="#000" stroke-width="1.0"/>
<ellipse cx="139.1" cy="183.2" rx="20.5" ry="25.0" fill="none" stroke="#000" stroke-width="1.0"/>
<ellipse cx="139.0" cy="183.2" rx="31.0" ry="37.2" fill="none" stroke="#000" stroke-width="1.0"/>
<ellipse cx="138.9" cy="183.0" rx="41.8" ry="49.0" fill="none" stroke="#000" stroke-width="1.0"/>
<path d="M138.63 120.14L140.11 120.18L141.59 120.27L143.07 120.42L144.54 120.62L146.00 120.88L147.46 121.19L148.91 121.55L150.35 121.96L151.77 122.42L153.19 122.92L154.60 123.48L155.99 124.08L157.37 124.72L158.73 125.41L160.08 126.14L161.41 126.90L162.73 127.71L164.02 128.56L165.30 129.44L166.55 130.36L167.79 131.31L169.00 132.29L170.18 133.31L171.35 134.36L172.49 135.43L173.60 136.54L174.68 137.67L175.74 138.83L176.77 140.01L177.77 141.21L178.73 142.44L179.67 143.69L180.57 144.95L181.44 146.24L182.28 147.55L183.09 148.87L183.86 150.21L184.60 151.56L185.31 152.94L185.98 154.32L186.62 155.72L187.23 157.14L187.80 158.57L188.35 160.01L188.85 161.46L189.33 162.92L189.77 164.39L190.18 165.87L190.55 167.37L190.89 168.86L191.20 170.37L191.47 171.89L191.71 173.41L191.92 174.93L192.09 176.46L192.23 178.00L192.33 179.53L192.40 181.07L192.43 182.62L192.44 184.16L192.40 185.71L192.33 187.25L192.23 188.80L192.09 190.34L191.92 191.88L191.71 193.42L191.47 194.96L191.19 196.49L190.88 198.01L190.53 199.54L190.15 201.05L189.73 202.56L189.28 204.06L188.79 205.55L188.27 207.03L187.72 208.50L187.14 209.95L186.52 211.40L185.87 212.82L185.19 214.23L184.48 215.63L183.73 217.01L182.96 218.36L182.16 219.70L181.32 221.02L180.46 222.32L179.57 223.59L178.64 224.84L177.69 226.06L176.72 227.26L175.71 228.43L174.68 229.57L173.62 230.68L172.53 231.76L171.42 232.82L170.28 233.83L169.11 234.82L167.92 235.77L166.70 236.68L165.46 237.56L164.20 238.40L162.91 239.20L161.60 239.97L160.26 240.69L158.90 241.37L157.52 242.00L156.12 242.60L154.70 243.15L153.25 243.65L151.78 244.10L150.30 244.51L148.80 244.88L147.29 245.20L145.76 245.47L144.23 245.70L142.68 245.88L141.13 246.02L139.57 246.11L138.01 246.16L136.46 246.16L134.90 246.12L133.34 246.03L131.79 245.90L130.24 245.73L128.71 245.51L127.18 245.25L125.67 244.94L124.17 244.59L122.69 244.20L121.22 243.76L119.77 243.28L118.35 242.76L116.95 242.19L115.57 241.59L114.22 240.94L112.90 240.24L111.61 239.51L110.34 238.74L109.10 237.93L107.88 237.08L106.69 236.20L105.53 235.28L104.40 234.32L103.30 233.34L102.22 232.32L101.17 231.26L100.15 230.18L99.16 229.06L98.19 227.92L97.26 226.75L96.35 225.55L95.48 224.33L94.63 223.08L93.81 221.81L93.02 220.51L92.26 219.19L91.53 217.85L90.83 216.49L90.16 215.11L89.53 213.71L88.92 212.29L88.34 210.85L87.79 209.40L87.28 207.94L86.79 206.46L86.34 204.97L85.92 203.46L85.52 201.95L85.17 200.42L84.84 198.89L84.54 197.34L84.28 195.79L84.05 194.24L83.85 192.67L83.69 191.11L83.55 189.54L83.45 187.96L83.39 186.39L83.35 184.81L83.35 183.24L83.39 181.66L83.45 180.09L83.56 178.52L83.69 176.96L83.86 175.40L84.06 173.84L84.30 172.29L84.58 170.75L84.89 169.22L85.23 167.70L85.61 166.19L86.02 164.69L86.47 163.20L86.95 161.72L87.46 160.26L88.01 158.81L88.59 157.37L89.20 155.95L89.84 154.55L90.52 153.16L91.23 151.79L91.97 150.44L92.74 149.10L93.54 147.79L94.37 146.49L95.23 145.22L96.12 143.97L97.04 142.74L97.99 141.53L98.97 140.35L99.98 139.19L101.01 138.05L102.07 136.95L103.16 135.86L104.28 134.81L105.42 133.78L106.59 132.78L107.79 131.81L109.01 130.87L110.26 129.96L111.53 129.08L112.82 128.24L114.14 127.42L115.48 126.65L116.84 125.91L118.22 125.21L119.61 124.54L121.02 123.92L122.44 123.34L123.88 122.80L125.33 122.31L126.78 121.87L128.25 121.47L129.72 121.12L131.20 120.83L132.68 120.58L134.17 120.39L135.66 120.25L137.14 120.17Z" fill="none" stroke="#f00000" stroke-width="1.2"/>
</g>
<path d="M77.0 7.9H296.4V302.0H77.0Z" fill="none" stroke="#3a3a3a" stroke-width="1"/>
<path d="M296.4 7.9V302.5" fill="none" stroke="#2a2a2a" stroke-width="1"/>
<path d="M72.9 12.20H76.5" stroke="#444" stroke-width="1"/>
<path d="M72.9 69.26H76.5" stroke="#444" stroke-width="1"/>
<path d="M72.9 126.31H76.5" stroke="#444" stroke-width="1"/>
<path d="M72.9 183.37H76.5" stroke="#444" stroke-width="1"/>
<path d="M72.9 240.43H76.5" stroke="#444" stroke-width="1"/>
<path d="M72.9 297.49H76.5" stroke="#444" stroke-width="1"/>
<path d="M84.50 302.3V305.8" stroke="#444" stroke-width="1"/>
<path d="M149.47 302.3V305.8" stroke="#444" stroke-width="1"/>
<path d="M214.44 302.3V305.8" stroke="#444" stroke-width="1"/>
<path d="M279.41 302.3V305.8" stroke="#444" stroke-width="1"/>
<text x="72.2" y="17.50" text-anchor="end" font-family="Liberation Mono, monospace" font-style="italic" font-size="16.6" fill="#000" stroke="#fff" stroke-width="0.18">2.0</text>
<text x="72.2" y="74.56" text-anchor="end" font-family="Liberation Mono, monospace" font-style="italic" font-size="16.6" fill="#000" stroke="#fff" stroke-width="0.18">1.3</text>
<text x="72.2" y="131.61" text-anchor="end" font-family="Liberation Mono, monospace" font-style="italic" font-size="16.6" fill="#000" stroke="#fff" stroke-width="0.18">0.6</text>
<text x="72.2" y="188.67" text-anchor="end" font-family="Liberation Mono, monospace" font-style="italic" font-size="16.6" fill="#000" stroke="#fff" stroke-width="0.18">&#8722;0.1</text>
<text x="72.2" y="245.73" text-anchor="end" font-family="Liberation Mono, monospace" font-style="italic" font-size="16.6" fill="#000" stroke="#fff" stroke-width="0.18">&#8722;0.8</text>
<text x="72.2" y="302.79" text-anchor="end" font-family="Liberation Mono, monospace" font-style="italic" font-size="16.6" fill="#000" stroke="#fff" stroke-width="0.18">&#8722;1.5</text>
<ellipse cx="67.58" cy="11.40" rx="1.25" ry="1.7" fill="#fff" transform="rotate(12 67.58 11.40)"/>
<ellipse cx="47.66" cy="125.51" rx="1.25" ry="1.7" fill="#fff" transform="rotate(12 47.66 125.51)"/>
<ellipse cx="47.66" cy="182.57" rx="1.25" ry="1.7" fill="#fff" transform="rotate(12 47.66 182.57)"/>
<ellipse cx="47.66" cy="239.63" rx="1.25" ry="1.7" fill="#fff" transform="rotate(12 47.66 239.63)"/>
<text x="83.70" y="318.0" text-anchor="middle" font-family="Liberation Mono, monospace" font-style="italic" font-size="16.6" fill="#000" stroke="#fff" stroke-width="0.18">1.9</text>
<text x="148.67" y="318.0" text-anchor="middle" font-family="Liberation Mono, monospace" font-style="italic" font-size="16.6" fill="#000" stroke="#fff" stroke-width="0.18">2.7</text>
<text x="213.64" y="318.0" text-anchor="middle" font-family="Liberation Mono, monospace" font-style="italic" font-size="16.6" fill="#000" stroke="#fff" stroke-width="0.18">3.5</text>
<text x="278.61" y="318.0" text-anchor="middle" font-family="Liberation Mono, monospace" font-style="italic" font-size="16.6" fill="#000" stroke="#fff" stroke-width="0.18">4.3</text>
<text x="187.2" y="336.1" text-anchor="middle" font-family="Liberation Mono, monospace" font-style="italic" font-size="16.6" fill="#000" stroke="#fff" stroke-width="0.18">R (m)</text>
<text transform="translate(13.3 153.6) rotate(-90)" text-anchor="middle" font-family="Liberation Mono, monospace" font-style="italic" font-size="16.6" fill="#000" stroke="#fff" stroke-width="0.18">Z (m)</text>
<rect x="245" y="195" width="15" height="95.7" fill="url(#cbar)"/>
<path d="M260 195.20H263.5" stroke="#808080" stroke-width="1"/>
<text x="267.0" y="200.20" font-family="Liberation Sans, sans-serif" font-size="14.3" fill="#222">0.04</text>
<path d="M260 219.07H263.5" stroke="#808080" stroke-width="1"/>
<text x="267.0" y="224.07" font-family="Liberation Sans, sans-serif" font-size="14.3" fill="#222">0.03</text>
<path d="M260 242.95H263.5" stroke="#808080" stroke-width="1"/>
<text x="267.0" y="247.95" font-family="Liberation Sans, sans-serif" font-size="14.3" fill="#222">0.02</text>
<path d="M260 266.82H263.5" stroke="#808080" stroke-width="1"/>
<text x="267.0" y="271.82" font-family="Liberation Sans, sans-serif" font-size="14.3" fill="#222">0.01</text>
<path d="M260 290.70H263.5" stroke="#808080" stroke-width="1"/>
<text x="267.0" y="295.70" font-family="Liberation Sans, sans-serif" font-size="14.3" fill="#222">0.</text>
<text x="150.8" y="369.2" text-anchor="middle" font-size="16.5" font-family="Liberation Serif, serif" fill="#111" stroke="#111" stroke-width="0.3">(a)</text>
<clipPath id="cr"><rect x="380.2" y="52.2" width="225.6" height="205.3"/></clipPath>
<g clip-path="url(#cr)">
<path d="M380.20 46.75L380.77 49.98L381.34 53.18L381.91 56.34L382.48 59.46L383.05 62.54L383.62 65.59L384.19 68.59L384.76 71.56L385.33 74.48L385.90 77.36L386.47 80.20L387.04 82.99L387.61 85.75L388.17 88.46L388.74 91.13L389.31 93.76L389.88 96.34L390.45 98.89L391.02 101.39L391.59 103.84L392.16 106.26L392.73 108.64L393.30 110.97L393.87 113.26L394.44 115.51L395.01 117.72L395.58 119.89L396.15 122.02L396.72 124.12L397.29 126.17L397.86 128.18L398.43 130.15L399.00 132.09L399.57 133.99L400.14 135.85L400.71 137.68L401.28 139.47L401.85 141.22L402.42 142.94L402.98 144.62L403.55 146.27L404.12 147.89L404.69 149.47L405.26 151.02L405.83 152.53L406.40 154.02L406.97 155.47L407.54 156.89L408.11 158.29L408.68 159.65L409.25 160.98L409.82 162.28L410.39 163.56L410.96 164.81L411.53 166.03L412.10 167.22L412.67 168.39L413.24 169.53L413.81 170.64L414.38 171.73L414.95 172.79L415.52 173.83L416.09 174.85L416.66 175.84L417.23 176.81L417.79 177.76L418.36 178.68L418.93 179.59L419.50 180.47L420.07 181.33L420.64 182.17L421.21 182.99L421.78 183.79L422.35 184.57L422.92 185.33L423.49 186.08L424.06 186.80L424.63 187.51L425.20 188.20L427.02 190.29L428.84 192.22L430.65 193.99L432.47 195.62L434.29 197.12L436.11 198.49L437.93 199.75L439.75 200.90L441.56 201.94L443.38 202.90L445.20 203.76L447.02 204.55L448.84 205.25L450.65 205.89L452.47 206.46L454.29 206.97L456.11 207.42L457.93 207.82L459.75 208.17L461.56 208.48L463.38 208.73L465.20 208.95L467.02 209.13L468.84 209.28L470.65 209.39L472.47 209.46L474.29 209.51L476.11 209.53L477.93 209.52L479.75 209.48L481.56 209.42L483.38 209.33L485.20 209.22L487.02 209.09L488.84 208.93L490.65 208.75L492.47 208.55L494.29 208.32L496.11 208.07L497.93 207.81L499.75 207.52L501.56 207.20L503.38 206.87L505.20 206.51L507.02 206.13L508.84 205.73L510.65 205.30L512.47 204.85L514.29 204.38L516.11 203.88L517.93 203.36L519.75 202.81L521.56 202.24L523.38 201.63L525.20 201.01L527.02 200.35L528.84 199.67L530.65 198.95L532.47 198.21L534.29 197.44L536.11 196.63L537.93 195.80L539.75 194.93L541.56 194.04L543.38 193.11L545.20 192.14L547.02 191.14L548.84 190.11L550.65 189.04L552.47 187.94L554.29 186.80L556.11 185.63L557.93 184.42L559.75 183.17L561.56 181.88L563.38 180.56L565.20 179.20L567.02 177.79L568.84 176.35L570.65 174.87L572.47 173.35L574.29 171.80L576.11 170.20L577.93 168.56L579.75 166.88L581.56 165.16L583.38 163.40L585.20 161.60L587.02 159.75L588.84 157.87L590.65 155.95L592.47 153.98L594.29 151.98L596.11 149.93L597.93 147.85L599.75 145.72L601.56 143.56L603.38 141.35L605.20 139.11" fill="none" stroke="#009e73" stroke-width="2.1" stroke-dasharray="4.3 7 22.7 7 4.3 7" stroke-dashoffset="42.6"/>
<path d="M380.20 160.64L381.33 156.03L382.46 151.50L383.59 147.07L384.72 142.72L385.85 138.47L386.98 134.31L388.11 130.24L389.25 126.27L390.38 122.40L391.51 118.63L392.64 114.96L393.77 111.39L394.90 107.93L396.03 104.57L397.16 101.31L398.29 98.17L399.42 95.13L400.55 92.21L401.68 89.40L402.81 86.70L403.94 84.12L405.07 81.66L406.21 79.32L407.34 77.09L408.47 74.99L409.60 73.01L410.73 71.16L411.86 69.43L412.99 67.83L414.12 66.36L415.25 65.01L416.38 63.79L417.51 62.69L418.64 61.70L419.77 60.82L420.90 60.05L422.03 59.39L423.16 58.83L424.30 58.36L425.43 57.98L426.56 57.70L427.69 57.50L428.82 57.38L429.95 57.33L431.08 57.37L432.21 57.47L433.34 57.64L434.47 57.87L435.60 58.16L436.73 58.50L437.86 58.90L438.99 59.34L440.12 59.83L441.26 60.36L442.39 60.93L443.52 61.52L444.65 62.15L445.78 62.80L446.91 63.47L448.04 64.17L449.17 64.89L450.30 65.62L451.43 66.39L452.56 67.17L453.69 67.97L454.82 68.79L455.95 69.64L457.08 70.50L458.22 71.39L459.35 72.29L460.48 73.22L461.61 74.16L462.74 75.13L463.87 76.11L465.00 77.11L466.13 78.13L467.26 79.16L468.39 80.22L469.52 81.29L470.65 82.38L471.78 83.49L472.91 84.62L474.04 85.76L475.17 86.92L476.31 88.09L477.44 89.28L478.57 90.49L479.70 91.71L480.83 92.95L481.96 94.20L483.09 95.47L484.22 96.75L485.35 98.05L486.48 99.36L487.61 100.68L488.74 102.02L489.87 103.37L491.00 104.74L492.13 106.12L493.27 107.51L494.40 108.91L495.53 110.33L496.66 111.76L497.79 113.20L498.92 114.65L500.05 116.11L501.18 117.59L502.31 119.07L503.44 120.57L504.57 122.07L505.70 123.59L506.83 125.12L507.96 126.65L509.09 128.20L510.23 129.75L511.36 131.32L512.49 132.89L513.62 134.47L514.75 136.06L515.88 137.66L517.01 139.26L518.14 140.87L519.27 142.49L520.40 144.11L521.53 145.74L522.66 147.37L523.79 149.01L524.92 150.65L526.05 152.29L527.18 153.94L528.32 155.59L529.45 157.25L530.58 158.90L531.71 160.56L532.84 162.22L533.97 163.88L535.10 165.54L536.23 167.21L537.36 168.87L538.49 170.53L539.62 172.19L540.75 173.84L541.88 175.50L543.01 177.15L544.14 178.81L545.28 180.45L546.41 182.10L547.54 183.74L548.67 185.38L549.80 187.01L550.93 188.63L552.06 190.26L553.19 191.87L554.32 193.48L555.45 195.08L556.58 196.68L557.71 198.26L558.84 199.84L559.97 201.42L561.10 202.98L562.24 204.53L563.37 206.07L564.50 207.61L565.63 209.13L566.76 210.64L567.89 212.15L569.02 213.64L570.15 215.11L571.28 216.58L572.41 218.03L573.54 219.47L574.67 220.90L575.80 222.31L576.93 223.71L578.06 225.09L579.19 226.46L580.33 227.81L581.46 229.14L582.59 230.46L583.72 231.77L584.85 233.05L585.98 234.32L587.11 235.57L588.24 236.80L589.37 238.01L590.50 239.20L591.63 240.38L592.76 241.53L593.89 242.66L595.02 243.78L596.15 244.87L597.29 245.93L598.42 246.98L599.55 248.01L600.68 249.01L601.81 249.98L602.94 250.94L604.07 251.87L605.20 252.77" fill="none" stroke="#9400d3" stroke-width="1.5"/>
</g>
<rect x="380.2" y="52.2" width="225.0" height="205.3" fill="none" stroke="#333" stroke-width="1.15"/>
<path d="M380.2 120.63h4.6" stroke="#111" stroke-width="0.95"/>
<path d="M380.2 189.07h4.6" stroke="#111" stroke-width="0.95"/>
<path d="M605.2 103.53h-4.6" stroke="#111" stroke-width="0.95"/>
<path d="M605.2 154.85h-4.6" stroke="#111" stroke-width="0.95"/>
<path d="M605.2 206.18h-4.6" stroke="#111" stroke-width="0.95"/>
<path d="M436.45 52.2v4.6M436.45 257.5v-4.6" stroke="#111" stroke-width="0.95"/>
<path d="M492.70 52.2v4.6M492.70 257.5v-4.6" stroke="#111" stroke-width="0.95"/>
<path d="M548.95 52.2v4.6M548.95 257.5v-4.6" stroke="#111" stroke-width="0.95"/>
<text x="370.3" y="57.70" text-anchor="end" font-size="18.7" font-family="Liberation Serif, serif" fill="#111" stroke="#111" stroke-width="0.3">7.0</text>
<text x="370.3" y="126.13" text-anchor="end" font-size="18.7" font-family="Liberation Serif, serif" fill="#111" stroke="#111" stroke-width="0.3">5.5</text>
<text x="370.3" y="194.57" text-anchor="end" font-size="18.7" font-family="Liberation Serif, serif" fill="#111" stroke="#111" stroke-width="0.3">4.0</text>
<text x="370.3" y="263.00" text-anchor="end" font-size="18.7" font-family="Liberation Serif, serif" fill="#111" stroke="#111" stroke-width="0.3">2.5</text>
<text x="614.6" y="57.70" font-size="18.7" font-family="Liberation Serif, serif" fill="#111" stroke="#111" stroke-width="0.3">0.8</text>
<text x="614.6" y="109.03" font-size="18.7" font-family="Liberation Serif, serif" fill="#111" stroke="#111" stroke-width="0.3">0.6</text>
<text x="614.6" y="160.35" font-size="18.7" font-family="Liberation Serif, serif" fill="#111" stroke="#111" stroke-width="0.3">0.4</text>
<text x="614.6" y="211.68" font-size="18.7" font-family="Liberation Serif, serif" fill="#111" stroke="#111" stroke-width="0.3">0.2</text>
<text x="614.6" y="263.00" font-size="18.7" font-family="Liberation Serif, serif" fill="#111" stroke="#111" stroke-width="0.3">0</text>
<text x="380.20" y="279.9" text-anchor="middle" font-size="18.7" font-family="Liberation Serif, serif" fill="#111" stroke="#111" stroke-width="0.3">0</text>
<text x="436.45" y="279.9" text-anchor="middle" font-size="18.7" font-family="Liberation Serif, serif" fill="#111" stroke="#111" stroke-width="0.3">0.25</text>
<text x="492.70" y="279.9" text-anchor="middle" font-size="18.7" font-family="Liberation Serif, serif" fill="#111" stroke="#111" stroke-width="0.3">0.5</text>
<text x="548.95" y="279.9" text-anchor="middle" font-size="18.7" font-family="Liberation Serif, serif" fill="#111" stroke="#111" stroke-width="0.3">0.75</text>
<text x="605.20" y="279.9" text-anchor="middle" font-size="18.7" font-family="Liberation Serif, serif" fill="#111" stroke="#111" stroke-width="0.3">1</text>
<text x="522.3" y="69.5" font-size="18" font-style="italic" font-family="Liberation Serif, serif" fill="#111" stroke="#111" stroke-width="0.3">q</text>
<text transform="translate(521.6 86.3) scale(1.2 1)" font-size="18" font-style="italic" font-family="Liberation Serif, serif" fill="#111" stroke="#111" stroke-width="0.3">J</text>
<path d="M540.6 65H586.1" stroke="#009e73" stroke-width="2.1" stroke-dasharray="4.3 7.2 23 6.8 4.3 7"/>
<path d="M540.6 81.8H585.9" stroke="#9400d3" stroke-width="1.5"/>
<text transform="translate(328.2 155) rotate(-90)" text-anchor="middle" font-size="18" font-style="italic" font-family="Liberation Serif, serif" fill="#111" stroke="#111" stroke-width="0.3">q</text>
<g transform="translate(679.6 200.3) rotate(-90)" font-family="Liberation Serif, serif" fill="#111" stroke="#111" stroke-width="0.3">
<text x="1.0" y="0" font-size="18.5" font-style="italic">J</text>
<text transform="translate(16.2 3.6) scale(0.85 1)" font-size="27">(</text>
<text x="25.0" y="0" font-size="17.5">MA</text>
<text x="53.0" y="0" font-size="17.5">m</text>
<path d="M68.0 -10.9H75.8" stroke="#111" stroke-width="0.9"/>
<text x="76.8" y="-7.4" font-size="12.3">2</text>
<text transform="translate(83.2 3.6) scale(0.85 1)" font-size="27">)</text>
</g>
<text x="480.2" y="303.2" font-size="20.5" font-style="italic" font-family="Liberation Serif, serif" fill="#111" stroke="#111" stroke-width="0.3">&#968;<tspan dy="3.3" dx="0.5" font-size="13.5">N</tspan></text>
<text x="505" y="334" text-anchor="middle" font-size="16.5" font-family="Liberation Serif, serif" fill="#111" stroke="#111" stroke-width="0.3">(b)</text>
</svg></body></html>
